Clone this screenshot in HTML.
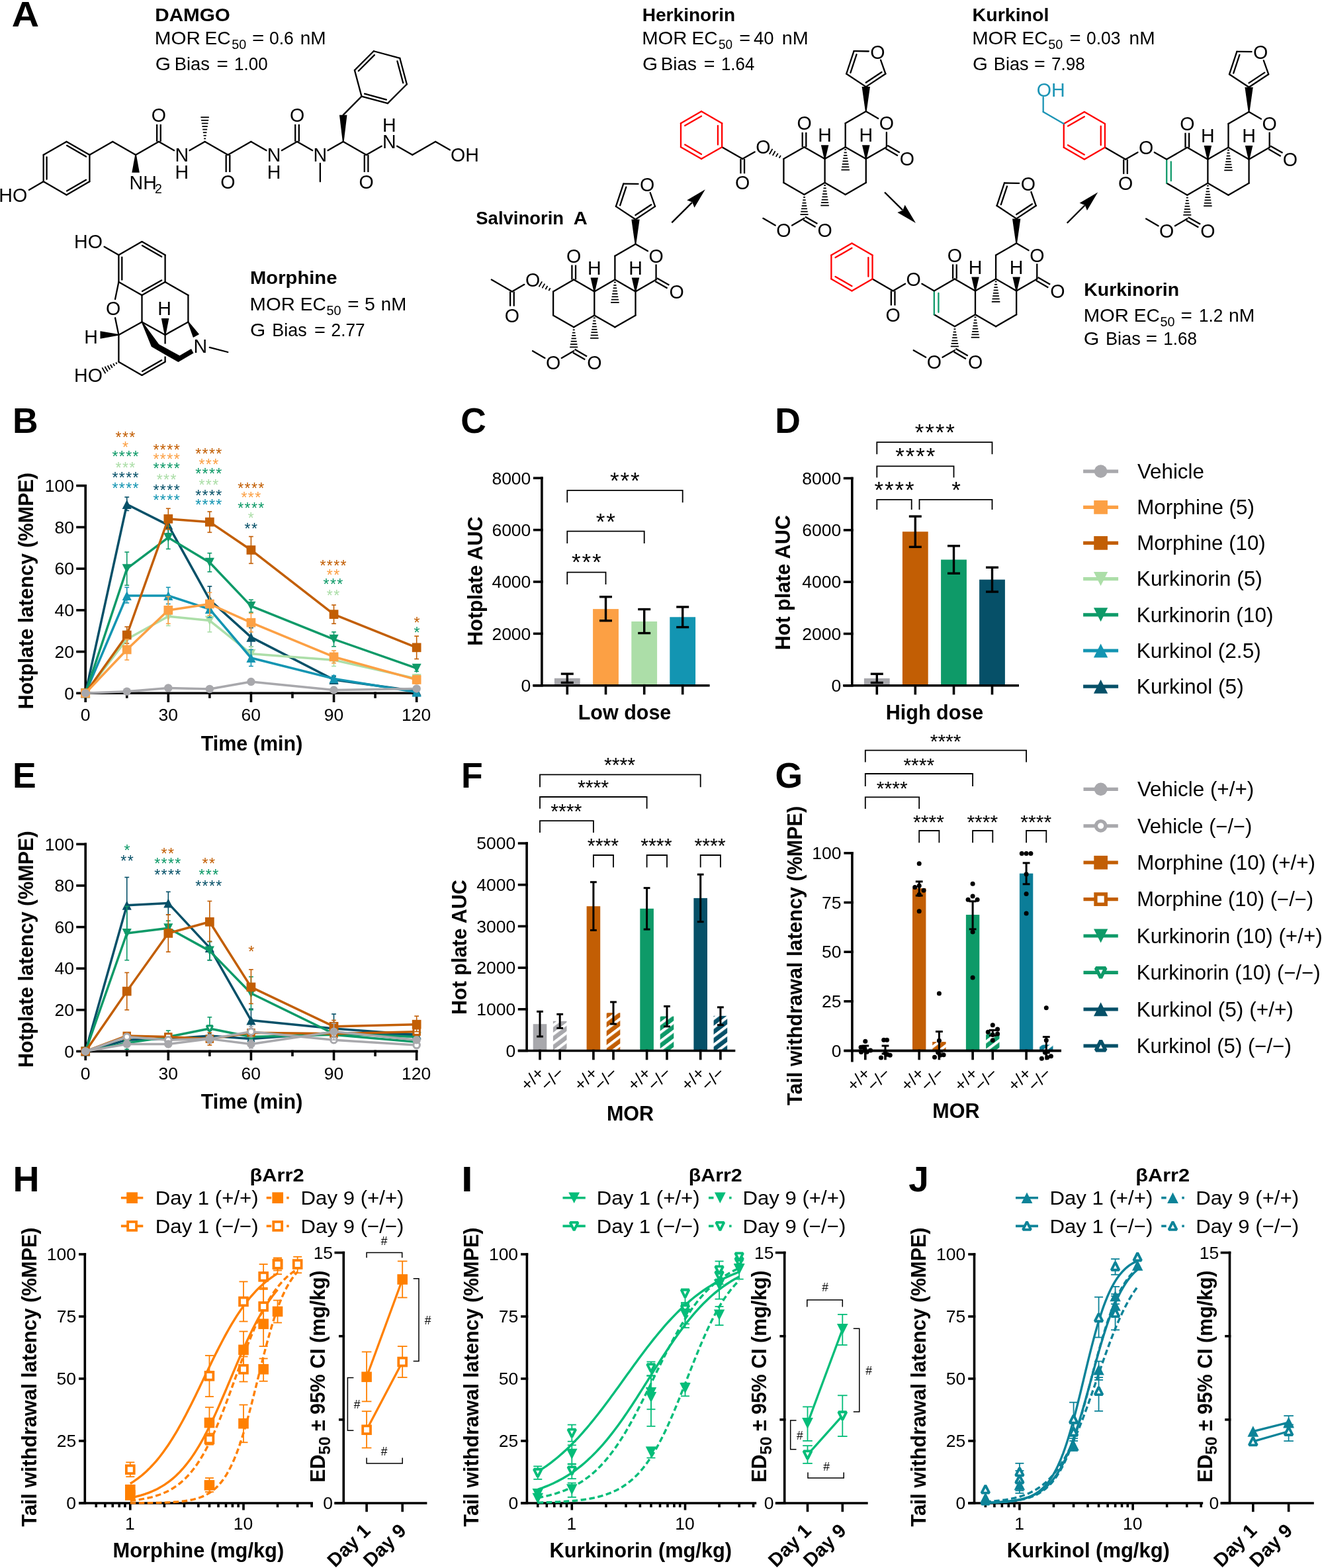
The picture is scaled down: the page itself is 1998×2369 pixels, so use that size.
<!DOCTYPE html>
<html lang="en"><head><meta charset="utf-8"><title>Figure</title>
<style>
html,body{margin:0;padding:0;background:#fff;}
svg{display:block;}
text{font-family:"Liberation Sans", Arial, sans-serif;}
</style></head><body>
<svg xmlns="http://www.w3.org/2000/svg" width="1998" height="2369" viewBox="0 0 1998 2369">
<rect x="0" y="0" width="1998" height="2369" fill="#fff"/>
<text x="17.87" y="40.40" font-size="53.5" font-weight="bold" textLength="41.34" lengthAdjust="spacingAndGlyphs">A</text>
<line x1="135.40" y1="234.02" x2="135.40" y2="274.26" stroke="#000" stroke-width="2.3" stroke-linecap="round"/>
<line x1="135.40" y1="274.26" x2="100.55" y2="294.38" stroke="#000" stroke-width="2.3" stroke-linecap="round"/>
<line x1="130.01" y1="271.72" x2="101.05" y2="288.44" stroke="#000" stroke-width="2.3" stroke-linecap="round"/>
<line x1="100.55" y1="294.38" x2="65.70" y2="274.26" stroke="#000" stroke-width="2.3" stroke-linecap="round"/>
<line x1="65.70" y1="274.26" x2="65.70" y2="234.02" stroke="#000" stroke-width="2.3" stroke-linecap="round"/>
<line x1="70.60" y1="270.86" x2="70.60" y2="237.42" stroke="#000" stroke-width="2.3" stroke-linecap="round"/>
<line x1="65.70" y1="234.02" x2="100.55" y2="213.90" stroke="#000" stroke-width="2.3" stroke-linecap="round"/>
<line x1="100.55" y1="213.90" x2="135.40" y2="234.02" stroke="#000" stroke-width="2.3" stroke-linecap="round"/>
<line x1="101.05" y1="219.84" x2="130.01" y2="236.56" stroke="#000" stroke-width="2.3" stroke-linecap="round"/>
<line x1="65.70" y1="274.26" x2="43.84" y2="286.88" stroke="#000" stroke-width="2.3" stroke-linecap="round"/>
<text x="41.15" y="304.62" font-size="28.6" text-anchor="end">HO</text>
<line x1="135.40" y1="234.02" x2="170.25" y2="213.90" stroke="#000" stroke-width="2.3" stroke-linecap="round"/>
<line x1="170.25" y1="213.90" x2="205.10" y2="234.02" stroke="#000" stroke-width="2.3" stroke-linecap="round"/>
<line x1="205.10" y1="234.02" x2="239.95" y2="213.90" stroke="#000" stroke-width="2.3" stroke-linecap="round"/>
<line x1="239.95" y1="213.90" x2="263.10" y2="227.27" stroke="#000" stroke-width="2.3" stroke-linecap="round"/>
<line x1="286.49" y1="227.27" x2="309.64" y2="213.90" stroke="#000" stroke-width="2.3" stroke-linecap="round"/>
<line x1="309.64" y1="213.90" x2="344.49" y2="234.02" stroke="#000" stroke-width="2.3" stroke-linecap="round"/>
<line x1="344.49" y1="234.02" x2="379.34" y2="213.90" stroke="#000" stroke-width="2.3" stroke-linecap="round"/>
<line x1="379.34" y1="213.90" x2="402.50" y2="227.27" stroke="#000" stroke-width="2.3" stroke-linecap="round"/>
<line x1="425.88" y1="227.27" x2="449.04" y2="213.90" stroke="#000" stroke-width="2.3" stroke-linecap="round"/>
<line x1="449.04" y1="213.90" x2="472.20" y2="227.27" stroke="#000" stroke-width="2.3" stroke-linecap="round"/>
<line x1="495.58" y1="227.27" x2="518.74" y2="213.90" stroke="#000" stroke-width="2.3" stroke-linecap="round"/>
<line x1="518.74" y1="213.90" x2="553.59" y2="234.02" stroke="#000" stroke-width="2.3" stroke-linecap="round"/>
<line x1="553.59" y1="234.02" x2="576.74" y2="220.65" stroke="#000" stroke-width="2.3" stroke-linecap="round"/>
<line x1="600.13" y1="220.65" x2="623.28" y2="234.02" stroke="#000" stroke-width="2.3" stroke-linecap="round"/>
<line x1="623.28" y1="234.02" x2="658.13" y2="213.90" stroke="#000" stroke-width="2.3" stroke-linecap="round"/>
<line x1="658.13" y1="213.90" x2="679.99" y2="226.52" stroke="#000" stroke-width="2.3" stroke-linecap="round"/>
<line x1="237.15" y1="213.90" x2="237.15" y2="187.86" stroke="#000" stroke-width="2.3" stroke-linecap="butt"/>
<line x1="242.75" y1="213.90" x2="242.75" y2="187.86" stroke="#000" stroke-width="2.3" stroke-linecap="butt"/>
<text x="239.95" y="183.90" font-size="28.6" text-anchor="middle">O</text>
<line x1="347.29" y1="234.02" x2="347.29" y2="260.06" stroke="#000" stroke-width="2.3" stroke-linecap="butt"/>
<line x1="341.69" y1="234.02" x2="341.69" y2="260.06" stroke="#000" stroke-width="2.3" stroke-linecap="butt"/>
<text x="344.49" y="284.50" font-size="28.6" text-anchor="middle">O</text>
<line x1="446.24" y1="213.90" x2="446.24" y2="187.86" stroke="#000" stroke-width="2.3" stroke-linecap="butt"/>
<line x1="451.84" y1="213.90" x2="451.84" y2="187.86" stroke="#000" stroke-width="2.3" stroke-linecap="butt"/>
<text x="449.04" y="183.90" font-size="28.6" text-anchor="middle">O</text>
<line x1="556.39" y1="234.02" x2="556.39" y2="260.06" stroke="#000" stroke-width="2.3" stroke-linecap="butt"/>
<line x1="550.79" y1="234.02" x2="550.79" y2="260.06" stroke="#000" stroke-width="2.3" stroke-linecap="butt"/>
<text x="553.59" y="284.50" font-size="28.6" text-anchor="middle">O</text>
<polygon points="204.20,234.02 199.35,260.76 210.85,260.76 206.00,234.02" fill="#000" stroke="none" stroke-width="0" stroke-linejoin="miter" stroke-linecap="butt"/>
<text x="195.50" y="286.00" font-size="28.6" text-anchor="start">NH</text>
<text x="234.10" y="291.75" font-size="19.5" text-anchor="start">2</text>
<text x="274.80" y="244.26" font-size="28.6" text-anchor="middle">N</text>
<text x="274.80" y="269.76" font-size="28.6" text-anchor="middle">H</text>
<text x="414.19" y="244.26" font-size="28.6" text-anchor="middle">N</text>
<text x="414.19" y="269.76" font-size="28.6" text-anchor="middle">H</text>
<text x="483.89" y="244.26" font-size="28.6" text-anchor="middle">N</text>
<text x="588.44" y="224.14" font-size="28.6" text-anchor="middle">N</text>
<text x="588.44" y="198.64" font-size="28.6" text-anchor="middle">H</text>
<text x="681.08" y="244.26" font-size="28.6" text-anchor="start">OH</text>
<line x1="483.89" y1="247.02" x2="483.89" y2="274.26" stroke="#000" stroke-width="2.3" stroke-linecap="round"/>
<line x1="308.22" y1="209.40" x2="311.07" y2="209.40" stroke="#000" stroke-width="1.8" stroke-linecap="butt"/>
<line x1="307.54" y1="204.80" x2="311.75" y2="204.80" stroke="#000" stroke-width="1.8" stroke-linecap="butt"/>
<line x1="306.85" y1="200.20" x2="312.44" y2="200.20" stroke="#000" stroke-width="1.8" stroke-linecap="butt"/>
<line x1="306.17" y1="195.60" x2="313.12" y2="195.60" stroke="#000" stroke-width="1.8" stroke-linecap="butt"/>
<line x1="305.48" y1="191.00" x2="313.81" y2="191.00" stroke="#000" stroke-width="1.8" stroke-linecap="butt"/>
<line x1="304.79" y1="186.40" x2="314.49" y2="186.40" stroke="#000" stroke-width="1.8" stroke-linecap="butt"/>
<line x1="304.11" y1="181.80" x2="315.18" y2="181.80" stroke="#000" stroke-width="1.8" stroke-linecap="butt"/>
<line x1="303.42" y1="177.20" x2="315.87" y2="177.20" stroke="#000" stroke-width="1.8" stroke-linecap="butt"/>
<polygon points="519.64,213.90 524.49,173.66 512.99,173.66 517.84,213.90" fill="#000" stroke="none" stroke-width="0" stroke-linejoin="miter" stroke-linecap="butt"/>
<line x1="518.74" y1="173.66" x2="546.52" y2="145.58" stroke="#000" stroke-width="2.3" stroke-linecap="round"/>
<line x1="546.52" y1="145.58" x2="585.97" y2="156.15" stroke="#000" stroke-width="2.3" stroke-linecap="round"/>
<line x1="551.07" y1="141.73" x2="583.95" y2="150.54" stroke="#000" stroke-width="2.3" stroke-linecap="round"/>
<line x1="585.97" y1="156.15" x2="614.85" y2="127.27" stroke="#000" stroke-width="2.3" stroke-linecap="round"/>
<line x1="614.85" y1="127.27" x2="604.28" y2="87.82" stroke="#000" stroke-width="2.3" stroke-linecap="round"/>
<line x1="609.24" y1="125.25" x2="600.43" y2="92.37" stroke="#000" stroke-width="2.3" stroke-linecap="round"/>
<line x1="604.28" y1="87.82" x2="564.83" y2="77.25" stroke="#000" stroke-width="2.3" stroke-linecap="round"/>
<line x1="564.83" y1="77.25" x2="535.95" y2="106.13" stroke="#000" stroke-width="2.3" stroke-linecap="round"/>
<line x1="565.89" y1="83.12" x2="541.82" y2="107.19" stroke="#000" stroke-width="2.3" stroke-linecap="round"/>
<line x1="535.95" y1="106.13" x2="546.52" y2="145.58" stroke="#000" stroke-width="2.3" stroke-linecap="round"/>
<line x1="179.40" y1="385.30" x2="214.50" y2="365.10" stroke="#000" stroke-width="2.3" stroke-linecap="round"/>
<line x1="214.50" y1="365.10" x2="249.60" y2="385.30" stroke="#000" stroke-width="2.3" stroke-linecap="round"/>
<line x1="215.00" y1="371.04" x2="244.21" y2="387.85" stroke="#000" stroke-width="2.3" stroke-linecap="round"/>
<line x1="249.60" y1="385.30" x2="249.60" y2="426.10" stroke="#000" stroke-width="2.3" stroke-linecap="round"/>
<line x1="249.60" y1="426.10" x2="214.50" y2="446.00" stroke="#000" stroke-width="2.3" stroke-linecap="round"/>
<line x1="244.23" y1="423.51" x2="215.04" y2="440.06" stroke="#000" stroke-width="2.3" stroke-linecap="round"/>
<line x1="214.50" y1="446.00" x2="179.40" y2="426.10" stroke="#000" stroke-width="2.3" stroke-linecap="round"/>
<line x1="179.40" y1="426.10" x2="179.40" y2="385.30" stroke="#000" stroke-width="2.3" stroke-linecap="round"/>
<line x1="184.30" y1="422.70" x2="184.30" y2="388.70" stroke="#000" stroke-width="2.3" stroke-linecap="round"/>
<line x1="179.40" y1="385.30" x2="157.59" y2="372.70" stroke="#000" stroke-width="2.3" stroke-linecap="round"/>
<text x="154.90" y="375.44" font-size="28.6" text-anchor="end">HO</text>
<line x1="179.40" y1="426.10" x2="174.05" y2="451.90" stroke="#000" stroke-width="2.3" stroke-linecap="round"/>
<line x1="174.06" y1="480.29" x2="179.40" y2="505.90" stroke="#000" stroke-width="2.3" stroke-linecap="round"/>
<text x="171.10" y="476.34" font-size="28.6" text-anchor="middle">O</text>
<line x1="214.50" y1="446.00" x2="214.50" y2="486.40" stroke="#000" stroke-width="2.3" stroke-linecap="round"/>
<line x1="214.50" y1="486.40" x2="179.40" y2="505.90" stroke="#000" stroke-width="2.3" stroke-linecap="round"/>
<line x1="214.50" y1="486.40" x2="249.60" y2="505.90" stroke="#000" stroke-width="2.3" stroke-linecap="round"/>
<line x1="249.60" y1="505.90" x2="284.40" y2="486.40" stroke="#000" stroke-width="2.3" stroke-linecap="round"/>
<line x1="284.40" y1="486.40" x2="284.40" y2="446.00" stroke="#000" stroke-width="2.3" stroke-linecap="round"/>
<line x1="284.40" y1="446.00" x2="249.60" y2="426.10" stroke="#000" stroke-width="2.3" stroke-linecap="round"/>
<line x1="179.40" y1="505.90" x2="179.40" y2="546.80" stroke="#000" stroke-width="2.3" stroke-linecap="round"/>
<line x1="179.40" y1="546.80" x2="214.50" y2="566.90" stroke="#000" stroke-width="2.3" stroke-linecap="round"/>
<line x1="214.50" y1="566.90" x2="249.60" y2="546.80" stroke="#000" stroke-width="2.3" stroke-linecap="round"/>
<line x1="215.02" y1="560.96" x2="244.21" y2="544.24" stroke="#000" stroke-width="2.3" stroke-linecap="round"/>
<line x1="249.60" y1="505.90" x2="249.60" y2="519.50" stroke="#000" stroke-width="2.3" stroke-linecap="butt"/>
<line x1="249.60" y1="538.50" x2="249.60" y2="546.80" stroke="#000" stroke-width="2.3" stroke-linecap="butt"/>
<polygon points="179.40,505.00 151.50,500.15 151.50,511.65 179.40,506.80" fill="#000" stroke="none" stroke-width="0" stroke-linejoin="miter" stroke-linecap="butt"/>
<text x="137.60" y="518.64" font-size="28.6" text-anchor="middle">H</text>
<polygon points="250.50,505.90 255.35,481.00 243.85,481.00 248.70,505.90" fill="#000" stroke="none" stroke-width="0" stroke-linejoin="miter" stroke-linecap="butt"/>
<text x="248.60" y="475.94" font-size="28.6" text-anchor="middle">H</text>
<polygon points="213.70,486.40 215.30,485.90 240.50,520.60 232.30,525.50 227.80,521.20" fill="#000" stroke="none" stroke-width="0" stroke-linejoin="miter" stroke-linecap="butt"/>
<polygon points="228.00,521.60 240.00,520.00 271.50,537.30 289.00,527.00 292.50,533.50 269.50,547.00 268.00,546.30 228.80,523.80" fill="#000" stroke="none" stroke-width="0" stroke-linejoin="miter" stroke-linecap="butt"/>
<polygon points="283.62,486.85 291.95,510.11 301.05,504.89 285.18,485.95" fill="#000" stroke="none" stroke-width="0" stroke-linejoin="miter" stroke-linecap="butt"/>
<text x="302.80" y="532.54" font-size="28.6" text-anchor="middle">N</text>
<line x1="316.80" y1="524.90" x2="344.30" y2="532.00" stroke="#000" stroke-width="2.3" stroke-linecap="round"/>
<line x1="176.65" y1="550.03" x2="175.22" y2="547.57" stroke="#000" stroke-width="1.8" stroke-linecap="butt"/>
<line x1="173.21" y1="552.88" x2="171.04" y2="549.13" stroke="#000" stroke-width="1.8" stroke-linecap="butt"/>
<line x1="169.77" y1="555.72" x2="166.86" y2="550.68" stroke="#000" stroke-width="1.8" stroke-linecap="butt"/>
<line x1="166.33" y1="558.56" x2="162.68" y2="552.24" stroke="#000" stroke-width="1.8" stroke-linecap="butt"/>
<line x1="162.89" y1="561.40" x2="158.50" y2="553.80" stroke="#000" stroke-width="1.8" stroke-linecap="butt"/>
<line x1="159.45" y1="564.25" x2="154.32" y2="555.36" stroke="#000" stroke-width="1.8" stroke-linecap="butt"/>
<text x="154.90" y="577.14" font-size="28.6" text-anchor="end">HO</text>
<line x1="867.21" y1="422.55" x2="836.12" y2="440.50" stroke="#000" stroke-width="2.3" stroke-linecap="round"/>
<line x1="867.21" y1="422.55" x2="898.30" y2="440.50" stroke="#000" stroke-width="2.3" stroke-linecap="round"/>
<line x1="898.30" y1="440.50" x2="898.30" y2="476.40" stroke="#000" stroke-width="2.3" stroke-linecap="round"/>
<line x1="898.30" y1="476.40" x2="867.21" y2="494.35" stroke="#000" stroke-width="2.3" stroke-linecap="round"/>
<line x1="867.21" y1="494.35" x2="836.12" y2="476.40" stroke="#000" stroke-width="2.3" stroke-linecap="round"/>
<line x1="836.12" y1="440.50" x2="836.12" y2="476.40" stroke="#000" stroke-width="2.3" stroke-linecap="round"/>
<line x1="898.30" y1="440.50" x2="929.39" y2="422.55" stroke="#000" stroke-width="2.3" stroke-linecap="round"/>
<line x1="929.39" y1="422.55" x2="960.48" y2="440.50" stroke="#000" stroke-width="2.3" stroke-linecap="round"/>
<line x1="960.48" y1="440.50" x2="960.48" y2="476.40" stroke="#000" stroke-width="2.3" stroke-linecap="round"/>
<line x1="960.48" y1="476.40" x2="929.39" y2="494.35" stroke="#000" stroke-width="2.3" stroke-linecap="round"/>
<line x1="929.39" y1="494.35" x2="898.30" y2="476.40" stroke="#000" stroke-width="2.3" stroke-linecap="round"/>
<line x1="929.39" y1="422.55" x2="929.39" y2="386.65" stroke="#000" stroke-width="2.3" stroke-linecap="round"/>
<line x1="929.39" y1="386.65" x2="960.48" y2="368.70" stroke="#000" stroke-width="2.3" stroke-linecap="round"/>
<line x1="960.48" y1="368.70" x2="978.93" y2="379.35" stroke="#000" stroke-width="2.3" stroke-linecap="round"/>
<line x1="991.57" y1="400.45" x2="991.57" y2="422.55" stroke="#000" stroke-width="2.3" stroke-linecap="round"/>
<line x1="991.57" y1="422.55" x2="960.48" y2="440.50" stroke="#000" stroke-width="2.3" stroke-linecap="round"/>
<line x1="992.97" y1="420.13" x2="1011.42" y2="430.78" stroke="#000" stroke-width="2.3" stroke-linecap="butt"/>
<line x1="990.17" y1="424.97" x2="1008.62" y2="435.62" stroke="#000" stroke-width="2.3" stroke-linecap="butt"/>
<line x1="864.41" y1="422.55" x2="864.41" y2="400.45" stroke="#000" stroke-width="2.3" stroke-linecap="butt"/>
<line x1="870.01" y1="422.55" x2="870.01" y2="400.45" stroke="#000" stroke-width="2.3" stroke-linecap="butt"/>
<text x="867.21" y="396.89" font-size="28.6" text-anchor="middle">O</text>
<text x="991.57" y="396.89" font-size="28.6" text-anchor="middle">O</text>
<text x="1022.66" y="450.74" font-size="28.6" text-anchor="middle">O</text>
<polygon points="899.20,440.50 904.05,419.60 892.55,419.60 897.40,440.50" fill="#000" stroke="none" stroke-width="0" stroke-linejoin="miter" stroke-linecap="butt"/>
<polygon points="961.38,440.50 966.23,419.60 954.73,419.60 959.58,440.50" fill="#000" stroke="none" stroke-width="0" stroke-linejoin="miter" stroke-linecap="butt"/>
<text x="898.30" y="414.84" font-size="28.6" text-anchor="middle">H</text>
<text x="960.48" y="414.84" font-size="28.6" text-anchor="middle">H</text>
<line x1="930.78" y1="426.55" x2="928.00" y2="426.55" stroke="#000" stroke-width="1.8" stroke-linecap="butt"/>
<line x1="931.48" y1="430.90" x2="927.30" y2="430.90" stroke="#000" stroke-width="1.8" stroke-linecap="butt"/>
<line x1="932.17" y1="435.25" x2="926.61" y2="435.25" stroke="#000" stroke-width="1.8" stroke-linecap="butt"/>
<line x1="932.87" y1="439.60" x2="925.91" y2="439.60" stroke="#000" stroke-width="1.8" stroke-linecap="butt"/>
<line x1="933.57" y1="443.95" x2="925.21" y2="443.95" stroke="#000" stroke-width="1.8" stroke-linecap="butt"/>
<line x1="934.26" y1="448.30" x2="924.52" y2="448.30" stroke="#000" stroke-width="1.8" stroke-linecap="butt"/>
<line x1="934.96" y1="452.65" x2="923.82" y2="452.65" stroke="#000" stroke-width="1.8" stroke-linecap="butt"/>
<line x1="935.66" y1="457.00" x2="923.12" y2="457.00" stroke="#000" stroke-width="1.8" stroke-linecap="butt"/>
<line x1="899.69" y1="480.40" x2="896.91" y2="480.40" stroke="#000" stroke-width="1.8" stroke-linecap="butt"/>
<line x1="900.39" y1="484.75" x2="896.21" y2="484.75" stroke="#000" stroke-width="1.8" stroke-linecap="butt"/>
<line x1="901.08" y1="489.10" x2="895.52" y2="489.10" stroke="#000" stroke-width="1.8" stroke-linecap="butt"/>
<line x1="901.78" y1="493.45" x2="894.82" y2="493.45" stroke="#000" stroke-width="1.8" stroke-linecap="butt"/>
<line x1="902.48" y1="497.80" x2="894.12" y2="497.80" stroke="#000" stroke-width="1.8" stroke-linecap="butt"/>
<line x1="903.17" y1="502.15" x2="893.43" y2="502.15" stroke="#000" stroke-width="1.8" stroke-linecap="butt"/>
<line x1="903.87" y1="506.50" x2="892.73" y2="506.50" stroke="#000" stroke-width="1.8" stroke-linecap="butt"/>
<line x1="904.57" y1="510.85" x2="892.03" y2="510.85" stroke="#000" stroke-width="1.8" stroke-linecap="butt"/>
<line x1="868.66" y1="498.35" x2="865.76" y2="498.35" stroke="#000" stroke-width="1.8" stroke-linecap="butt"/>
<line x1="869.42" y1="502.70" x2="865.00" y2="502.70" stroke="#000" stroke-width="1.8" stroke-linecap="butt"/>
<line x1="870.18" y1="507.05" x2="864.24" y2="507.05" stroke="#000" stroke-width="1.8" stroke-linecap="butt"/>
<line x1="870.94" y1="511.40" x2="863.48" y2="511.40" stroke="#000" stroke-width="1.8" stroke-linecap="butt"/>
<line x1="871.70" y1="515.75" x2="862.72" y2="515.75" stroke="#000" stroke-width="1.8" stroke-linecap="butt"/>
<line x1="872.46" y1="520.10" x2="861.96" y2="520.10" stroke="#000" stroke-width="1.8" stroke-linecap="butt"/>
<line x1="873.22" y1="524.45" x2="861.20" y2="524.45" stroke="#000" stroke-width="1.8" stroke-linecap="butt"/>
<line x1="868.61" y1="527.83" x2="887.06" y2="538.48" stroke="#000" stroke-width="2.3" stroke-linecap="butt"/>
<line x1="865.81" y1="532.67" x2="884.26" y2="543.32" stroke="#000" stroke-width="2.3" stroke-linecap="butt"/>
<line x1="867.21" y1="530.25" x2="848.76" y2="540.90" stroke="#000" stroke-width="2.3" stroke-linecap="round"/>
<line x1="823.48" y1="540.90" x2="805.03" y2="530.25" stroke="#000" stroke-width="2.3" stroke-linecap="round"/>
<text x="898.30" y="558.44" font-size="28.6" text-anchor="middle">O</text>
<text x="836.12" y="558.44" font-size="28.6" text-anchor="middle">O</text>
<polygon points="961.38,368.70 966.63,331.50 954.33,331.50 959.58,368.70" fill="#000" stroke="none" stroke-width="0" stroke-linejoin="miter" stroke-linecap="butt"/>
<line x1="960.48" y1="331.50" x2="990.08" y2="311.90" stroke="#000" stroke-width="2.3" stroke-linecap="round"/>
<line x1="960.42" y1="325.07" x2="984.18" y2="309.33" stroke="#000" stroke-width="2.3" stroke-linecap="round"/>
<line x1="990.08" y1="311.90" x2="982.70" y2="291.10" stroke="#000" stroke-width="2.3" stroke-linecap="round"/>
<line x1="964.48" y1="277.91" x2="942.28" y2="277.60" stroke="#000" stroke-width="2.3" stroke-linecap="round"/>
<line x1="942.28" y1="277.60" x2="930.88" y2="311.90" stroke="#000" stroke-width="2.3" stroke-linecap="round"/>
<line x1="946.30" y1="282.62" x2="937.11" y2="310.28" stroke="#000" stroke-width="2.3" stroke-linecap="round"/>
<line x1="930.88" y1="311.90" x2="960.48" y2="331.50" stroke="#000" stroke-width="2.3" stroke-linecap="round"/>
<text x="978.08" y="288.94" font-size="28.6" text-anchor="middle">O</text>
<line x1="829.37" y1="439.19" x2="831.61" y2="435.31" stroke="#000" stroke-width="1.8" stroke-linecap="butt"/>
<line x1="824.42" y1="437.26" x2="827.47" y2="431.99" stroke="#000" stroke-width="1.8" stroke-linecap="butt"/>
<line x1="819.47" y1="435.33" x2="823.32" y2="428.67" stroke="#000" stroke-width="1.8" stroke-linecap="butt"/>
<line x1="814.52" y1="433.40" x2="819.18" y2="425.35" stroke="#000" stroke-width="1.8" stroke-linecap="butt"/>
<text x="805.03" y="432.79" font-size="28.6" text-anchor="middle">O</text>
<line x1="792.39" y1="429.85" x2="773.94" y2="440.50" stroke="#000" stroke-width="2.3" stroke-linecap="round"/>
<line x1="773.94" y1="440.50" x2="742.85" y2="422.55" stroke="#000" stroke-width="2.3" stroke-linecap="round"/>
<line x1="776.74" y1="440.50" x2="776.74" y2="462.60" stroke="#000" stroke-width="2.3" stroke-linecap="butt"/>
<line x1="771.14" y1="440.50" x2="771.14" y2="462.60" stroke="#000" stroke-width="2.3" stroke-linecap="butt"/>
<text x="773.94" y="486.64" font-size="28.6" text-anchor="middle">O</text>
<line x1="1215.51" y1="222.15" x2="1184.42" y2="240.10" stroke="#000" stroke-width="2.3" stroke-linecap="round"/>
<line x1="1215.51" y1="222.15" x2="1246.60" y2="240.10" stroke="#000" stroke-width="2.3" stroke-linecap="round"/>
<line x1="1246.60" y1="240.10" x2="1246.60" y2="276.00" stroke="#000" stroke-width="2.3" stroke-linecap="round"/>
<line x1="1246.60" y1="276.00" x2="1215.51" y2="293.95" stroke="#000" stroke-width="2.3" stroke-linecap="round"/>
<line x1="1215.51" y1="293.95" x2="1184.42" y2="276.00" stroke="#000" stroke-width="2.3" stroke-linecap="round"/>
<line x1="1184.42" y1="240.10" x2="1184.42" y2="276.00" stroke="#000" stroke-width="2.3" stroke-linecap="round"/>
<line x1="1246.60" y1="240.10" x2="1277.69" y2="222.15" stroke="#000" stroke-width="2.3" stroke-linecap="round"/>
<line x1="1277.69" y1="222.15" x2="1308.78" y2="240.10" stroke="#000" stroke-width="2.3" stroke-linecap="round"/>
<line x1="1308.78" y1="240.10" x2="1308.78" y2="276.00" stroke="#000" stroke-width="2.3" stroke-linecap="round"/>
<line x1="1308.78" y1="276.00" x2="1277.69" y2="293.95" stroke="#000" stroke-width="2.3" stroke-linecap="round"/>
<line x1="1277.69" y1="293.95" x2="1246.60" y2="276.00" stroke="#000" stroke-width="2.3" stroke-linecap="round"/>
<line x1="1277.69" y1="222.15" x2="1277.69" y2="186.25" stroke="#000" stroke-width="2.3" stroke-linecap="round"/>
<line x1="1277.69" y1="186.25" x2="1308.78" y2="168.30" stroke="#000" stroke-width="2.3" stroke-linecap="round"/>
<line x1="1308.78" y1="168.30" x2="1327.23" y2="178.95" stroke="#000" stroke-width="2.3" stroke-linecap="round"/>
<line x1="1339.87" y1="200.05" x2="1339.87" y2="222.15" stroke="#000" stroke-width="2.3" stroke-linecap="round"/>
<line x1="1339.87" y1="222.15" x2="1308.78" y2="240.10" stroke="#000" stroke-width="2.3" stroke-linecap="round"/>
<line x1="1341.27" y1="219.73" x2="1359.72" y2="230.38" stroke="#000" stroke-width="2.3" stroke-linecap="butt"/>
<line x1="1338.47" y1="224.57" x2="1356.92" y2="235.22" stroke="#000" stroke-width="2.3" stroke-linecap="butt"/>
<line x1="1212.71" y1="222.15" x2="1212.71" y2="200.05" stroke="#000" stroke-width="2.3" stroke-linecap="butt"/>
<line x1="1218.31" y1="222.15" x2="1218.31" y2="200.05" stroke="#000" stroke-width="2.3" stroke-linecap="butt"/>
<text x="1215.51" y="196.49" font-size="28.6" text-anchor="middle">O</text>
<text x="1339.87" y="196.49" font-size="28.6" text-anchor="middle">O</text>
<text x="1370.96" y="250.34" font-size="28.6" text-anchor="middle">O</text>
<polygon points="1247.50,240.10 1252.35,219.20 1240.85,219.20 1245.70,240.10" fill="#000" stroke="none" stroke-width="0" stroke-linejoin="miter" stroke-linecap="butt"/>
<polygon points="1309.68,240.10 1314.53,219.20 1303.03,219.20 1307.88,240.10" fill="#000" stroke="none" stroke-width="0" stroke-linejoin="miter" stroke-linecap="butt"/>
<text x="1246.60" y="214.44" font-size="28.6" text-anchor="middle">H</text>
<text x="1308.78" y="214.44" font-size="28.6" text-anchor="middle">H</text>
<line x1="1279.08" y1="226.15" x2="1276.30" y2="226.15" stroke="#000" stroke-width="1.8" stroke-linecap="butt"/>
<line x1="1279.78" y1="230.50" x2="1275.60" y2="230.50" stroke="#000" stroke-width="1.8" stroke-linecap="butt"/>
<line x1="1280.47" y1="234.85" x2="1274.91" y2="234.85" stroke="#000" stroke-width="1.8" stroke-linecap="butt"/>
<line x1="1281.17" y1="239.20" x2="1274.21" y2="239.20" stroke="#000" stroke-width="1.8" stroke-linecap="butt"/>
<line x1="1281.87" y1="243.55" x2="1273.51" y2="243.55" stroke="#000" stroke-width="1.8" stroke-linecap="butt"/>
<line x1="1282.56" y1="247.90" x2="1272.82" y2="247.90" stroke="#000" stroke-width="1.8" stroke-linecap="butt"/>
<line x1="1283.26" y1="252.25" x2="1272.12" y2="252.25" stroke="#000" stroke-width="1.8" stroke-linecap="butt"/>
<line x1="1283.96" y1="256.60" x2="1271.42" y2="256.60" stroke="#000" stroke-width="1.8" stroke-linecap="butt"/>
<line x1="1247.99" y1="280.00" x2="1245.21" y2="280.00" stroke="#000" stroke-width="1.8" stroke-linecap="butt"/>
<line x1="1248.69" y1="284.35" x2="1244.51" y2="284.35" stroke="#000" stroke-width="1.8" stroke-linecap="butt"/>
<line x1="1249.38" y1="288.70" x2="1243.82" y2="288.70" stroke="#000" stroke-width="1.8" stroke-linecap="butt"/>
<line x1="1250.08" y1="293.05" x2="1243.12" y2="293.05" stroke="#000" stroke-width="1.8" stroke-linecap="butt"/>
<line x1="1250.78" y1="297.40" x2="1242.42" y2="297.40" stroke="#000" stroke-width="1.8" stroke-linecap="butt"/>
<line x1="1251.47" y1="301.75" x2="1241.73" y2="301.75" stroke="#000" stroke-width="1.8" stroke-linecap="butt"/>
<line x1="1252.17" y1="306.10" x2="1241.03" y2="306.10" stroke="#000" stroke-width="1.8" stroke-linecap="butt"/>
<line x1="1252.87" y1="310.45" x2="1240.33" y2="310.45" stroke="#000" stroke-width="1.8" stroke-linecap="butt"/>
<line x1="1216.96" y1="297.95" x2="1214.06" y2="297.95" stroke="#000" stroke-width="1.8" stroke-linecap="butt"/>
<line x1="1217.72" y1="302.30" x2="1213.30" y2="302.30" stroke="#000" stroke-width="1.8" stroke-linecap="butt"/>
<line x1="1218.48" y1="306.65" x2="1212.54" y2="306.65" stroke="#000" stroke-width="1.8" stroke-linecap="butt"/>
<line x1="1219.24" y1="311.00" x2="1211.78" y2="311.00" stroke="#000" stroke-width="1.8" stroke-linecap="butt"/>
<line x1="1220.00" y1="315.35" x2="1211.02" y2="315.35" stroke="#000" stroke-width="1.8" stroke-linecap="butt"/>
<line x1="1220.76" y1="319.70" x2="1210.26" y2="319.70" stroke="#000" stroke-width="1.8" stroke-linecap="butt"/>
<line x1="1221.52" y1="324.05" x2="1209.50" y2="324.05" stroke="#000" stroke-width="1.8" stroke-linecap="butt"/>
<line x1="1216.91" y1="327.43" x2="1235.36" y2="338.08" stroke="#000" stroke-width="2.3" stroke-linecap="butt"/>
<line x1="1214.11" y1="332.27" x2="1232.56" y2="342.92" stroke="#000" stroke-width="2.3" stroke-linecap="butt"/>
<line x1="1215.51" y1="329.85" x2="1197.06" y2="340.50" stroke="#000" stroke-width="2.3" stroke-linecap="round"/>
<line x1="1171.78" y1="340.50" x2="1153.33" y2="329.85" stroke="#000" stroke-width="2.3" stroke-linecap="round"/>
<text x="1246.60" y="358.04" font-size="28.6" text-anchor="middle">O</text>
<text x="1184.42" y="358.04" font-size="28.6" text-anchor="middle">O</text>
<polygon points="1309.68,168.30 1314.93,131.10 1302.63,131.10 1307.88,168.30" fill="#000" stroke="none" stroke-width="0" stroke-linejoin="miter" stroke-linecap="butt"/>
<line x1="1308.78" y1="131.10" x2="1338.38" y2="111.50" stroke="#000" stroke-width="2.3" stroke-linecap="round"/>
<line x1="1308.72" y1="124.67" x2="1332.48" y2="108.93" stroke="#000" stroke-width="2.3" stroke-linecap="round"/>
<line x1="1338.38" y1="111.50" x2="1331.00" y2="90.70" stroke="#000" stroke-width="2.3" stroke-linecap="round"/>
<line x1="1312.78" y1="77.51" x2="1290.58" y2="77.20" stroke="#000" stroke-width="2.3" stroke-linecap="round"/>
<line x1="1290.58" y1="77.20" x2="1279.18" y2="111.50" stroke="#000" stroke-width="2.3" stroke-linecap="round"/>
<line x1="1294.60" y1="82.22" x2="1285.41" y2="109.88" stroke="#000" stroke-width="2.3" stroke-linecap="round"/>
<line x1="1279.18" y1="111.50" x2="1308.78" y2="131.10" stroke="#000" stroke-width="2.3" stroke-linecap="round"/>
<text x="1326.38" y="88.54" font-size="28.6" text-anchor="middle">O</text>
<line x1="1177.67" y1="238.79" x2="1179.91" y2="234.91" stroke="#000" stroke-width="1.8" stroke-linecap="butt"/>
<line x1="1172.72" y1="236.86" x2="1175.77" y2="231.59" stroke="#000" stroke-width="1.8" stroke-linecap="butt"/>
<line x1="1167.77" y1="234.93" x2="1171.62" y2="228.27" stroke="#000" stroke-width="1.8" stroke-linecap="butt"/>
<line x1="1162.82" y1="233.00" x2="1167.48" y2="224.95" stroke="#000" stroke-width="1.8" stroke-linecap="butt"/>
<text x="1153.33" y="232.39" font-size="28.6" text-anchor="middle">O</text>
<line x1="1140.69" y1="229.45" x2="1122.24" y2="240.10" stroke="#000" stroke-width="2.3" stroke-linecap="round"/>
<line x1="1125.04" y1="240.10" x2="1125.04" y2="262.20" stroke="#000" stroke-width="2.3" stroke-linecap="butt"/>
<line x1="1119.44" y1="240.10" x2="1119.44" y2="262.20" stroke="#000" stroke-width="2.3" stroke-linecap="butt"/>
<text x="1122.24" y="286.24" font-size="28.6" text-anchor="middle">O</text>
<line x1="1122.24" y1="240.10" x2="1091.15" y2="222.15" stroke="#000" stroke-width="2.3" stroke-linecap="round"/>
<line x1="1091.15" y1="186.25" x2="1091.15" y2="222.15" stroke="#FF0000" stroke-width="2.3" stroke-linecap="round"/>
<line x1="1084.95" y1="189.85" x2="1084.95" y2="218.55" stroke="#FF0000" stroke-width="2.3" stroke-linecap="round"/>
<line x1="1091.15" y1="222.15" x2="1060.06" y2="240.10" stroke="#FF0000" stroke-width="2.3" stroke-linecap="round"/>
<line x1="1060.06" y1="240.10" x2="1028.97" y2="222.15" stroke="#FF0000" stroke-width="2.3" stroke-linecap="round"/>
<line x1="1060.04" y1="232.93" x2="1035.19" y2="218.58" stroke="#FF0000" stroke-width="2.3" stroke-linecap="round"/>
<line x1="1028.97" y1="222.15" x2="1028.97" y2="186.25" stroke="#FF0000" stroke-width="2.3" stroke-linecap="round"/>
<line x1="1028.97" y1="186.25" x2="1060.06" y2="168.30" stroke="#FF0000" stroke-width="2.3" stroke-linecap="round"/>
<line x1="1035.19" y1="189.82" x2="1060.04" y2="175.47" stroke="#FF0000" stroke-width="2.3" stroke-linecap="round"/>
<line x1="1060.06" y1="168.30" x2="1091.15" y2="186.25" stroke="#FF0000" stroke-width="2.3" stroke-linecap="round"/>
<line x1="1442.91" y1="421.45" x2="1411.82" y2="439.40" stroke="#000" stroke-width="2.3" stroke-linecap="round"/>
<line x1="1442.91" y1="421.45" x2="1474.00" y2="439.40" stroke="#000" stroke-width="2.3" stroke-linecap="round"/>
<line x1="1474.00" y1="439.40" x2="1474.00" y2="475.30" stroke="#000" stroke-width="2.3" stroke-linecap="round"/>
<line x1="1474.00" y1="475.30" x2="1442.91" y2="493.25" stroke="#000" stroke-width="2.3" stroke-linecap="round"/>
<line x1="1442.91" y1="493.25" x2="1411.82" y2="475.30" stroke="#000" stroke-width="2.3" stroke-linecap="round"/>
<line x1="1411.82" y1="439.40" x2="1411.82" y2="475.30" stroke="#119A6B" stroke-width="2.3" stroke-linecap="round"/>
<line x1="1418.42" y1="442.90" x2="1418.42" y2="471.80" stroke="#119A6B" stroke-width="2.3" stroke-linecap="round"/>
<line x1="1474.00" y1="439.40" x2="1505.09" y2="421.45" stroke="#000" stroke-width="2.3" stroke-linecap="round"/>
<line x1="1505.09" y1="421.45" x2="1536.18" y2="439.40" stroke="#000" stroke-width="2.3" stroke-linecap="round"/>
<line x1="1536.18" y1="439.40" x2="1536.18" y2="475.30" stroke="#000" stroke-width="2.3" stroke-linecap="round"/>
<line x1="1536.18" y1="475.30" x2="1505.09" y2="493.25" stroke="#000" stroke-width="2.3" stroke-linecap="round"/>
<line x1="1505.09" y1="493.25" x2="1474.00" y2="475.30" stroke="#000" stroke-width="2.3" stroke-linecap="round"/>
<line x1="1505.09" y1="421.45" x2="1505.09" y2="385.55" stroke="#000" stroke-width="2.3" stroke-linecap="round"/>
<line x1="1505.09" y1="385.55" x2="1536.18" y2="367.60" stroke="#000" stroke-width="2.3" stroke-linecap="round"/>
<line x1="1536.18" y1="367.60" x2="1554.63" y2="378.25" stroke="#000" stroke-width="2.3" stroke-linecap="round"/>
<line x1="1567.27" y1="399.35" x2="1567.27" y2="421.45" stroke="#000" stroke-width="2.3" stroke-linecap="round"/>
<line x1="1567.27" y1="421.45" x2="1536.18" y2="439.40" stroke="#000" stroke-width="2.3" stroke-linecap="round"/>
<line x1="1568.67" y1="419.03" x2="1587.12" y2="429.68" stroke="#000" stroke-width="2.3" stroke-linecap="butt"/>
<line x1="1565.87" y1="423.87" x2="1584.32" y2="434.52" stroke="#000" stroke-width="2.3" stroke-linecap="butt"/>
<line x1="1440.11" y1="421.45" x2="1440.11" y2="399.35" stroke="#000" stroke-width="2.3" stroke-linecap="butt"/>
<line x1="1445.71" y1="421.45" x2="1445.71" y2="399.35" stroke="#000" stroke-width="2.3" stroke-linecap="butt"/>
<text x="1442.91" y="395.79" font-size="28.6" text-anchor="middle">O</text>
<text x="1567.27" y="395.79" font-size="28.6" text-anchor="middle">O</text>
<text x="1598.36" y="449.64" font-size="28.6" text-anchor="middle">O</text>
<polygon points="1474.90,439.40 1479.75,418.50 1468.25,418.50 1473.10,439.40" fill="#000" stroke="none" stroke-width="0" stroke-linejoin="miter" stroke-linecap="butt"/>
<polygon points="1537.08,439.40 1541.93,418.50 1530.43,418.50 1535.28,439.40" fill="#000" stroke="none" stroke-width="0" stroke-linejoin="miter" stroke-linecap="butt"/>
<text x="1474.00" y="413.74" font-size="28.6" text-anchor="middle">H</text>
<text x="1536.18" y="413.74" font-size="28.6" text-anchor="middle">H</text>
<line x1="1506.48" y1="425.45" x2="1503.70" y2="425.45" stroke="#000" stroke-width="1.8" stroke-linecap="butt"/>
<line x1="1507.18" y1="429.80" x2="1503.00" y2="429.80" stroke="#000" stroke-width="1.8" stroke-linecap="butt"/>
<line x1="1507.87" y1="434.15" x2="1502.31" y2="434.15" stroke="#000" stroke-width="1.8" stroke-linecap="butt"/>
<line x1="1508.57" y1="438.50" x2="1501.61" y2="438.50" stroke="#000" stroke-width="1.8" stroke-linecap="butt"/>
<line x1="1509.27" y1="442.85" x2="1500.91" y2="442.85" stroke="#000" stroke-width="1.8" stroke-linecap="butt"/>
<line x1="1509.96" y1="447.20" x2="1500.22" y2="447.20" stroke="#000" stroke-width="1.8" stroke-linecap="butt"/>
<line x1="1510.66" y1="451.55" x2="1499.52" y2="451.55" stroke="#000" stroke-width="1.8" stroke-linecap="butt"/>
<line x1="1511.36" y1="455.90" x2="1498.82" y2="455.90" stroke="#000" stroke-width="1.8" stroke-linecap="butt"/>
<line x1="1475.39" y1="479.30" x2="1472.61" y2="479.30" stroke="#000" stroke-width="1.8" stroke-linecap="butt"/>
<line x1="1476.09" y1="483.65" x2="1471.91" y2="483.65" stroke="#000" stroke-width="1.8" stroke-linecap="butt"/>
<line x1="1476.78" y1="488.00" x2="1471.22" y2="488.00" stroke="#000" stroke-width="1.8" stroke-linecap="butt"/>
<line x1="1477.48" y1="492.35" x2="1470.52" y2="492.35" stroke="#000" stroke-width="1.8" stroke-linecap="butt"/>
<line x1="1478.18" y1="496.70" x2="1469.82" y2="496.70" stroke="#000" stroke-width="1.8" stroke-linecap="butt"/>
<line x1="1478.87" y1="501.05" x2="1469.13" y2="501.05" stroke="#000" stroke-width="1.8" stroke-linecap="butt"/>
<line x1="1479.57" y1="505.40" x2="1468.43" y2="505.40" stroke="#000" stroke-width="1.8" stroke-linecap="butt"/>
<line x1="1480.27" y1="509.75" x2="1467.73" y2="509.75" stroke="#000" stroke-width="1.8" stroke-linecap="butt"/>
<line x1="1444.36" y1="497.25" x2="1441.46" y2="497.25" stroke="#000" stroke-width="1.8" stroke-linecap="butt"/>
<line x1="1445.12" y1="501.60" x2="1440.70" y2="501.60" stroke="#000" stroke-width="1.8" stroke-linecap="butt"/>
<line x1="1445.88" y1="505.95" x2="1439.94" y2="505.95" stroke="#000" stroke-width="1.8" stroke-linecap="butt"/>
<line x1="1446.64" y1="510.30" x2="1439.18" y2="510.30" stroke="#000" stroke-width="1.8" stroke-linecap="butt"/>
<line x1="1447.40" y1="514.65" x2="1438.42" y2="514.65" stroke="#000" stroke-width="1.8" stroke-linecap="butt"/>
<line x1="1448.16" y1="519.00" x2="1437.66" y2="519.00" stroke="#000" stroke-width="1.8" stroke-linecap="butt"/>
<line x1="1448.92" y1="523.35" x2="1436.90" y2="523.35" stroke="#000" stroke-width="1.8" stroke-linecap="butt"/>
<line x1="1444.31" y1="526.73" x2="1462.76" y2="537.38" stroke="#000" stroke-width="2.3" stroke-linecap="butt"/>
<line x1="1441.51" y1="531.57" x2="1459.96" y2="542.22" stroke="#000" stroke-width="2.3" stroke-linecap="butt"/>
<line x1="1442.91" y1="529.15" x2="1424.46" y2="539.80" stroke="#000" stroke-width="2.3" stroke-linecap="round"/>
<line x1="1399.18" y1="539.80" x2="1380.73" y2="529.15" stroke="#000" stroke-width="2.3" stroke-linecap="round"/>
<text x="1474.00" y="557.34" font-size="28.6" text-anchor="middle">O</text>
<text x="1411.82" y="557.34" font-size="28.6" text-anchor="middle">O</text>
<polygon points="1537.08,367.60 1542.33,330.40 1530.03,330.40 1535.28,367.60" fill="#000" stroke="none" stroke-width="0" stroke-linejoin="miter" stroke-linecap="butt"/>
<line x1="1536.18" y1="330.40" x2="1565.78" y2="310.80" stroke="#000" stroke-width="2.3" stroke-linecap="round"/>
<line x1="1536.12" y1="323.97" x2="1559.88" y2="308.23" stroke="#000" stroke-width="2.3" stroke-linecap="round"/>
<line x1="1565.78" y1="310.80" x2="1558.40" y2="290.00" stroke="#000" stroke-width="2.3" stroke-linecap="round"/>
<line x1="1540.18" y1="276.81" x2="1517.98" y2="276.50" stroke="#000" stroke-width="2.3" stroke-linecap="round"/>
<line x1="1517.98" y1="276.50" x2="1506.58" y2="310.80" stroke="#000" stroke-width="2.3" stroke-linecap="round"/>
<line x1="1522.00" y1="281.52" x2="1512.81" y2="309.18" stroke="#000" stroke-width="2.3" stroke-linecap="round"/>
<line x1="1506.58" y1="310.80" x2="1536.18" y2="330.40" stroke="#000" stroke-width="2.3" stroke-linecap="round"/>
<text x="1553.78" y="287.84" font-size="28.6" text-anchor="middle">O</text>
<line x1="1411.82" y1="439.40" x2="1393.37" y2="428.75" stroke="#000" stroke-width="2.3" stroke-linecap="round"/>
<text x="1380.73" y="431.69" font-size="28.6" text-anchor="middle">O</text>
<line x1="1368.09" y1="428.75" x2="1349.64" y2="439.40" stroke="#000" stroke-width="2.3" stroke-linecap="round"/>
<line x1="1352.44" y1="439.40" x2="1352.44" y2="461.50" stroke="#000" stroke-width="2.3" stroke-linecap="butt"/>
<line x1="1346.84" y1="439.40" x2="1346.84" y2="461.50" stroke="#000" stroke-width="2.3" stroke-linecap="butt"/>
<text x="1349.64" y="485.54" font-size="28.6" text-anchor="middle">O</text>
<line x1="1349.64" y1="439.40" x2="1318.55" y2="421.45" stroke="#000" stroke-width="2.3" stroke-linecap="round"/>
<line x1="1318.55" y1="385.55" x2="1318.55" y2="421.45" stroke="#FF0000" stroke-width="2.3" stroke-linecap="round"/>
<line x1="1312.35" y1="389.15" x2="1312.35" y2="417.85" stroke="#FF0000" stroke-width="2.3" stroke-linecap="round"/>
<line x1="1318.55" y1="421.45" x2="1287.46" y2="439.40" stroke="#FF0000" stroke-width="2.3" stroke-linecap="round"/>
<line x1="1287.46" y1="439.40" x2="1256.37" y2="421.45" stroke="#FF0000" stroke-width="2.3" stroke-linecap="round"/>
<line x1="1287.44" y1="432.23" x2="1262.59" y2="417.88" stroke="#FF0000" stroke-width="2.3" stroke-linecap="round"/>
<line x1="1256.37" y1="421.45" x2="1256.37" y2="385.55" stroke="#FF0000" stroke-width="2.3" stroke-linecap="round"/>
<line x1="1256.37" y1="385.55" x2="1287.46" y2="367.60" stroke="#FF0000" stroke-width="2.3" stroke-linecap="round"/>
<line x1="1262.59" y1="389.12" x2="1287.44" y2="374.77" stroke="#FF0000" stroke-width="2.3" stroke-linecap="round"/>
<line x1="1287.46" y1="367.60" x2="1318.55" y2="385.55" stroke="#FF0000" stroke-width="2.3" stroke-linecap="round"/>
<line x1="1794.31" y1="222.85" x2="1763.22" y2="240.80" stroke="#000" stroke-width="2.3" stroke-linecap="round"/>
<line x1="1794.31" y1="222.85" x2="1825.40" y2="240.80" stroke="#000" stroke-width="2.3" stroke-linecap="round"/>
<line x1="1825.40" y1="240.80" x2="1825.40" y2="276.70" stroke="#000" stroke-width="2.3" stroke-linecap="round"/>
<line x1="1825.40" y1="276.70" x2="1794.31" y2="294.65" stroke="#000" stroke-width="2.3" stroke-linecap="round"/>
<line x1="1794.31" y1="294.65" x2="1763.22" y2="276.70" stroke="#000" stroke-width="2.3" stroke-linecap="round"/>
<line x1="1763.22" y1="240.80" x2="1763.22" y2="276.70" stroke="#119A6B" stroke-width="2.3" stroke-linecap="round"/>
<line x1="1769.82" y1="244.30" x2="1769.82" y2="273.20" stroke="#119A6B" stroke-width="2.3" stroke-linecap="round"/>
<line x1="1825.40" y1="240.80" x2="1856.49" y2="222.85" stroke="#000" stroke-width="2.3" stroke-linecap="round"/>
<line x1="1856.49" y1="222.85" x2="1887.58" y2="240.80" stroke="#000" stroke-width="2.3" stroke-linecap="round"/>
<line x1="1887.58" y1="240.80" x2="1887.58" y2="276.70" stroke="#000" stroke-width="2.3" stroke-linecap="round"/>
<line x1="1887.58" y1="276.70" x2="1856.49" y2="294.65" stroke="#000" stroke-width="2.3" stroke-linecap="round"/>
<line x1="1856.49" y1="294.65" x2="1825.40" y2="276.70" stroke="#000" stroke-width="2.3" stroke-linecap="round"/>
<line x1="1856.49" y1="222.85" x2="1856.49" y2="186.95" stroke="#000" stroke-width="2.3" stroke-linecap="round"/>
<line x1="1856.49" y1="186.95" x2="1887.58" y2="169.00" stroke="#000" stroke-width="2.3" stroke-linecap="round"/>
<line x1="1887.58" y1="169.00" x2="1906.03" y2="179.65" stroke="#000" stroke-width="2.3" stroke-linecap="round"/>
<line x1="1918.67" y1="200.75" x2="1918.67" y2="222.85" stroke="#000" stroke-width="2.3" stroke-linecap="round"/>
<line x1="1918.67" y1="222.85" x2="1887.58" y2="240.80" stroke="#000" stroke-width="2.3" stroke-linecap="round"/>
<line x1="1920.07" y1="220.43" x2="1938.52" y2="231.08" stroke="#000" stroke-width="2.3" stroke-linecap="butt"/>
<line x1="1917.27" y1="225.27" x2="1935.72" y2="235.92" stroke="#000" stroke-width="2.3" stroke-linecap="butt"/>
<line x1="1791.51" y1="222.85" x2="1791.51" y2="200.75" stroke="#000" stroke-width="2.3" stroke-linecap="butt"/>
<line x1="1797.11" y1="222.85" x2="1797.11" y2="200.75" stroke="#000" stroke-width="2.3" stroke-linecap="butt"/>
<text x="1794.31" y="197.19" font-size="28.6" text-anchor="middle">O</text>
<text x="1918.67" y="197.19" font-size="28.6" text-anchor="middle">O</text>
<text x="1949.76" y="251.04" font-size="28.6" text-anchor="middle">O</text>
<polygon points="1826.30,240.80 1831.15,219.90 1819.65,219.90 1824.50,240.80" fill="#000" stroke="none" stroke-width="0" stroke-linejoin="miter" stroke-linecap="butt"/>
<polygon points="1888.48,240.80 1893.33,219.90 1881.83,219.90 1886.68,240.80" fill="#000" stroke="none" stroke-width="0" stroke-linejoin="miter" stroke-linecap="butt"/>
<text x="1825.40" y="215.14" font-size="28.6" text-anchor="middle">H</text>
<text x="1887.58" y="215.14" font-size="28.6" text-anchor="middle">H</text>
<line x1="1857.88" y1="226.85" x2="1855.10" y2="226.85" stroke="#000" stroke-width="1.8" stroke-linecap="butt"/>
<line x1="1858.58" y1="231.20" x2="1854.40" y2="231.20" stroke="#000" stroke-width="1.8" stroke-linecap="butt"/>
<line x1="1859.27" y1="235.55" x2="1853.71" y2="235.55" stroke="#000" stroke-width="1.8" stroke-linecap="butt"/>
<line x1="1859.97" y1="239.90" x2="1853.01" y2="239.90" stroke="#000" stroke-width="1.8" stroke-linecap="butt"/>
<line x1="1860.67" y1="244.25" x2="1852.31" y2="244.25" stroke="#000" stroke-width="1.8" stroke-linecap="butt"/>
<line x1="1861.36" y1="248.60" x2="1851.62" y2="248.60" stroke="#000" stroke-width="1.8" stroke-linecap="butt"/>
<line x1="1862.06" y1="252.95" x2="1850.92" y2="252.95" stroke="#000" stroke-width="1.8" stroke-linecap="butt"/>
<line x1="1862.76" y1="257.30" x2="1850.22" y2="257.30" stroke="#000" stroke-width="1.8" stroke-linecap="butt"/>
<line x1="1826.79" y1="280.70" x2="1824.01" y2="280.70" stroke="#000" stroke-width="1.8" stroke-linecap="butt"/>
<line x1="1827.49" y1="285.05" x2="1823.31" y2="285.05" stroke="#000" stroke-width="1.8" stroke-linecap="butt"/>
<line x1="1828.18" y1="289.40" x2="1822.62" y2="289.40" stroke="#000" stroke-width="1.8" stroke-linecap="butt"/>
<line x1="1828.88" y1="293.75" x2="1821.92" y2="293.75" stroke="#000" stroke-width="1.8" stroke-linecap="butt"/>
<line x1="1829.58" y1="298.10" x2="1821.22" y2="298.10" stroke="#000" stroke-width="1.8" stroke-linecap="butt"/>
<line x1="1830.27" y1="302.45" x2="1820.53" y2="302.45" stroke="#000" stroke-width="1.8" stroke-linecap="butt"/>
<line x1="1830.97" y1="306.80" x2="1819.83" y2="306.80" stroke="#000" stroke-width="1.8" stroke-linecap="butt"/>
<line x1="1831.67" y1="311.15" x2="1819.13" y2="311.15" stroke="#000" stroke-width="1.8" stroke-linecap="butt"/>
<line x1="1795.76" y1="298.65" x2="1792.86" y2="298.65" stroke="#000" stroke-width="1.8" stroke-linecap="butt"/>
<line x1="1796.52" y1="303.00" x2="1792.10" y2="303.00" stroke="#000" stroke-width="1.8" stroke-linecap="butt"/>
<line x1="1797.28" y1="307.35" x2="1791.34" y2="307.35" stroke="#000" stroke-width="1.8" stroke-linecap="butt"/>
<line x1="1798.04" y1="311.70" x2="1790.58" y2="311.70" stroke="#000" stroke-width="1.8" stroke-linecap="butt"/>
<line x1="1798.80" y1="316.05" x2="1789.82" y2="316.05" stroke="#000" stroke-width="1.8" stroke-linecap="butt"/>
<line x1="1799.56" y1="320.40" x2="1789.06" y2="320.40" stroke="#000" stroke-width="1.8" stroke-linecap="butt"/>
<line x1="1800.32" y1="324.75" x2="1788.30" y2="324.75" stroke="#000" stroke-width="1.8" stroke-linecap="butt"/>
<line x1="1795.71" y1="328.13" x2="1814.16" y2="338.78" stroke="#000" stroke-width="2.3" stroke-linecap="butt"/>
<line x1="1792.91" y1="332.97" x2="1811.36" y2="343.62" stroke="#000" stroke-width="2.3" stroke-linecap="butt"/>
<line x1="1794.31" y1="330.55" x2="1775.86" y2="341.20" stroke="#000" stroke-width="2.3" stroke-linecap="round"/>
<line x1="1750.58" y1="341.20" x2="1732.13" y2="330.55" stroke="#000" stroke-width="2.3" stroke-linecap="round"/>
<text x="1825.40" y="358.74" font-size="28.6" text-anchor="middle">O</text>
<text x="1763.22" y="358.74" font-size="28.6" text-anchor="middle">O</text>
<polygon points="1888.48,169.00 1893.73,131.80 1881.43,131.80 1886.68,169.00" fill="#000" stroke="none" stroke-width="0" stroke-linejoin="miter" stroke-linecap="butt"/>
<line x1="1887.58" y1="131.80" x2="1917.18" y2="112.20" stroke="#000" stroke-width="2.3" stroke-linecap="round"/>
<line x1="1887.52" y1="125.37" x2="1911.28" y2="109.63" stroke="#000" stroke-width="2.3" stroke-linecap="round"/>
<line x1="1917.18" y1="112.20" x2="1909.80" y2="91.40" stroke="#000" stroke-width="2.3" stroke-linecap="round"/>
<line x1="1891.58" y1="78.21" x2="1869.38" y2="77.90" stroke="#000" stroke-width="2.3" stroke-linecap="round"/>
<line x1="1869.38" y1="77.90" x2="1857.98" y2="112.20" stroke="#000" stroke-width="2.3" stroke-linecap="round"/>
<line x1="1873.40" y1="82.92" x2="1864.21" y2="110.58" stroke="#000" stroke-width="2.3" stroke-linecap="round"/>
<line x1="1857.98" y1="112.20" x2="1887.58" y2="131.80" stroke="#000" stroke-width="2.3" stroke-linecap="round"/>
<text x="1905.18" y="89.24" font-size="28.6" text-anchor="middle">O</text>
<line x1="1763.22" y1="240.80" x2="1744.77" y2="230.15" stroke="#000" stroke-width="2.3" stroke-linecap="round"/>
<text x="1732.13" y="233.09" font-size="28.6" text-anchor="middle">O</text>
<line x1="1719.49" y1="230.15" x2="1701.04" y2="240.80" stroke="#000" stroke-width="2.3" stroke-linecap="round"/>
<line x1="1703.84" y1="240.80" x2="1703.84" y2="262.90" stroke="#000" stroke-width="2.3" stroke-linecap="butt"/>
<line x1="1698.24" y1="240.80" x2="1698.24" y2="262.90" stroke="#000" stroke-width="2.3" stroke-linecap="butt"/>
<text x="1701.04" y="286.94" font-size="28.6" text-anchor="middle">O</text>
<line x1="1701.04" y1="240.80" x2="1669.95" y2="222.85" stroke="#000" stroke-width="2.3" stroke-linecap="round"/>
<line x1="1669.95" y1="186.95" x2="1669.95" y2="222.85" stroke="#FF0000" stroke-width="2.3" stroke-linecap="round"/>
<line x1="1663.75" y1="190.55" x2="1663.75" y2="219.25" stroke="#FF0000" stroke-width="2.3" stroke-linecap="round"/>
<line x1="1669.95" y1="222.85" x2="1638.86" y2="240.80" stroke="#FF0000" stroke-width="2.3" stroke-linecap="round"/>
<line x1="1638.86" y1="240.80" x2="1607.77" y2="222.85" stroke="#FF0000" stroke-width="2.3" stroke-linecap="round"/>
<line x1="1638.84" y1="233.63" x2="1613.99" y2="219.28" stroke="#FF0000" stroke-width="2.3" stroke-linecap="round"/>
<line x1="1607.77" y1="222.85" x2="1607.77" y2="186.95" stroke="#FF0000" stroke-width="2.3" stroke-linecap="round"/>
<line x1="1607.77" y1="186.95" x2="1638.86" y2="169.00" stroke="#FF0000" stroke-width="2.3" stroke-linecap="round"/>
<line x1="1613.99" y1="190.52" x2="1638.84" y2="176.17" stroke="#FF0000" stroke-width="2.3" stroke-linecap="round"/>
<line x1="1638.86" y1="169.00" x2="1669.95" y2="186.95" stroke="#FF0000" stroke-width="2.3" stroke-linecap="round"/>
<line x1="1607.77" y1="186.95" x2="1576.68" y2="169.00" stroke="#1B94B5" stroke-width="2.3" stroke-linecap="round"/>
<line x1="1576.68" y1="169.00" x2="1576.68" y2="146.90" stroke="#1B94B5" stroke-width="2.3" stroke-linecap="round"/>
<text x="1566.68" y="145.64" font-size="28.6" text-anchor="start" fill="#1B94B5">OH</text>
<line x1="1015.30" y1="336.40" x2="1046.01" y2="305.87" stroke="#000" stroke-width="2.4" stroke-linecap="butt"/>
<polygon points="1065.80,286.20 1049.45,313.73 1046.34,305.54 1038.17,302.38" fill="#000" stroke="none" stroke-width="0" stroke-linejoin="miter" stroke-linecap="butt"/>
<line x1="1337.00" y1="290.50" x2="1364.17" y2="317.38" stroke="#000" stroke-width="2.4" stroke-linecap="butt"/>
<polygon points="1384.00,337.00 1356.34,320.88 1364.50,317.70 1367.59,309.51" fill="#000" stroke="none" stroke-width="0" stroke-linejoin="miter" stroke-linecap="butt"/>
<line x1="1612.70" y1="337.00" x2="1639.47" y2="310.23" stroke="#000" stroke-width="2.4" stroke-linecap="butt"/>
<polygon points="1659.20,290.50 1642.94,318.08 1639.80,309.90 1631.62,306.76" fill="#000" stroke="none" stroke-width="0" stroke-linejoin="miter" stroke-linecap="butt"/>
<text x="234.23" y="31.80" font-size="27.8" font-weight="bold" textLength="113.68" lengthAdjust="spacingAndGlyphs">DAMGO</text>
<text x="233.78" y="66.67" font-size="27.8" textLength="69.20" lengthAdjust="spacingAndGlyphs">MOR</text>
<text x="309.59" y="66.67" font-size="27.8" textLength="38.99" lengthAdjust="spacingAndGlyphs">EC</text>
<text x="350.16" y="73.98" font-size="19.5" textLength="21.99" lengthAdjust="spacingAndGlyphs">50</text>
<text x="380.92" y="66.67" font-size="27.8" textLength="18.34" lengthAdjust="spacingAndGlyphs">=</text>
<text x="406.93" y="66.67" font-size="27.8" textLength="37.00" lengthAdjust="spacingAndGlyphs">0.6</text>
<text x="453.72" y="66.67" font-size="27.8" textLength="38.98" lengthAdjust="spacingAndGlyphs">nM</text>
<text x="234.66" y="106.29" font-size="27.8" textLength="23.23" lengthAdjust="spacingAndGlyphs">G</text>
<text x="263.73" y="106.29" font-size="27.8" textLength="53.33" lengthAdjust="spacingAndGlyphs">Bias</text>
<text x="327.44" y="106.29" font-size="27.8" textLength="17.32" lengthAdjust="spacingAndGlyphs">=</text>
<text x="354.11" y="106.29" font-size="27.8" textLength="50.58" lengthAdjust="spacingAndGlyphs">1.00</text>
<text x="970.69" y="31.80" font-size="27.8" font-weight="bold" textLength="140.45" lengthAdjust="spacingAndGlyphs">Herkinorin</text>
<text x="970.17" y="66.67" font-size="27.8" textLength="68.30" lengthAdjust="spacingAndGlyphs">MOR</text>
<text x="1045.44" y="66.67" font-size="27.8" textLength="38.99" lengthAdjust="spacingAndGlyphs">EC</text>
<text x="1086.05" y="73.98" font-size="19.5" textLength="21.07" lengthAdjust="spacingAndGlyphs">50</text>
<text x="1117.23" y="66.67" font-size="27.8" textLength="16.91" lengthAdjust="spacingAndGlyphs">=</text>
<text x="1138.90" y="66.67" font-size="27.8" textLength="30.63" lengthAdjust="spacingAndGlyphs">40</text>
<text x="1181.87" y="66.67" font-size="27.8" textLength="39.93" lengthAdjust="spacingAndGlyphs">nM</text>
<text x="971.04" y="106.29" font-size="27.8" textLength="23.02" lengthAdjust="spacingAndGlyphs">G</text>
<text x="998.69" y="106.29" font-size="27.8" textLength="54.24" lengthAdjust="spacingAndGlyphs">Bias</text>
<text x="1063.85" y="106.29" font-size="27.8" textLength="16.71" lengthAdjust="spacingAndGlyphs">=</text>
<text x="1089.97" y="106.29" font-size="27.8" textLength="50.30" lengthAdjust="spacingAndGlyphs">1.64</text>
<text x="1469.64" y="31.80" font-size="27.8" font-weight="bold" textLength="115.78" lengthAdjust="spacingAndGlyphs">Kurkinol</text>
<text x="1469.15" y="66.67" font-size="27.8" textLength="68.30" lengthAdjust="spacingAndGlyphs">MOR</text>
<text x="1544.59" y="66.67" font-size="27.8" textLength="38.99" lengthAdjust="spacingAndGlyphs">EC</text>
<text x="1584.31" y="73.98" font-size="19.5" textLength="21.99" lengthAdjust="spacingAndGlyphs">50</text>
<text x="1616.53" y="66.67" font-size="27.8" textLength="17.11" lengthAdjust="spacingAndGlyphs">=</text>
<text x="1641.93" y="66.67" font-size="27.8" textLength="51.47" lengthAdjust="spacingAndGlyphs">0.03</text>
<text x="1706.58" y="66.67" font-size="27.8" textLength="38.98" lengthAdjust="spacingAndGlyphs">nM</text>
<text x="1470.03" y="106.29" font-size="27.8" textLength="22.82" lengthAdjust="spacingAndGlyphs">G</text>
<text x="1501.81" y="106.29" font-size="27.8" textLength="52.79" lengthAdjust="spacingAndGlyphs">Bias</text>
<text x="1562.99" y="106.29" font-size="27.8" textLength="16.71" lengthAdjust="spacingAndGlyphs">=</text>
<text x="1588.90" y="106.29" font-size="27.8" textLength="50.86" lengthAdjust="spacingAndGlyphs">7.98</text>
<text x="378.07" y="429.01" font-size="27.8" font-weight="bold" textLength="131.31" lengthAdjust="spacingAndGlyphs">Morphine</text>
<text x="377.62" y="468.98" font-size="27.8" textLength="68.30" lengthAdjust="spacingAndGlyphs">MOR</text>
<text x="453.74" y="468.98" font-size="27.8" textLength="38.99" lengthAdjust="spacingAndGlyphs">EC</text>
<text x="493.46" y="475.78" font-size="19.5" textLength="21.99" lengthAdjust="spacingAndGlyphs">50</text>
<text x="525.16" y="468.98" font-size="27.8" textLength="17.32" lengthAdjust="spacingAndGlyphs">=</text>
<text x="550.93" y="468.98" font-size="27.8" textLength="15.93" lengthAdjust="spacingAndGlyphs">5</text>
<text x="575.79" y="468.98" font-size="27.8" textLength="38.41" lengthAdjust="spacingAndGlyphs">nM</text>
<text x="377.96" y="507.59" font-size="27.8" textLength="23.23" lengthAdjust="spacingAndGlyphs">G</text>
<text x="411.31" y="507.59" font-size="27.8" textLength="52.43" lengthAdjust="spacingAndGlyphs">Bias</text>
<text x="475.02" y="507.59" font-size="27.8" textLength="16.91" lengthAdjust="spacingAndGlyphs">=</text>
<text x="500.59" y="507.59" font-size="27.8" textLength="51.06" lengthAdjust="spacingAndGlyphs">2.77</text>
<text x="1638.22" y="446.86" font-size="27.8" font-weight="bold" textLength="143.89" lengthAdjust="spacingAndGlyphs">Kurkinorin</text>
<text x="1637.73" y="486.49" font-size="27.8" textLength="68.30" lengthAdjust="spacingAndGlyphs">MOR</text>
<text x="1713.84" y="486.49" font-size="27.8" textLength="38.99" lengthAdjust="spacingAndGlyphs">EC</text>
<text x="1753.56" y="493.29" font-size="19.5" textLength="21.99" lengthAdjust="spacingAndGlyphs">50</text>
<text x="1784.41" y="486.49" font-size="27.8" textLength="17.32" lengthAdjust="spacingAndGlyphs">=</text>
<text x="1811.92" y="486.49" font-size="27.8" textLength="36.37" lengthAdjust="spacingAndGlyphs">1.2</text>
<text x="1857.10" y="486.49" font-size="27.8" textLength="39.36" lengthAdjust="spacingAndGlyphs">nM</text>
<text x="1637.70" y="520.84" font-size="27.8" textLength="23.63" lengthAdjust="spacingAndGlyphs">G</text>
<text x="1670.88" y="520.84" font-size="27.8" textLength="52.97" lengthAdjust="spacingAndGlyphs">Bias</text>
<text x="1731.69" y="520.84" font-size="27.8" textLength="17.32" lengthAdjust="spacingAndGlyphs">=</text>
<text x="1758.35" y="520.84" font-size="27.8" textLength="50.65" lengthAdjust="spacingAndGlyphs">1.68</text>
<text x="719.31" y="339.46" font-size="27.8" font-weight="bold" textLength="132.84" lengthAdjust="spacingAndGlyphs">Salvinorin</text>
<text x="866.79" y="339.46" font-size="27.8" font-weight="bold" textLength="21.00" lengthAdjust="spacingAndGlyphs">A</text>
<text x="19.02" y="653.50" font-size="53.5" font-weight="bold">B</text>
<line x1="129.20" y1="1047.30" x2="129.20" y2="732.00" stroke="#000" stroke-width="3.6" stroke-linecap="butt"/>
<line x1="115.20" y1="1047.30" x2="131.00" y2="1047.30" stroke="#000" stroke-width="3.6" stroke-linecap="butt"/>
<text x="97.29" y="1056.55" font-size="26.5">0</text>
<line x1="115.20" y1="984.60" x2="131.00" y2="984.60" stroke="#000" stroke-width="3.6" stroke-linecap="butt"/>
<text x="82.58" y="993.85" font-size="26.5">20</text>
<line x1="115.20" y1="921.90" x2="131.00" y2="921.90" stroke="#000" stroke-width="3.6" stroke-linecap="butt"/>
<text x="82.58" y="931.15" font-size="26.5">40</text>
<line x1="115.20" y1="859.20" x2="131.00" y2="859.20" stroke="#000" stroke-width="3.6" stroke-linecap="butt"/>
<text x="82.58" y="868.45" font-size="26.5">60</text>
<line x1="115.20" y1="796.50" x2="131.00" y2="796.50" stroke="#000" stroke-width="3.6" stroke-linecap="butt"/>
<text x="82.58" y="805.75" font-size="26.5">80</text>
<line x1="115.20" y1="733.80" x2="131.00" y2="733.80" stroke="#000" stroke-width="3.6" stroke-linecap="butt"/>
<text x="67.80" y="743.05" font-size="26.5">100</text>
<line x1="127.40" y1="1047.30" x2="631.46" y2="1047.30" stroke="#000" stroke-width="3.6" stroke-linecap="butt"/>
<line x1="129.20" y1="1045.50" x2="129.20" y2="1061.00" stroke="#000" stroke-width="3.6" stroke-linecap="butt"/>
<text x="121.85" y="1089.47" font-size="26.5">0</text>
<line x1="254.31" y1="1045.50" x2="254.31" y2="1061.00" stroke="#000" stroke-width="3.6" stroke-linecap="butt"/>
<text x="239.61" y="1089.47" font-size="26.5">30</text>
<line x1="379.43" y1="1045.50" x2="379.43" y2="1061.00" stroke="#000" stroke-width="3.6" stroke-linecap="butt"/>
<text x="364.56" y="1089.47" font-size="26.5">60</text>
<line x1="504.54" y1="1045.50" x2="504.54" y2="1061.00" stroke="#000" stroke-width="3.6" stroke-linecap="butt"/>
<text x="489.74" y="1089.47" font-size="26.5">90</text>
<line x1="629.66" y1="1045.50" x2="629.66" y2="1061.00" stroke="#000" stroke-width="3.6" stroke-linecap="butt"/>
<text x="607.07" y="1089.47" font-size="26.5">120</text>
<line x1="191.76" y1="1045.50" x2="191.76" y2="1054.80" stroke="#000" stroke-width="3.6" stroke-linecap="butt"/>
<line x1="316.87" y1="1045.50" x2="316.87" y2="1054.80" stroke="#000" stroke-width="3.6" stroke-linecap="butt"/>
<line x1="441.99" y1="1045.50" x2="441.99" y2="1054.80" stroke="#000" stroke-width="3.6" stroke-linecap="butt"/>
<line x1="567.10" y1="1045.50" x2="567.10" y2="1054.80" stroke="#000" stroke-width="3.6" stroke-linecap="butt"/>
<line x1="191.76" y1="771.42" x2="191.76" y2="751.04" stroke="#065068" stroke-width="1.6" stroke-linecap="butt"/>
<line x1="188.36" y1="771.42" x2="195.16" y2="771.42" stroke="#065068" stroke-width="1.6" stroke-linecap="butt"/>
<line x1="188.36" y1="751.04" x2="195.16" y2="751.04" stroke="#065068" stroke-width="1.6" stroke-linecap="butt"/>
<line x1="254.31" y1="805.90" x2="254.31" y2="779.26" stroke="#065068" stroke-width="1.6" stroke-linecap="butt"/>
<line x1="250.91" y1="805.90" x2="257.71" y2="805.90" stroke="#065068" stroke-width="1.6" stroke-linecap="butt"/>
<line x1="250.91" y1="779.26" x2="257.71" y2="779.26" stroke="#065068" stroke-width="1.6" stroke-linecap="butt"/>
<line x1="316.87" y1="925.03" x2="316.87" y2="885.85" stroke="#065068" stroke-width="1.6" stroke-linecap="butt"/>
<line x1="313.47" y1="925.03" x2="320.27" y2="925.03" stroke="#065068" stroke-width="1.6" stroke-linecap="butt"/>
<line x1="313.47" y1="885.85" x2="320.27" y2="885.85" stroke="#065068" stroke-width="1.6" stroke-linecap="butt"/>
<line x1="379.43" y1="976.76" x2="379.43" y2="948.55" stroke="#065068" stroke-width="1.6" stroke-linecap="butt"/>
<line x1="376.03" y1="976.76" x2="382.83" y2="976.76" stroke="#065068" stroke-width="1.6" stroke-linecap="butt"/>
<line x1="376.03" y1="948.55" x2="382.83" y2="948.55" stroke="#065068" stroke-width="1.6" stroke-linecap="butt"/>
<line x1="504.54" y1="1031.62" x2="504.54" y2="1022.22" stroke="#065068" stroke-width="1.6" stroke-linecap="butt"/>
<line x1="501.14" y1="1031.62" x2="507.94" y2="1031.62" stroke="#065068" stroke-width="1.6" stroke-linecap="butt"/>
<line x1="501.14" y1="1022.22" x2="507.94" y2="1022.22" stroke="#065068" stroke-width="1.6" stroke-linecap="butt"/>
<line x1="629.66" y1="1047.30" x2="629.66" y2="1041.03" stroke="#065068" stroke-width="1.6" stroke-linecap="butt"/>
<line x1="626.26" y1="1047.30" x2="633.06" y2="1047.30" stroke="#065068" stroke-width="1.6" stroke-linecap="butt"/>
<line x1="626.26" y1="1041.03" x2="633.06" y2="1041.03" stroke="#065068" stroke-width="1.6" stroke-linecap="butt"/>
<polyline points="129.20,1047.30 191.76,762.01 254.31,793.37 316.87,906.22 379.43,962.65 504.54,1026.92 629.66,1044.16" fill="none" stroke="#065068" stroke-width="3.5" stroke-linejoin="round" stroke-linecap="butt"/>
<polygon points="122.14,1054.29 136.26,1054.29 129.20,1040.31" fill="#065068" stroke="none" stroke-width="0" stroke-linejoin="miter" stroke-linecap="butt"/>
<polygon points="184.70,769.00 198.81,769.00 191.76,755.03" fill="#065068" stroke="none" stroke-width="0" stroke-linejoin="miter" stroke-linecap="butt"/>
<polygon points="247.26,800.35 261.37,800.35 254.31,786.38" fill="#065068" stroke="none" stroke-width="0" stroke-linejoin="miter" stroke-linecap="butt"/>
<polygon points="309.82,913.21 323.93,913.21 316.87,899.24" fill="#065068" stroke="none" stroke-width="0" stroke-linejoin="miter" stroke-linecap="butt"/>
<polygon points="372.37,969.64 386.49,969.64 379.43,955.67" fill="#065068" stroke="none" stroke-width="0" stroke-linejoin="miter" stroke-linecap="butt"/>
<polygon points="497.49,1033.91 511.60,1033.91 504.54,1019.94" fill="#065068" stroke="none" stroke-width="0" stroke-linejoin="miter" stroke-linecap="butt"/>
<polygon points="622.60,1051.15 636.72,1051.15 629.66,1037.18" fill="#065068" stroke="none" stroke-width="0" stroke-linejoin="miter" stroke-linecap="butt"/>
<line x1="191.76" y1="978.33" x2="191.76" y2="953.25" stroke="#ACDEA8" stroke-width="1.6" stroke-linecap="butt"/>
<line x1="188.36" y1="978.33" x2="195.16" y2="978.33" stroke="#ACDEA8" stroke-width="1.6" stroke-linecap="butt"/>
<line x1="188.36" y1="953.25" x2="195.16" y2="953.25" stroke="#ACDEA8" stroke-width="1.6" stroke-linecap="butt"/>
<line x1="254.31" y1="945.41" x2="254.31" y2="917.20" stroke="#ACDEA8" stroke-width="1.6" stroke-linecap="butt"/>
<line x1="250.91" y1="945.41" x2="257.71" y2="945.41" stroke="#ACDEA8" stroke-width="1.6" stroke-linecap="butt"/>
<line x1="250.91" y1="917.20" x2="257.71" y2="917.20" stroke="#ACDEA8" stroke-width="1.6" stroke-linecap="butt"/>
<line x1="316.87" y1="954.82" x2="316.87" y2="920.33" stroke="#ACDEA8" stroke-width="1.6" stroke-linecap="butt"/>
<line x1="313.47" y1="954.82" x2="320.27" y2="954.82" stroke="#ACDEA8" stroke-width="1.6" stroke-linecap="butt"/>
<line x1="313.47" y1="920.33" x2="320.27" y2="920.33" stroke="#ACDEA8" stroke-width="1.6" stroke-linecap="butt"/>
<line x1="379.43" y1="998.71" x2="379.43" y2="976.76" stroke="#ACDEA8" stroke-width="1.6" stroke-linecap="butt"/>
<line x1="376.03" y1="998.71" x2="382.83" y2="998.71" stroke="#ACDEA8" stroke-width="1.6" stroke-linecap="butt"/>
<line x1="376.03" y1="976.76" x2="382.83" y2="976.76" stroke="#ACDEA8" stroke-width="1.6" stroke-linecap="butt"/>
<line x1="504.54" y1="1006.54" x2="504.54" y2="987.73" stroke="#ACDEA8" stroke-width="1.6" stroke-linecap="butt"/>
<line x1="501.14" y1="1006.54" x2="507.94" y2="1006.54" stroke="#ACDEA8" stroke-width="1.6" stroke-linecap="butt"/>
<line x1="501.14" y1="987.73" x2="507.94" y2="987.73" stroke="#ACDEA8" stroke-width="1.6" stroke-linecap="butt"/>
<line x1="629.66" y1="1031.62" x2="629.66" y2="1019.08" stroke="#ACDEA8" stroke-width="1.6" stroke-linecap="butt"/>
<line x1="626.26" y1="1031.62" x2="633.06" y2="1031.62" stroke="#ACDEA8" stroke-width="1.6" stroke-linecap="butt"/>
<line x1="626.26" y1="1019.08" x2="633.06" y2="1019.08" stroke="#ACDEA8" stroke-width="1.6" stroke-linecap="butt"/>
<polyline points="129.20,1047.30 191.76,965.79 254.31,931.30 316.87,937.57 379.43,987.73 504.54,997.14 629.66,1025.36" fill="none" stroke="#ACDEA8" stroke-width="3.5" stroke-linejoin="round" stroke-linecap="butt"/>
<polygon points="122.14,1040.31 136.26,1040.31 129.20,1054.29" fill="#ACDEA8" stroke="none" stroke-width="0" stroke-linejoin="miter" stroke-linecap="butt"/>
<polygon points="184.70,958.80 198.81,958.80 191.76,972.78" fill="#ACDEA8" stroke="none" stroke-width="0" stroke-linejoin="miter" stroke-linecap="butt"/>
<polygon points="247.26,924.32 261.37,924.32 254.31,938.29" fill="#ACDEA8" stroke="none" stroke-width="0" stroke-linejoin="miter" stroke-linecap="butt"/>
<polygon points="309.82,930.59 323.93,930.59 316.87,944.56" fill="#ACDEA8" stroke="none" stroke-width="0" stroke-linejoin="miter" stroke-linecap="butt"/>
<polygon points="372.37,980.75 386.49,980.75 379.43,994.72" fill="#ACDEA8" stroke="none" stroke-width="0" stroke-linejoin="miter" stroke-linecap="butt"/>
<polygon points="497.49,990.15 511.60,990.15 504.54,1004.13" fill="#ACDEA8" stroke="none" stroke-width="0" stroke-linejoin="miter" stroke-linecap="butt"/>
<polygon points="622.60,1018.37 636.72,1018.37 629.66,1032.34" fill="#ACDEA8" stroke="none" stroke-width="0" stroke-linejoin="miter" stroke-linecap="butt"/>
<line x1="191.76" y1="910.93" x2="191.76" y2="887.41" stroke="#1395B2" stroke-width="1.6" stroke-linecap="butt"/>
<line x1="188.36" y1="910.93" x2="195.16" y2="910.93" stroke="#1395B2" stroke-width="1.6" stroke-linecap="butt"/>
<line x1="188.36" y1="887.41" x2="195.16" y2="887.41" stroke="#1395B2" stroke-width="1.6" stroke-linecap="butt"/>
<line x1="254.31" y1="912.49" x2="254.31" y2="887.41" stroke="#1395B2" stroke-width="1.6" stroke-linecap="butt"/>
<line x1="250.91" y1="912.49" x2="257.71" y2="912.49" stroke="#1395B2" stroke-width="1.6" stroke-linecap="butt"/>
<line x1="250.91" y1="887.41" x2="257.71" y2="887.41" stroke="#1395B2" stroke-width="1.6" stroke-linecap="butt"/>
<line x1="316.87" y1="932.87" x2="316.87" y2="907.79" stroke="#1395B2" stroke-width="1.6" stroke-linecap="butt"/>
<line x1="313.47" y1="932.87" x2="320.27" y2="932.87" stroke="#1395B2" stroke-width="1.6" stroke-linecap="butt"/>
<line x1="313.47" y1="907.79" x2="320.27" y2="907.79" stroke="#1395B2" stroke-width="1.6" stroke-linecap="butt"/>
<line x1="379.43" y1="1006.54" x2="379.43" y2="981.46" stroke="#1395B2" stroke-width="1.6" stroke-linecap="butt"/>
<line x1="376.03" y1="1006.54" x2="382.83" y2="1006.54" stroke="#1395B2" stroke-width="1.6" stroke-linecap="butt"/>
<line x1="376.03" y1="981.46" x2="382.83" y2="981.46" stroke="#1395B2" stroke-width="1.6" stroke-linecap="butt"/>
<line x1="504.54" y1="1030.06" x2="504.54" y2="1020.65" stroke="#1395B2" stroke-width="1.6" stroke-linecap="butt"/>
<line x1="501.14" y1="1030.06" x2="507.94" y2="1030.06" stroke="#1395B2" stroke-width="1.6" stroke-linecap="butt"/>
<line x1="501.14" y1="1020.65" x2="507.94" y2="1020.65" stroke="#1395B2" stroke-width="1.6" stroke-linecap="butt"/>
<line x1="629.66" y1="1048.87" x2="629.66" y2="1042.60" stroke="#1395B2" stroke-width="1.6" stroke-linecap="butt"/>
<line x1="626.26" y1="1048.87" x2="633.06" y2="1048.87" stroke="#1395B2" stroke-width="1.6" stroke-linecap="butt"/>
<line x1="626.26" y1="1042.60" x2="633.06" y2="1042.60" stroke="#1395B2" stroke-width="1.6" stroke-linecap="butt"/>
<polyline points="129.20,1047.30 191.76,899.95 254.31,899.95 316.87,920.33 379.43,994.00 504.54,1025.36 629.66,1045.73" fill="none" stroke="#1395B2" stroke-width="3.5" stroke-linejoin="round" stroke-linecap="butt"/>
<polygon points="122.14,1054.29 136.26,1054.29 129.20,1040.31" fill="#1395B2" stroke="none" stroke-width="0" stroke-linejoin="miter" stroke-linecap="butt"/>
<polygon points="184.70,906.94 198.81,906.94 191.76,892.97" fill="#1395B2" stroke="none" stroke-width="0" stroke-linejoin="miter" stroke-linecap="butt"/>
<polygon points="247.26,906.94 261.37,906.94 254.31,892.97" fill="#1395B2" stroke="none" stroke-width="0" stroke-linejoin="miter" stroke-linecap="butt"/>
<polygon points="309.82,927.32 323.93,927.32 316.87,913.35" fill="#1395B2" stroke="none" stroke-width="0" stroke-linejoin="miter" stroke-linecap="butt"/>
<polygon points="372.37,1000.99 386.49,1000.99 379.43,987.02" fill="#1395B2" stroke="none" stroke-width="0" stroke-linejoin="miter" stroke-linecap="butt"/>
<polygon points="497.49,1032.34 511.60,1032.34 504.54,1018.37" fill="#1395B2" stroke="none" stroke-width="0" stroke-linejoin="miter" stroke-linecap="butt"/>
<polygon points="622.60,1052.72 636.72,1052.72 629.66,1038.75" fill="#1395B2" stroke="none" stroke-width="0" stroke-linejoin="miter" stroke-linecap="butt"/>
<line x1="191.76" y1="884.28" x2="191.76" y2="834.12" stroke="#0E9A68" stroke-width="1.6" stroke-linecap="butt"/>
<line x1="188.36" y1="884.28" x2="195.16" y2="884.28" stroke="#0E9A68" stroke-width="1.6" stroke-linecap="butt"/>
<line x1="188.36" y1="834.12" x2="195.16" y2="834.12" stroke="#0E9A68" stroke-width="1.6" stroke-linecap="butt"/>
<line x1="254.31" y1="829.42" x2="254.31" y2="794.93" stroke="#0E9A68" stroke-width="1.6" stroke-linecap="butt"/>
<line x1="250.91" y1="829.42" x2="257.71" y2="829.42" stroke="#0E9A68" stroke-width="1.6" stroke-linecap="butt"/>
<line x1="250.91" y1="794.93" x2="257.71" y2="794.93" stroke="#0E9A68" stroke-width="1.6" stroke-linecap="butt"/>
<line x1="316.87" y1="863.90" x2="316.87" y2="835.69" stroke="#0E9A68" stroke-width="1.6" stroke-linecap="butt"/>
<line x1="313.47" y1="863.90" x2="320.27" y2="863.90" stroke="#0E9A68" stroke-width="1.6" stroke-linecap="butt"/>
<line x1="313.47" y1="835.69" x2="320.27" y2="835.69" stroke="#0E9A68" stroke-width="1.6" stroke-linecap="butt"/>
<line x1="379.43" y1="925.03" x2="379.43" y2="906.22" stroke="#0E9A68" stroke-width="1.6" stroke-linecap="butt"/>
<line x1="376.03" y1="925.03" x2="382.83" y2="925.03" stroke="#0E9A68" stroke-width="1.6" stroke-linecap="butt"/>
<line x1="376.03" y1="906.22" x2="382.83" y2="906.22" stroke="#0E9A68" stroke-width="1.6" stroke-linecap="butt"/>
<line x1="504.54" y1="976.76" x2="504.54" y2="954.82" stroke="#0E9A68" stroke-width="1.6" stroke-linecap="butt"/>
<line x1="501.14" y1="976.76" x2="507.94" y2="976.76" stroke="#0E9A68" stroke-width="1.6" stroke-linecap="butt"/>
<line x1="501.14" y1="954.82" x2="507.94" y2="954.82" stroke="#0E9A68" stroke-width="1.6" stroke-linecap="butt"/>
<line x1="629.66" y1="1014.38" x2="629.66" y2="1004.98" stroke="#0E9A68" stroke-width="1.6" stroke-linecap="butt"/>
<line x1="626.26" y1="1014.38" x2="633.06" y2="1014.38" stroke="#0E9A68" stroke-width="1.6" stroke-linecap="butt"/>
<line x1="626.26" y1="1004.98" x2="633.06" y2="1004.98" stroke="#0E9A68" stroke-width="1.6" stroke-linecap="butt"/>
<polyline points="129.20,1047.30 191.76,859.20 254.31,812.17 316.87,849.79 379.43,915.63 504.54,965.79 629.66,1009.68" fill="none" stroke="#0E9A68" stroke-width="3.5" stroke-linejoin="round" stroke-linecap="butt"/>
<polygon points="122.14,1040.31 136.26,1040.31 129.20,1054.29" fill="#0E9A68" stroke="none" stroke-width="0" stroke-linejoin="miter" stroke-linecap="butt"/>
<polygon points="184.70,852.21 198.81,852.21 191.76,866.19" fill="#0E9A68" stroke="none" stroke-width="0" stroke-linejoin="miter" stroke-linecap="butt"/>
<polygon points="247.26,805.19 261.37,805.19 254.31,819.16" fill="#0E9A68" stroke="none" stroke-width="0" stroke-linejoin="miter" stroke-linecap="butt"/>
<polygon points="309.82,842.81 323.93,842.81 316.87,856.78" fill="#0E9A68" stroke="none" stroke-width="0" stroke-linejoin="miter" stroke-linecap="butt"/>
<polygon points="372.37,908.64 386.49,908.64 379.43,922.62" fill="#0E9A68" stroke="none" stroke-width="0" stroke-linejoin="miter" stroke-linecap="butt"/>
<polygon points="497.49,958.80 511.60,958.80 504.54,972.78" fill="#0E9A68" stroke="none" stroke-width="0" stroke-linejoin="miter" stroke-linecap="butt"/>
<polygon points="622.60,1002.69 636.72,1002.69 629.66,1016.67" fill="#0E9A68" stroke="none" stroke-width="0" stroke-linejoin="miter" stroke-linecap="butt"/>
<line x1="191.76" y1="972.06" x2="191.76" y2="946.98" stroke="#C25E04" stroke-width="1.6" stroke-linecap="butt"/>
<line x1="188.36" y1="972.06" x2="195.16" y2="972.06" stroke="#C25E04" stroke-width="1.6" stroke-linecap="butt"/>
<line x1="188.36" y1="946.98" x2="195.16" y2="946.98" stroke="#C25E04" stroke-width="1.6" stroke-linecap="butt"/>
<line x1="254.31" y1="799.63" x2="254.31" y2="768.28" stroke="#C25E04" stroke-width="1.6" stroke-linecap="butt"/>
<line x1="250.91" y1="799.63" x2="257.71" y2="799.63" stroke="#C25E04" stroke-width="1.6" stroke-linecap="butt"/>
<line x1="250.91" y1="768.28" x2="257.71" y2="768.28" stroke="#C25E04" stroke-width="1.6" stroke-linecap="butt"/>
<line x1="316.87" y1="804.34" x2="316.87" y2="772.99" stroke="#C25E04" stroke-width="1.6" stroke-linecap="butt"/>
<line x1="313.47" y1="804.34" x2="320.27" y2="804.34" stroke="#C25E04" stroke-width="1.6" stroke-linecap="butt"/>
<line x1="313.47" y1="772.99" x2="320.27" y2="772.99" stroke="#C25E04" stroke-width="1.6" stroke-linecap="butt"/>
<line x1="379.43" y1="851.36" x2="379.43" y2="810.61" stroke="#C25E04" stroke-width="1.6" stroke-linecap="butt"/>
<line x1="376.03" y1="851.36" x2="382.83" y2="851.36" stroke="#C25E04" stroke-width="1.6" stroke-linecap="butt"/>
<line x1="376.03" y1="810.61" x2="382.83" y2="810.61" stroke="#C25E04" stroke-width="1.6" stroke-linecap="butt"/>
<line x1="504.54" y1="942.28" x2="504.54" y2="914.06" stroke="#C25E04" stroke-width="1.6" stroke-linecap="butt"/>
<line x1="501.14" y1="942.28" x2="507.94" y2="942.28" stroke="#C25E04" stroke-width="1.6" stroke-linecap="butt"/>
<line x1="501.14" y1="914.06" x2="507.94" y2="914.06" stroke="#C25E04" stroke-width="1.6" stroke-linecap="butt"/>
<line x1="629.66" y1="995.57" x2="629.66" y2="961.09" stroke="#C25E04" stroke-width="1.6" stroke-linecap="butt"/>
<line x1="626.26" y1="995.57" x2="633.06" y2="995.57" stroke="#C25E04" stroke-width="1.6" stroke-linecap="butt"/>
<line x1="626.26" y1="961.09" x2="633.06" y2="961.09" stroke="#C25E04" stroke-width="1.6" stroke-linecap="butt"/>
<polyline points="129.20,1047.30 191.76,959.52 254.31,783.96 316.87,788.66 379.43,830.98 504.54,928.17 629.66,978.33" fill="none" stroke="#C25E04" stroke-width="3.5" stroke-linejoin="round" stroke-linecap="butt"/>
<rect x="122.35" y="1040.45" width="13.70" height="13.70" fill="#C25E04" stroke="none" stroke-width="0"/>
<rect x="184.91" y="952.67" width="13.70" height="13.70" fill="#C25E04" stroke="none" stroke-width="0"/>
<rect x="247.47" y="777.11" width="13.70" height="13.70" fill="#C25E04" stroke="none" stroke-width="0"/>
<rect x="310.02" y="781.81" width="13.70" height="13.70" fill="#C25E04" stroke="none" stroke-width="0"/>
<rect x="372.58" y="824.13" width="13.70" height="13.70" fill="#C25E04" stroke="none" stroke-width="0"/>
<rect x="497.69" y="921.32" width="13.70" height="13.70" fill="#C25E04" stroke="none" stroke-width="0"/>
<rect x="622.81" y="971.48" width="13.70" height="13.70" fill="#C25E04" stroke="none" stroke-width="0"/>
<line x1="191.76" y1="997.14" x2="191.76" y2="965.79" stroke="#FCA044" stroke-width="1.6" stroke-linecap="butt"/>
<line x1="188.36" y1="997.14" x2="195.16" y2="997.14" stroke="#FCA044" stroke-width="1.6" stroke-linecap="butt"/>
<line x1="188.36" y1="965.79" x2="195.16" y2="965.79" stroke="#FCA044" stroke-width="1.6" stroke-linecap="butt"/>
<line x1="254.31" y1="942.28" x2="254.31" y2="901.52" stroke="#FCA044" stroke-width="1.6" stroke-linecap="butt"/>
<line x1="250.91" y1="942.28" x2="257.71" y2="942.28" stroke="#FCA044" stroke-width="1.6" stroke-linecap="butt"/>
<line x1="250.91" y1="901.52" x2="257.71" y2="901.52" stroke="#FCA044" stroke-width="1.6" stroke-linecap="butt"/>
<line x1="316.87" y1="929.74" x2="316.87" y2="895.25" stroke="#FCA044" stroke-width="1.6" stroke-linecap="butt"/>
<line x1="313.47" y1="929.74" x2="320.27" y2="929.74" stroke="#FCA044" stroke-width="1.6" stroke-linecap="butt"/>
<line x1="313.47" y1="895.25" x2="320.27" y2="895.25" stroke="#FCA044" stroke-width="1.6" stroke-linecap="butt"/>
<line x1="379.43" y1="954.82" x2="379.43" y2="926.60" stroke="#FCA044" stroke-width="1.6" stroke-linecap="butt"/>
<line x1="376.03" y1="954.82" x2="382.83" y2="954.82" stroke="#FCA044" stroke-width="1.6" stroke-linecap="butt"/>
<line x1="376.03" y1="926.60" x2="382.83" y2="926.60" stroke="#FCA044" stroke-width="1.6" stroke-linecap="butt"/>
<line x1="504.54" y1="1001.84" x2="504.54" y2="983.03" stroke="#FCA044" stroke-width="1.6" stroke-linecap="butt"/>
<line x1="501.14" y1="1001.84" x2="507.94" y2="1001.84" stroke="#FCA044" stroke-width="1.6" stroke-linecap="butt"/>
<line x1="501.14" y1="983.03" x2="507.94" y2="983.03" stroke="#FCA044" stroke-width="1.6" stroke-linecap="butt"/>
<line x1="629.66" y1="1033.19" x2="629.66" y2="1020.65" stroke="#FCA044" stroke-width="1.6" stroke-linecap="butt"/>
<line x1="626.26" y1="1033.19" x2="633.06" y2="1033.19" stroke="#FCA044" stroke-width="1.6" stroke-linecap="butt"/>
<line x1="626.26" y1="1020.65" x2="633.06" y2="1020.65" stroke="#FCA044" stroke-width="1.6" stroke-linecap="butt"/>
<polyline points="129.20,1047.30 191.76,981.46 254.31,921.90 316.87,912.49 379.43,940.71 504.54,992.44 629.66,1026.92" fill="none" stroke="#FCA044" stroke-width="3.5" stroke-linejoin="round" stroke-linecap="butt"/>
<rect x="122.35" y="1040.45" width="13.70" height="13.70" fill="#FCA044" stroke="none" stroke-width="0"/>
<rect x="184.91" y="974.61" width="13.70" height="13.70" fill="#FCA044" stroke="none" stroke-width="0"/>
<rect x="247.47" y="915.05" width="13.70" height="13.70" fill="#FCA044" stroke="none" stroke-width="0"/>
<rect x="310.02" y="905.64" width="13.70" height="13.70" fill="#FCA044" stroke="none" stroke-width="0"/>
<rect x="372.58" y="933.86" width="13.70" height="13.70" fill="#FCA044" stroke="none" stroke-width="0"/>
<rect x="497.69" y="985.59" width="13.70" height="13.70" fill="#FCA044" stroke="none" stroke-width="0"/>
<rect x="622.81" y="1020.07" width="13.70" height="13.70" fill="#FCA044" stroke="none" stroke-width="0"/>
<polyline points="129.20,1047.30 191.76,1044.79 254.31,1039.46 316.87,1041.03 379.43,1030.06 504.54,1042.60 629.66,1040.40" fill="none" stroke="#A8A8AC" stroke-width="3.5" stroke-linejoin="round" stroke-linecap="butt"/>
<circle cx="129.20" cy="1047.30" r="6.25" fill="#A8A8AC" stroke="none" stroke-width="0"/>
<circle cx="191.76" cy="1044.79" r="6.25" fill="#A8A8AC" stroke="none" stroke-width="0"/>
<circle cx="254.31" cy="1039.46" r="6.25" fill="#A8A8AC" stroke="none" stroke-width="0"/>
<circle cx="316.87" cy="1041.03" r="6.25" fill="#A8A8AC" stroke="none" stroke-width="0"/>
<circle cx="379.43" cy="1030.06" r="6.25" fill="#A8A8AC" stroke="none" stroke-width="0"/>
<circle cx="504.54" cy="1042.60" r="6.25" fill="#A8A8AC" stroke="none" stroke-width="0"/>
<circle cx="629.66" cy="1040.40" r="6.25" fill="#A8A8AC" stroke="none" stroke-width="0"/>
<text transform="translate(49.50 892.55) rotate(-90)" x="-179.07" y="0" font-size="30.5" font-weight="bold">Hotplate latency (%MPE)</text>
<text x="303.68" y="1133.60" font-size="30.5" font-weight="bold">Time (min)</text>
<text x="174.58" y="668.59" font-size="23.2" letter-spacing="1.37" fill="#C25E04">***</text>
<text x="184.98" y="683.99" font-size="23.2" fill="#FCA044">*</text>
<text x="169.38" y="697.89" font-size="23.2" letter-spacing="1.37" fill="#0E9A68">****</text>
<text x="174.58" y="714.59" font-size="23.2" letter-spacing="1.37" fill="#ACDEA8">***</text>
<text x="169.38" y="730.49" font-size="23.2" letter-spacing="1.37" fill="#065068">****</text>
<text x="169.38" y="745.59" font-size="23.2" letter-spacing="1.37" fill="#1395B2">****</text>
<text x="231.48" y="687.59" font-size="23.2" letter-spacing="1.37" fill="#C25E04">****</text>
<text x="231.48" y="701.89" font-size="23.2" letter-spacing="1.37" fill="#FCA044">****</text>
<text x="231.48" y="715.79" font-size="23.2" letter-spacing="1.37" fill="#0E9A68">****</text>
<text x="236.68" y="732.89" font-size="23.2" letter-spacing="1.37" fill="#ACDEA8">***</text>
<text x="231.48" y="749.09" font-size="23.2" letter-spacing="1.37" fill="#065068">****</text>
<text x="231.48" y="763.79" font-size="23.2" letter-spacing="1.37" fill="#1395B2">****</text>
<text x="295.18" y="694.39" font-size="23.2" letter-spacing="1.37" fill="#C25E04">****</text>
<text x="300.38" y="710.19" font-size="23.2" letter-spacing="1.37" fill="#FCA044">***</text>
<text x="295.18" y="724.39" font-size="23.2" letter-spacing="1.37" fill="#0E9A68">****</text>
<text x="300.38" y="740.99" font-size="23.2" letter-spacing="1.37" fill="#ACDEA8">***</text>
<text x="295.18" y="757.19" font-size="23.2" letter-spacing="1.37" fill="#065068">****</text>
<text x="295.18" y="771.49" font-size="23.2" letter-spacing="1.37" fill="#1395B2">****</text>
<text x="359.18" y="746.39" font-size="23.2" letter-spacing="1.37" fill="#C25E04">****</text>
<text x="364.38" y="760.29" font-size="23.2" letter-spacing="1.37" fill="#FCA044">***</text>
<text x="359.18" y="775.69" font-size="23.2" letter-spacing="1.37" fill="#0E9A68">****</text>
<text x="374.78" y="790.69" font-size="23.2" fill="#ACDEA8">*</text>
<text x="369.58" y="807.29" font-size="23.2" letter-spacing="1.37" fill="#065068">**</text>
<text x="483.38" y="863.19" font-size="23.2" letter-spacing="1.37" fill="#C25E04">****</text>
<text x="493.78" y="877.09" font-size="23.2" letter-spacing="1.37" fill="#FCA044">**</text>
<text x="488.58" y="891.29" font-size="23.2" letter-spacing="1.37" fill="#0E9A68">***</text>
<text x="493.78" y="907.89" font-size="23.2" letter-spacing="1.37" fill="#ACDEA8">**</text>
<text x="625.38" y="949.19" font-size="23.2" fill="#C25E04">*</text>
<text x="625.38" y="964.19" font-size="23.2" fill="#0E9A68">*</text>
<text x="696.36" y="653.50" font-size="53.5" font-weight="bold">C</text>
<rect x="837.90" y="1024.73" width="38.80" height="10.97" fill="#A8A8AC" stroke="none" stroke-width="0"/>
<rect x="896.10" y="920.13" width="38.80" height="115.57" fill="#FCA044" stroke="none" stroke-width="0"/>
<rect x="954.30" y="938.94" width="38.80" height="96.76" fill="#ACDEA8" stroke="none" stroke-width="0"/>
<rect x="1012.30" y="932.28" width="38.80" height="103.42" fill="#1395B2" stroke="none" stroke-width="0"/>
<line x1="857.30" y1="1031.39" x2="857.30" y2="1018.07" stroke="#000" stroke-width="3.4" stroke-linecap="butt"/>
<line x1="847.80" y1="1031.39" x2="866.80" y2="1031.39" stroke="#000" stroke-width="3.4" stroke-linecap="butt"/>
<line x1="847.80" y1="1018.07" x2="866.80" y2="1018.07" stroke="#000" stroke-width="3.4" stroke-linecap="butt"/>
<line x1="915.50" y1="937.76" x2="915.50" y2="901.72" stroke="#000" stroke-width="3.4" stroke-linecap="butt"/>
<line x1="906.00" y1="937.76" x2="925.00" y2="937.76" stroke="#000" stroke-width="3.4" stroke-linecap="butt"/>
<line x1="906.00" y1="901.72" x2="925.00" y2="901.72" stroke="#000" stroke-width="3.4" stroke-linecap="butt"/>
<line x1="973.70" y1="956.57" x2="973.70" y2="920.53" stroke="#000" stroke-width="3.4" stroke-linecap="butt"/>
<line x1="964.20" y1="956.57" x2="983.20" y2="956.57" stroke="#000" stroke-width="3.4" stroke-linecap="butt"/>
<line x1="964.20" y1="920.53" x2="983.20" y2="920.53" stroke="#000" stroke-width="3.4" stroke-linecap="butt"/>
<line x1="1031.70" y1="947.56" x2="1031.70" y2="917.00" stroke="#000" stroke-width="3.4" stroke-linecap="butt"/>
<line x1="1022.20" y1="947.56" x2="1041.20" y2="947.56" stroke="#000" stroke-width="3.4" stroke-linecap="butt"/>
<line x1="1022.20" y1="917.00" x2="1041.20" y2="917.00" stroke="#000" stroke-width="3.4" stroke-linecap="butt"/>
<line x1="818.90" y1="1035.70" x2="818.90" y2="720.50" stroke="#000" stroke-width="3.6" stroke-linecap="butt"/>
<line x1="805.90" y1="1035.70" x2="820.70" y2="1035.70" stroke="#000" stroke-width="3.6" stroke-linecap="butt"/>
<text x="787.59" y="1044.95" font-size="26.5">0</text>
<line x1="805.90" y1="957.35" x2="820.70" y2="957.35" stroke="#000" stroke-width="3.6" stroke-linecap="butt"/>
<text x="743.40" y="966.60" font-size="26.5">2000</text>
<line x1="805.90" y1="879.00" x2="820.70" y2="879.00" stroke="#000" stroke-width="3.6" stroke-linecap="butt"/>
<text x="743.40" y="888.25" font-size="26.5">4000</text>
<line x1="805.90" y1="800.65" x2="820.70" y2="800.65" stroke="#000" stroke-width="3.6" stroke-linecap="butt"/>
<text x="743.40" y="809.90" font-size="26.5">6000</text>
<line x1="805.90" y1="722.30" x2="820.70" y2="722.30" stroke="#000" stroke-width="3.6" stroke-linecap="butt"/>
<text x="743.40" y="731.55" font-size="26.5">8000</text>
<line x1="805.20" y1="1035.70" x2="1072.60" y2="1035.70" stroke="#000" stroke-width="3.6" stroke-linecap="butt"/>
<line x1="857.30" y1="1033.90" x2="857.30" y2="1049.40" stroke="#000" stroke-width="3.6" stroke-linecap="butt"/>
<line x1="915.50" y1="1033.90" x2="915.50" y2="1049.40" stroke="#000" stroke-width="3.6" stroke-linecap="butt"/>
<line x1="973.70" y1="1033.90" x2="973.70" y2="1049.40" stroke="#000" stroke-width="3.6" stroke-linecap="butt"/>
<line x1="1031.70" y1="1033.90" x2="1031.70" y2="1049.40" stroke="#000" stroke-width="3.6" stroke-linecap="butt"/>
<text transform="translate(728.60 877.50) rotate(-90)" x="-98.29" y="0" font-size="30.5" font-weight="bold">Hotplate AUC</text>
<text x="873.70" y="1087.30" font-size="30.5" font-weight="bold">Low dose</text>
<polyline points="857.30,883.00 857.30,864.60 915.50,864.60 915.50,883.00" fill="none" stroke="#000" stroke-width="1.8" stroke-linejoin="miter" stroke-linecap="butt"/>
<text x="863.98" y="861.14" font-size="35.0" letter-spacing="1.88">***</text>
<polyline points="857.30,821.10 857.30,802.70 973.70,802.70 973.70,821.10" fill="none" stroke="#000" stroke-width="1.8" stroke-linejoin="miter" stroke-linecap="butt"/>
<text x="900.73" y="799.74" font-size="35.0" letter-spacing="1.88">**</text>
<polyline points="857.30,759.30 857.30,740.90 1031.70,740.90 1031.70,759.30" fill="none" stroke="#000" stroke-width="1.8" stroke-linejoin="miter" stroke-linecap="butt"/>
<text x="921.98" y="738.04" font-size="35.0" letter-spacing="1.88">***</text>
<text x="1171.22" y="653.50" font-size="53.5" font-weight="bold">D</text>
<rect x="1305.90" y="1024.84" width="38.80" height="10.96" fill="#A8A8AC" stroke="none" stroke-width="0"/>
<rect x="1363.90" y="803.25" width="38.80" height="232.55" fill="#C25E04" stroke="none" stroke-width="0"/>
<rect x="1422.10" y="845.53" width="38.80" height="190.27" fill="#0E9A68" stroke="none" stroke-width="0"/>
<rect x="1480.10" y="875.68" width="38.80" height="160.12" fill="#065068" stroke="none" stroke-width="0"/>
<line x1="1325.30" y1="1031.49" x2="1325.30" y2="1018.18" stroke="#000" stroke-width="3.4" stroke-linecap="butt"/>
<line x1="1315.80" y1="1031.49" x2="1334.80" y2="1031.49" stroke="#000" stroke-width="3.4" stroke-linecap="butt"/>
<line x1="1315.80" y1="1018.18" x2="1334.80" y2="1018.18" stroke="#000" stroke-width="3.4" stroke-linecap="butt"/>
<line x1="1383.30" y1="826.35" x2="1383.30" y2="780.15" stroke="#000" stroke-width="3.4" stroke-linecap="butt"/>
<line x1="1373.80" y1="826.35" x2="1392.80" y2="826.35" stroke="#000" stroke-width="3.4" stroke-linecap="butt"/>
<line x1="1373.80" y1="780.15" x2="1392.80" y2="780.15" stroke="#000" stroke-width="3.4" stroke-linecap="butt"/>
<line x1="1441.50" y1="866.28" x2="1441.50" y2="824.78" stroke="#000" stroke-width="3.4" stroke-linecap="butt"/>
<line x1="1432.00" y1="866.28" x2="1451.00" y2="866.28" stroke="#000" stroke-width="3.4" stroke-linecap="butt"/>
<line x1="1432.00" y1="824.78" x2="1451.00" y2="824.78" stroke="#000" stroke-width="3.4" stroke-linecap="butt"/>
<line x1="1499.50" y1="894.08" x2="1499.50" y2="857.28" stroke="#000" stroke-width="3.4" stroke-linecap="butt"/>
<line x1="1490.00" y1="894.08" x2="1509.00" y2="894.08" stroke="#000" stroke-width="3.4" stroke-linecap="butt"/>
<line x1="1490.00" y1="857.28" x2="1509.00" y2="857.28" stroke="#000" stroke-width="3.4" stroke-linecap="butt"/>
<line x1="1287.80" y1="1035.80" x2="1287.80" y2="720.80" stroke="#000" stroke-width="3.6" stroke-linecap="butt"/>
<line x1="1274.80" y1="1035.80" x2="1289.60" y2="1035.80" stroke="#000" stroke-width="3.6" stroke-linecap="butt"/>
<text x="1256.49" y="1045.05" font-size="26.5">0</text>
<line x1="1274.80" y1="957.50" x2="1289.60" y2="957.50" stroke="#000" stroke-width="3.6" stroke-linecap="butt"/>
<text x="1212.30" y="966.75" font-size="26.5">2000</text>
<line x1="1274.80" y1="879.20" x2="1289.60" y2="879.20" stroke="#000" stroke-width="3.6" stroke-linecap="butt"/>
<text x="1212.30" y="888.45" font-size="26.5">4000</text>
<line x1="1274.80" y1="800.90" x2="1289.60" y2="800.90" stroke="#000" stroke-width="3.6" stroke-linecap="butt"/>
<text x="1212.30" y="810.15" font-size="26.5">6000</text>
<line x1="1274.80" y1="722.60" x2="1289.60" y2="722.60" stroke="#000" stroke-width="3.6" stroke-linecap="butt"/>
<text x="1212.30" y="731.85" font-size="26.5">8000</text>
<line x1="1274.10" y1="1035.80" x2="1540.00" y2="1035.80" stroke="#000" stroke-width="3.6" stroke-linecap="butt"/>
<line x1="1325.30" y1="1034.00" x2="1325.30" y2="1049.50" stroke="#000" stroke-width="3.6" stroke-linecap="butt"/>
<line x1="1383.30" y1="1034.00" x2="1383.30" y2="1049.50" stroke="#000" stroke-width="3.6" stroke-linecap="butt"/>
<line x1="1441.50" y1="1034.00" x2="1441.50" y2="1049.50" stroke="#000" stroke-width="3.6" stroke-linecap="butt"/>
<line x1="1499.50" y1="1034.00" x2="1499.50" y2="1049.50" stroke="#000" stroke-width="3.6" stroke-linecap="butt"/>
<text transform="translate(1194.00 879.70) rotate(-90)" x="-102.52" y="0" font-size="30.5" font-weight="bold">Hot plate AUC</text>
<text x="1338.81" y="1087.30" font-size="30.5" font-weight="bold">High dose</text>
<polyline points="1325.30,770.10 1325.30,754.90 1377.70,754.90 1377.70,770.10" fill="none" stroke="#000" stroke-width="1.8" stroke-linejoin="miter" stroke-linecap="butt"/>
<text x="1321.52" y="751.74" font-size="35.0" letter-spacing="1.88">****</text>
<polyline points="1389.50,770.10 1389.50,754.90 1499.50,754.90 1499.50,770.10" fill="none" stroke="#000" stroke-width="1.8" stroke-linejoin="miter" stroke-linecap="butt"/>
<text x="1438.17" y="751.74" font-size="35.0">*</text>
<polyline points="1325.30,721.60 1325.30,704.40 1441.50,704.40 1441.50,721.60" fill="none" stroke="#000" stroke-width="1.8" stroke-linejoin="miter" stroke-linecap="butt"/>
<text x="1353.33" y="700.74" font-size="35.0" letter-spacing="1.88">****</text>
<polyline points="1325.30,686.20 1325.30,668.10 1499.50,668.10 1499.50,686.20" fill="none" stroke="#000" stroke-width="1.8" stroke-linejoin="miter" stroke-linecap="butt"/>
<text x="1382.72" y="664.94" font-size="35.0" letter-spacing="1.88">****</text>
<line x1="1637.10" y1="712.10" x2="1690.10" y2="712.10" stroke="#A8A8AC" stroke-width="5.2" stroke-linecap="butt"/>
<circle cx="1663.60" cy="712.10" r="9.83" fill="#A8A8AC" stroke="none" stroke-width="0"/>
<text x="1718.92" y="722.90" font-size="30.5" textLength="100.98" lengthAdjust="spacingAndGlyphs">Vehicle</text>
<line x1="1637.10" y1="766.40" x2="1690.10" y2="766.40" stroke="#FCA044" stroke-width="5.2" stroke-linecap="butt"/>
<rect x="1653.25" y="756.05" width="20.70" height="20.70" fill="#FCA044" stroke="none" stroke-width="0"/>
<text x="1718.19" y="777.20" font-size="30.5" textLength="177.64" lengthAdjust="spacingAndGlyphs">Morphine (5)</text>
<line x1="1637.10" y1="820.40" x2="1690.10" y2="820.40" stroke="#C25E04" stroke-width="5.2" stroke-linecap="butt"/>
<rect x="1653.25" y="810.05" width="20.70" height="20.70" fill="#C25E04" stroke="none" stroke-width="0"/>
<text x="1718.20" y="831.20" font-size="30.5" textLength="194.58" lengthAdjust="spacingAndGlyphs">Morphine (10)</text>
<line x1="1637.10" y1="874.60" x2="1690.10" y2="874.60" stroke="#ACDEA8" stroke-width="5.2" stroke-linecap="butt"/>
<polygon points="1652.94,864.04 1674.26,864.04 1663.60,885.16" fill="#ACDEA8" stroke="none" stroke-width="0" stroke-linejoin="miter" stroke-linecap="butt"/>
<text x="1717.77" y="885.40" font-size="30.5" textLength="190.12" lengthAdjust="spacingAndGlyphs">Kurkinorin (5)</text>
<line x1="1637.10" y1="928.80" x2="1690.10" y2="928.80" stroke="#0E9A68" stroke-width="5.2" stroke-linecap="butt"/>
<polygon points="1652.94,918.24 1674.26,918.24 1663.60,939.36" fill="#0E9A68" stroke="none" stroke-width="0" stroke-linejoin="miter" stroke-linecap="butt"/>
<text x="1717.78" y="939.60" font-size="30.5" textLength="206.64" lengthAdjust="spacingAndGlyphs">Kurkinorin (10)</text>
<line x1="1637.10" y1="983.00" x2="1690.10" y2="983.00" stroke="#1395B2" stroke-width="5.2" stroke-linecap="butt"/>
<polygon points="1652.94,993.56 1674.26,993.56 1663.60,972.44" fill="#1395B2" stroke="none" stroke-width="0" stroke-linejoin="miter" stroke-linecap="butt"/>
<text x="1717.77" y="993.80" font-size="30.5" textLength="188.01" lengthAdjust="spacingAndGlyphs">Kurkinol (2.5)</text>
<line x1="1637.10" y1="1037.20" x2="1690.10" y2="1037.20" stroke="#065068" stroke-width="5.2" stroke-linecap="butt"/>
<polygon points="1652.94,1047.76 1674.26,1047.76 1663.60,1026.64" fill="#065068" stroke="none" stroke-width="0" stroke-linejoin="miter" stroke-linecap="butt"/>
<text x="1717.77" y="1048.00" font-size="30.5" textLength="161.95" lengthAdjust="spacingAndGlyphs">Kurkinol (5)</text>
<defs><pattern id="hG" patternUnits="userSpaceOnUse" width="10.6" height="10.6" patternTransform="rotate(-37)"><rect x="0" y="0" width="10.6" height="10.6" fill="#A8A8AC"/><rect x="0" y="0" width="10.6" height="4.1" fill="#fff"/></pattern><pattern id="hO" patternUnits="userSpaceOnUse" width="10.6" height="10.6" patternTransform="rotate(-37)"><rect x="0" y="0" width="10.6" height="10.6" fill="#C25E04"/><rect x="0" y="0" width="10.6" height="4.1" fill="#fff"/></pattern><pattern id="hGr" patternUnits="userSpaceOnUse" width="10.6" height="10.6" patternTransform="rotate(-37)"><rect x="0" y="0" width="10.6" height="10.6" fill="#0E9A68"/><rect x="0" y="0" width="10.6" height="4.1" fill="#fff"/></pattern><pattern id="hT" patternUnits="userSpaceOnUse" width="10.6" height="10.6" patternTransform="rotate(-37)"><rect x="0" y="0" width="10.6" height="10.6" fill="#065068"/><rect x="0" y="0" width="10.6" height="4.1" fill="#fff"/></pattern><pattern id="hT2" patternUnits="userSpaceOnUse" width="10.6" height="10.6" patternTransform="rotate(-37)"><rect x="0" y="0" width="10.6" height="10.6" fill="#0B7D98"/><rect x="0" y="0" width="10.6" height="4.1" fill="#fff"/></pattern></defs>
<text x="19.02" y="1189.50" font-size="53.5" font-weight="bold">E</text>
<line x1="129.20" y1="1588.40" x2="129.20" y2="1273.60" stroke="#000" stroke-width="3.6" stroke-linecap="butt"/>
<line x1="115.20" y1="1588.40" x2="131.00" y2="1588.40" stroke="#000" stroke-width="3.6" stroke-linecap="butt"/>
<text x="97.29" y="1597.65" font-size="26.5">0</text>
<line x1="115.20" y1="1525.80" x2="131.00" y2="1525.80" stroke="#000" stroke-width="3.6" stroke-linecap="butt"/>
<text x="82.58" y="1535.05" font-size="26.5">20</text>
<line x1="115.20" y1="1463.20" x2="131.00" y2="1463.20" stroke="#000" stroke-width="3.6" stroke-linecap="butt"/>
<text x="82.58" y="1472.45" font-size="26.5">40</text>
<line x1="115.20" y1="1400.60" x2="131.00" y2="1400.60" stroke="#000" stroke-width="3.6" stroke-linecap="butt"/>
<text x="82.58" y="1409.85" font-size="26.5">60</text>
<line x1="115.20" y1="1338.00" x2="131.00" y2="1338.00" stroke="#000" stroke-width="3.6" stroke-linecap="butt"/>
<text x="82.58" y="1347.25" font-size="26.5">80</text>
<line x1="115.20" y1="1275.40" x2="131.00" y2="1275.40" stroke="#000" stroke-width="3.6" stroke-linecap="butt"/>
<text x="67.80" y="1284.65" font-size="26.5">100</text>
<line x1="127.40" y1="1588.40" x2="631.46" y2="1588.40" stroke="#000" stroke-width="3.6" stroke-linecap="butt"/>
<line x1="129.20" y1="1586.60" x2="129.20" y2="1602.10" stroke="#000" stroke-width="3.6" stroke-linecap="butt"/>
<text x="121.85" y="1630.57" font-size="26.5">0</text>
<line x1="254.31" y1="1586.60" x2="254.31" y2="1602.10" stroke="#000" stroke-width="3.6" stroke-linecap="butt"/>
<text x="239.61" y="1630.57" font-size="26.5">30</text>
<line x1="379.43" y1="1586.60" x2="379.43" y2="1602.10" stroke="#000" stroke-width="3.6" stroke-linecap="butt"/>
<text x="364.56" y="1630.57" font-size="26.5">60</text>
<line x1="504.54" y1="1586.60" x2="504.54" y2="1602.10" stroke="#000" stroke-width="3.6" stroke-linecap="butt"/>
<text x="489.74" y="1630.57" font-size="26.5">90</text>
<line x1="629.66" y1="1586.60" x2="629.66" y2="1602.10" stroke="#000" stroke-width="3.6" stroke-linecap="butt"/>
<text x="607.07" y="1630.57" font-size="26.5">120</text>
<line x1="191.76" y1="1586.60" x2="191.76" y2="1595.90" stroke="#000" stroke-width="3.6" stroke-linecap="butt"/>
<line x1="316.87" y1="1586.60" x2="316.87" y2="1595.90" stroke="#000" stroke-width="3.6" stroke-linecap="butt"/>
<line x1="441.99" y1="1586.60" x2="441.99" y2="1595.90" stroke="#000" stroke-width="3.6" stroke-linecap="butt"/>
<line x1="567.10" y1="1586.60" x2="567.10" y2="1595.90" stroke="#000" stroke-width="3.6" stroke-linecap="butt"/>
<line x1="191.76" y1="1577.45" x2="191.76" y2="1564.93" stroke="#065068" stroke-width="1.6" stroke-linecap="butt"/>
<line x1="188.36" y1="1577.45" x2="195.16" y2="1577.45" stroke="#065068" stroke-width="1.6" stroke-linecap="butt"/>
<line x1="188.36" y1="1564.93" x2="195.16" y2="1564.93" stroke="#065068" stroke-width="1.6" stroke-linecap="butt"/>
<line x1="254.31" y1="1575.88" x2="254.31" y2="1563.36" stroke="#065068" stroke-width="1.6" stroke-linecap="butt"/>
<line x1="250.91" y1="1575.88" x2="257.71" y2="1575.88" stroke="#065068" stroke-width="1.6" stroke-linecap="butt"/>
<line x1="250.91" y1="1563.36" x2="257.71" y2="1563.36" stroke="#065068" stroke-width="1.6" stroke-linecap="butt"/>
<line x1="316.87" y1="1572.75" x2="316.87" y2="1557.10" stroke="#065068" stroke-width="1.6" stroke-linecap="butt"/>
<line x1="313.47" y1="1572.75" x2="320.27" y2="1572.75" stroke="#065068" stroke-width="1.6" stroke-linecap="butt"/>
<line x1="313.47" y1="1557.10" x2="320.27" y2="1557.10" stroke="#065068" stroke-width="1.6" stroke-linecap="butt"/>
<line x1="379.43" y1="1575.88" x2="379.43" y2="1563.36" stroke="#065068" stroke-width="1.6" stroke-linecap="butt"/>
<line x1="376.03" y1="1575.88" x2="382.83" y2="1575.88" stroke="#065068" stroke-width="1.6" stroke-linecap="butt"/>
<line x1="376.03" y1="1563.36" x2="382.83" y2="1563.36" stroke="#065068" stroke-width="1.6" stroke-linecap="butt"/>
<line x1="504.54" y1="1569.62" x2="504.54" y2="1550.84" stroke="#065068" stroke-width="1.6" stroke-linecap="butt"/>
<line x1="501.14" y1="1569.62" x2="507.94" y2="1569.62" stroke="#065068" stroke-width="1.6" stroke-linecap="butt"/>
<line x1="501.14" y1="1550.84" x2="507.94" y2="1550.84" stroke="#065068" stroke-width="1.6" stroke-linecap="butt"/>
<line x1="629.66" y1="1571.19" x2="629.66" y2="1558.67" stroke="#065068" stroke-width="1.6" stroke-linecap="butt"/>
<line x1="626.26" y1="1571.19" x2="633.06" y2="1571.19" stroke="#065068" stroke-width="1.6" stroke-linecap="butt"/>
<line x1="626.26" y1="1558.67" x2="633.06" y2="1558.67" stroke="#065068" stroke-width="1.6" stroke-linecap="butt"/>
<polyline points="129.20,1588.40 191.76,1571.19 254.31,1569.62 316.87,1564.93 379.43,1569.62 504.54,1560.23 629.66,1564.93" fill="none" stroke="#065068" stroke-width="3.5" stroke-linejoin="round" stroke-linecap="butt"/>
<polygon points="124.61,1592.61 133.79,1592.61 129.20,1583.49" fill="#fff" stroke="#065068" stroke-width="3.0" stroke-linejoin="bevel" stroke-linecap="butt"/>
<polygon points="187.16,1575.40 196.35,1575.40 191.76,1566.28" fill="#fff" stroke="#065068" stroke-width="3.0" stroke-linejoin="bevel" stroke-linecap="butt"/>
<polygon points="249.72,1573.83 258.91,1573.83 254.31,1564.71" fill="#fff" stroke="#065068" stroke-width="3.0" stroke-linejoin="bevel" stroke-linecap="butt"/>
<polygon points="312.28,1569.14 321.46,1569.14 316.87,1560.02" fill="#fff" stroke="#065068" stroke-width="3.0" stroke-linejoin="bevel" stroke-linecap="butt"/>
<polygon points="374.84,1573.83 384.02,1573.83 379.43,1564.71" fill="#fff" stroke="#065068" stroke-width="3.0" stroke-linejoin="bevel" stroke-linecap="butt"/>
<polygon points="499.95,1564.44 509.14,1564.44 504.54,1555.32" fill="#fff" stroke="#065068" stroke-width="3.0" stroke-linejoin="bevel" stroke-linecap="butt"/>
<polygon points="625.07,1569.14 634.25,1569.14 629.66,1560.02" fill="#fff" stroke="#065068" stroke-width="3.0" stroke-linejoin="bevel" stroke-linecap="butt"/>
<line x1="191.76" y1="1585.27" x2="191.76" y2="1566.49" stroke="#0E9A68" stroke-width="1.6" stroke-linecap="butt"/>
<line x1="188.36" y1="1585.27" x2="195.16" y2="1585.27" stroke="#0E9A68" stroke-width="1.6" stroke-linecap="butt"/>
<line x1="188.36" y1="1566.49" x2="195.16" y2="1566.49" stroke="#0E9A68" stroke-width="1.6" stroke-linecap="butt"/>
<line x1="254.31" y1="1575.88" x2="254.31" y2="1557.10" stroke="#0E9A68" stroke-width="1.6" stroke-linecap="butt"/>
<line x1="250.91" y1="1575.88" x2="257.71" y2="1575.88" stroke="#0E9A68" stroke-width="1.6" stroke-linecap="butt"/>
<line x1="250.91" y1="1557.10" x2="257.71" y2="1557.10" stroke="#0E9A68" stroke-width="1.6" stroke-linecap="butt"/>
<line x1="316.87" y1="1571.19" x2="316.87" y2="1536.76" stroke="#0E9A68" stroke-width="1.6" stroke-linecap="butt"/>
<line x1="313.47" y1="1571.19" x2="320.27" y2="1571.19" stroke="#0E9A68" stroke-width="1.6" stroke-linecap="butt"/>
<line x1="313.47" y1="1536.76" x2="320.27" y2="1536.76" stroke="#0E9A68" stroke-width="1.6" stroke-linecap="butt"/>
<line x1="379.43" y1="1575.88" x2="379.43" y2="1557.10" stroke="#0E9A68" stroke-width="1.6" stroke-linecap="butt"/>
<line x1="376.03" y1="1575.88" x2="382.83" y2="1575.88" stroke="#0E9A68" stroke-width="1.6" stroke-linecap="butt"/>
<line x1="376.03" y1="1557.10" x2="382.83" y2="1557.10" stroke="#0E9A68" stroke-width="1.6" stroke-linecap="butt"/>
<line x1="504.54" y1="1572.75" x2="504.54" y2="1553.97" stroke="#0E9A68" stroke-width="1.6" stroke-linecap="butt"/>
<line x1="501.14" y1="1572.75" x2="507.94" y2="1572.75" stroke="#0E9A68" stroke-width="1.6" stroke-linecap="butt"/>
<line x1="501.14" y1="1553.97" x2="507.94" y2="1553.97" stroke="#0E9A68" stroke-width="1.6" stroke-linecap="butt"/>
<line x1="629.66" y1="1580.58" x2="629.66" y2="1568.06" stroke="#0E9A68" stroke-width="1.6" stroke-linecap="butt"/>
<line x1="626.26" y1="1580.58" x2="633.06" y2="1580.58" stroke="#0E9A68" stroke-width="1.6" stroke-linecap="butt"/>
<line x1="626.26" y1="1568.06" x2="633.06" y2="1568.06" stroke="#0E9A68" stroke-width="1.6" stroke-linecap="butt"/>
<polyline points="129.20,1588.40 191.76,1575.88 254.31,1566.49 316.87,1553.97 379.43,1566.49 504.54,1563.36 629.66,1574.32" fill="none" stroke="#0E9A68" stroke-width="3.5" stroke-linejoin="round" stroke-linecap="butt"/>
<polygon points="124.61,1584.19 133.79,1584.19 129.20,1593.31" fill="#fff" stroke="#0E9A68" stroke-width="3.0" stroke-linejoin="bevel" stroke-linecap="butt"/>
<polygon points="187.16,1571.67 196.35,1571.67 191.76,1580.79" fill="#fff" stroke="#0E9A68" stroke-width="3.0" stroke-linejoin="bevel" stroke-linecap="butt"/>
<polygon points="249.72,1562.28 258.91,1562.28 254.31,1571.40" fill="#fff" stroke="#0E9A68" stroke-width="3.0" stroke-linejoin="bevel" stroke-linecap="butt"/>
<polygon points="312.28,1549.76 321.46,1549.76 316.87,1558.88" fill="#fff" stroke="#0E9A68" stroke-width="3.0" stroke-linejoin="bevel" stroke-linecap="butt"/>
<polygon points="374.84,1562.28 384.02,1562.28 379.43,1571.40" fill="#fff" stroke="#0E9A68" stroke-width="3.0" stroke-linejoin="bevel" stroke-linecap="butt"/>
<polygon points="499.95,1559.15 509.14,1559.15 504.54,1568.27" fill="#fff" stroke="#0E9A68" stroke-width="3.0" stroke-linejoin="bevel" stroke-linecap="butt"/>
<polygon points="625.07,1570.11 634.25,1570.11 629.66,1579.23" fill="#fff" stroke="#0E9A68" stroke-width="3.0" stroke-linejoin="bevel" stroke-linecap="butt"/>
<line x1="191.76" y1="1409.99" x2="191.76" y2="1325.48" stroke="#065068" stroke-width="1.6" stroke-linecap="butt"/>
<line x1="188.36" y1="1409.99" x2="195.16" y2="1409.99" stroke="#065068" stroke-width="1.6" stroke-linecap="butt"/>
<line x1="188.36" y1="1325.48" x2="195.16" y2="1325.48" stroke="#065068" stroke-width="1.6" stroke-linecap="butt"/>
<line x1="254.31" y1="1381.82" x2="254.31" y2="1347.39" stroke="#065068" stroke-width="1.6" stroke-linecap="butt"/>
<line x1="250.91" y1="1381.82" x2="257.71" y2="1381.82" stroke="#065068" stroke-width="1.6" stroke-linecap="butt"/>
<line x1="250.91" y1="1347.39" x2="257.71" y2="1347.39" stroke="#065068" stroke-width="1.6" stroke-linecap="butt"/>
<line x1="316.87" y1="1450.68" x2="316.87" y2="1422.51" stroke="#065068" stroke-width="1.6" stroke-linecap="butt"/>
<line x1="313.47" y1="1450.68" x2="320.27" y2="1450.68" stroke="#065068" stroke-width="1.6" stroke-linecap="butt"/>
<line x1="313.47" y1="1422.51" x2="320.27" y2="1422.51" stroke="#065068" stroke-width="1.6" stroke-linecap="butt"/>
<line x1="379.43" y1="1557.10" x2="379.43" y2="1524.24" stroke="#065068" stroke-width="1.6" stroke-linecap="butt"/>
<line x1="376.03" y1="1557.10" x2="382.83" y2="1557.10" stroke="#065068" stroke-width="1.6" stroke-linecap="butt"/>
<line x1="376.03" y1="1524.24" x2="382.83" y2="1524.24" stroke="#065068" stroke-width="1.6" stroke-linecap="butt"/>
<line x1="504.54" y1="1566.49" x2="504.54" y2="1532.06" stroke="#065068" stroke-width="1.6" stroke-linecap="butt"/>
<line x1="501.14" y1="1566.49" x2="507.94" y2="1566.49" stroke="#065068" stroke-width="1.6" stroke-linecap="butt"/>
<line x1="501.14" y1="1532.06" x2="507.94" y2="1532.06" stroke="#065068" stroke-width="1.6" stroke-linecap="butt"/>
<line x1="629.66" y1="1569.62" x2="629.66" y2="1557.10" stroke="#065068" stroke-width="1.6" stroke-linecap="butt"/>
<line x1="626.26" y1="1569.62" x2="633.06" y2="1569.62" stroke="#065068" stroke-width="1.6" stroke-linecap="butt"/>
<line x1="626.26" y1="1557.10" x2="633.06" y2="1557.10" stroke="#065068" stroke-width="1.6" stroke-linecap="butt"/>
<polyline points="129.20,1588.40 191.76,1367.74 254.31,1364.61 316.87,1431.90 379.43,1541.45 504.54,1553.97 629.66,1563.36" fill="none" stroke="#065068" stroke-width="3.5" stroke-linejoin="round" stroke-linecap="butt"/>
<polygon points="122.14,1595.39 136.26,1595.39 129.20,1581.41" fill="#065068" stroke="none" stroke-width="0" stroke-linejoin="miter" stroke-linecap="butt"/>
<polygon points="184.70,1374.72 198.81,1374.72 191.76,1360.75" fill="#065068" stroke="none" stroke-width="0" stroke-linejoin="miter" stroke-linecap="butt"/>
<polygon points="247.26,1371.59 261.37,1371.59 254.31,1357.62" fill="#065068" stroke="none" stroke-width="0" stroke-linejoin="miter" stroke-linecap="butt"/>
<polygon points="309.82,1438.89 323.93,1438.89 316.87,1424.91" fill="#065068" stroke="none" stroke-width="0" stroke-linejoin="miter" stroke-linecap="butt"/>
<polygon points="372.37,1548.44 386.49,1548.44 379.43,1534.46" fill="#065068" stroke="none" stroke-width="0" stroke-linejoin="miter" stroke-linecap="butt"/>
<polygon points="497.49,1560.96 511.60,1560.96 504.54,1546.98" fill="#065068" stroke="none" stroke-width="0" stroke-linejoin="miter" stroke-linecap="butt"/>
<polygon points="622.60,1570.35 636.72,1570.35 629.66,1556.37" fill="#065068" stroke="none" stroke-width="0" stroke-linejoin="miter" stroke-linecap="butt"/>
<line x1="191.76" y1="1450.68" x2="191.76" y2="1369.30" stroke="#0E9A68" stroke-width="1.6" stroke-linecap="butt"/>
<line x1="188.36" y1="1450.68" x2="195.16" y2="1450.68" stroke="#0E9A68" stroke-width="1.6" stroke-linecap="butt"/>
<line x1="188.36" y1="1369.30" x2="195.16" y2="1369.30" stroke="#0E9A68" stroke-width="1.6" stroke-linecap="butt"/>
<line x1="254.31" y1="1413.12" x2="254.31" y2="1391.21" stroke="#0E9A68" stroke-width="1.6" stroke-linecap="butt"/>
<line x1="250.91" y1="1413.12" x2="257.71" y2="1413.12" stroke="#0E9A68" stroke-width="1.6" stroke-linecap="butt"/>
<line x1="250.91" y1="1391.21" x2="257.71" y2="1391.21" stroke="#0E9A68" stroke-width="1.6" stroke-linecap="butt"/>
<line x1="316.87" y1="1450.68" x2="316.87" y2="1422.51" stroke="#0E9A68" stroke-width="1.6" stroke-linecap="butt"/>
<line x1="313.47" y1="1450.68" x2="320.27" y2="1450.68" stroke="#0E9A68" stroke-width="1.6" stroke-linecap="butt"/>
<line x1="313.47" y1="1422.51" x2="320.27" y2="1422.51" stroke="#0E9A68" stroke-width="1.6" stroke-linecap="butt"/>
<line x1="379.43" y1="1525.80" x2="379.43" y2="1475.72" stroke="#0E9A68" stroke-width="1.6" stroke-linecap="butt"/>
<line x1="376.03" y1="1525.80" x2="382.83" y2="1525.80" stroke="#0E9A68" stroke-width="1.6" stroke-linecap="butt"/>
<line x1="376.03" y1="1475.72" x2="382.83" y2="1475.72" stroke="#0E9A68" stroke-width="1.6" stroke-linecap="butt"/>
<line x1="504.54" y1="1571.19" x2="504.54" y2="1552.41" stroke="#0E9A68" stroke-width="1.6" stroke-linecap="butt"/>
<line x1="501.14" y1="1571.19" x2="507.94" y2="1571.19" stroke="#0E9A68" stroke-width="1.6" stroke-linecap="butt"/>
<line x1="501.14" y1="1552.41" x2="507.94" y2="1552.41" stroke="#0E9A68" stroke-width="1.6" stroke-linecap="butt"/>
<line x1="629.66" y1="1572.75" x2="629.66" y2="1560.23" stroke="#0E9A68" stroke-width="1.6" stroke-linecap="butt"/>
<line x1="626.26" y1="1572.75" x2="633.06" y2="1572.75" stroke="#0E9A68" stroke-width="1.6" stroke-linecap="butt"/>
<line x1="626.26" y1="1560.23" x2="633.06" y2="1560.23" stroke="#0E9A68" stroke-width="1.6" stroke-linecap="butt"/>
<polyline points="129.20,1588.40 191.76,1409.99 254.31,1402.16 316.87,1436.60 379.43,1500.76 504.54,1561.80 629.66,1566.49" fill="none" stroke="#0E9A68" stroke-width="3.5" stroke-linejoin="round" stroke-linecap="butt"/>
<polygon points="122.14,1581.41 136.26,1581.41 129.20,1595.39" fill="#0E9A68" stroke="none" stroke-width="0" stroke-linejoin="miter" stroke-linecap="butt"/>
<polygon points="184.70,1403.00 198.81,1403.00 191.76,1416.98" fill="#0E9A68" stroke="none" stroke-width="0" stroke-linejoin="miter" stroke-linecap="butt"/>
<polygon points="247.26,1395.18 261.37,1395.18 254.31,1409.15" fill="#0E9A68" stroke="none" stroke-width="0" stroke-linejoin="miter" stroke-linecap="butt"/>
<polygon points="309.82,1429.61 323.93,1429.61 316.87,1443.58" fill="#0E9A68" stroke="none" stroke-width="0" stroke-linejoin="miter" stroke-linecap="butt"/>
<polygon points="372.37,1493.77 386.49,1493.77 379.43,1507.75" fill="#0E9A68" stroke="none" stroke-width="0" stroke-linejoin="miter" stroke-linecap="butt"/>
<polygon points="497.49,1554.81 511.60,1554.81 504.54,1568.78" fill="#0E9A68" stroke="none" stroke-width="0" stroke-linejoin="miter" stroke-linecap="butt"/>
<polygon points="622.60,1559.50 636.72,1559.50 629.66,1573.48" fill="#0E9A68" stroke="none" stroke-width="0" stroke-linejoin="miter" stroke-linecap="butt"/>
<line x1="191.76" y1="1569.62" x2="191.76" y2="1560.23" stroke="#C25E04" stroke-width="1.6" stroke-linecap="butt"/>
<line x1="188.36" y1="1569.62" x2="195.16" y2="1569.62" stroke="#C25E04" stroke-width="1.6" stroke-linecap="butt"/>
<line x1="188.36" y1="1560.23" x2="195.16" y2="1560.23" stroke="#C25E04" stroke-width="1.6" stroke-linecap="butt"/>
<line x1="254.31" y1="1571.19" x2="254.31" y2="1561.80" stroke="#C25E04" stroke-width="1.6" stroke-linecap="butt"/>
<line x1="250.91" y1="1571.19" x2="257.71" y2="1571.19" stroke="#C25E04" stroke-width="1.6" stroke-linecap="butt"/>
<line x1="250.91" y1="1561.80" x2="257.71" y2="1561.80" stroke="#C25E04" stroke-width="1.6" stroke-linecap="butt"/>
<line x1="316.87" y1="1579.01" x2="316.87" y2="1560.23" stroke="#C25E04" stroke-width="1.6" stroke-linecap="butt"/>
<line x1="313.47" y1="1579.01" x2="320.27" y2="1579.01" stroke="#C25E04" stroke-width="1.6" stroke-linecap="butt"/>
<line x1="313.47" y1="1560.23" x2="320.27" y2="1560.23" stroke="#C25E04" stroke-width="1.6" stroke-linecap="butt"/>
<line x1="379.43" y1="1566.49" x2="379.43" y2="1553.97" stroke="#C25E04" stroke-width="1.6" stroke-linecap="butt"/>
<line x1="376.03" y1="1566.49" x2="382.83" y2="1566.49" stroke="#C25E04" stroke-width="1.6" stroke-linecap="butt"/>
<line x1="376.03" y1="1553.97" x2="382.83" y2="1553.97" stroke="#C25E04" stroke-width="1.6" stroke-linecap="butt"/>
<line x1="504.54" y1="1568.06" x2="504.54" y2="1555.54" stroke="#C25E04" stroke-width="1.6" stroke-linecap="butt"/>
<line x1="501.14" y1="1568.06" x2="507.94" y2="1568.06" stroke="#C25E04" stroke-width="1.6" stroke-linecap="butt"/>
<line x1="501.14" y1="1555.54" x2="507.94" y2="1555.54" stroke="#C25E04" stroke-width="1.6" stroke-linecap="butt"/>
<line x1="629.66" y1="1564.93" x2="629.66" y2="1552.41" stroke="#C25E04" stroke-width="1.6" stroke-linecap="butt"/>
<line x1="626.26" y1="1564.93" x2="633.06" y2="1564.93" stroke="#C25E04" stroke-width="1.6" stroke-linecap="butt"/>
<line x1="626.26" y1="1552.41" x2="633.06" y2="1552.41" stroke="#C25E04" stroke-width="1.6" stroke-linecap="butt"/>
<polyline points="129.20,1588.40 191.76,1564.93 254.31,1566.49 316.87,1569.62 379.43,1560.23 504.54,1561.80 629.66,1558.67" fill="none" stroke="#C25E04" stroke-width="3.5" stroke-linejoin="round" stroke-linecap="butt"/>
<rect x="124.45" y="1583.65" width="9.50" height="9.50" fill="#fff" stroke="#C25E04" stroke-width="3.0"/>
<rect x="187.01" y="1560.18" width="9.50" height="9.50" fill="#fff" stroke="#C25E04" stroke-width="3.0"/>
<rect x="249.56" y="1561.74" width="9.50" height="9.50" fill="#fff" stroke="#C25E04" stroke-width="3.0"/>
<rect x="312.12" y="1564.87" width="9.50" height="9.50" fill="#fff" stroke="#C25E04" stroke-width="3.0"/>
<rect x="374.68" y="1555.48" width="9.50" height="9.50" fill="#fff" stroke="#C25E04" stroke-width="3.0"/>
<rect x="499.79" y="1557.05" width="9.50" height="9.50" fill="#fff" stroke="#C25E04" stroke-width="3.0"/>
<rect x="624.91" y="1553.92" width="9.50" height="9.50" fill="#fff" stroke="#C25E04" stroke-width="3.0"/>
<line x1="191.76" y1="1525.80" x2="191.76" y2="1469.46" stroke="#C25E04" stroke-width="1.6" stroke-linecap="butt"/>
<line x1="188.36" y1="1525.80" x2="195.16" y2="1525.80" stroke="#C25E04" stroke-width="1.6" stroke-linecap="butt"/>
<line x1="188.36" y1="1469.46" x2="195.16" y2="1469.46" stroke="#C25E04" stroke-width="1.6" stroke-linecap="butt"/>
<line x1="254.31" y1="1438.16" x2="254.31" y2="1381.82" stroke="#C25E04" stroke-width="1.6" stroke-linecap="butt"/>
<line x1="250.91" y1="1438.16" x2="257.71" y2="1438.16" stroke="#C25E04" stroke-width="1.6" stroke-linecap="butt"/>
<line x1="250.91" y1="1381.82" x2="257.71" y2="1381.82" stroke="#C25E04" stroke-width="1.6" stroke-linecap="butt"/>
<line x1="316.87" y1="1422.51" x2="316.87" y2="1361.48" stroke="#C25E04" stroke-width="1.6" stroke-linecap="butt"/>
<line x1="313.47" y1="1422.51" x2="320.27" y2="1422.51" stroke="#C25E04" stroke-width="1.6" stroke-linecap="butt"/>
<line x1="313.47" y1="1361.48" x2="320.27" y2="1361.48" stroke="#C25E04" stroke-width="1.6" stroke-linecap="butt"/>
<line x1="379.43" y1="1516.41" x2="379.43" y2="1464.77" stroke="#C25E04" stroke-width="1.6" stroke-linecap="butt"/>
<line x1="376.03" y1="1516.41" x2="382.83" y2="1516.41" stroke="#C25E04" stroke-width="1.6" stroke-linecap="butt"/>
<line x1="376.03" y1="1464.77" x2="382.83" y2="1464.77" stroke="#C25E04" stroke-width="1.6" stroke-linecap="butt"/>
<line x1="504.54" y1="1560.23" x2="504.54" y2="1541.45" stroke="#C25E04" stroke-width="1.6" stroke-linecap="butt"/>
<line x1="501.14" y1="1560.23" x2="507.94" y2="1560.23" stroke="#C25E04" stroke-width="1.6" stroke-linecap="butt"/>
<line x1="501.14" y1="1541.45" x2="507.94" y2="1541.45" stroke="#C25E04" stroke-width="1.6" stroke-linecap="butt"/>
<line x1="629.66" y1="1558.67" x2="629.66" y2="1535.19" stroke="#C25E04" stroke-width="1.6" stroke-linecap="butt"/>
<line x1="626.26" y1="1558.67" x2="633.06" y2="1558.67" stroke="#C25E04" stroke-width="1.6" stroke-linecap="butt"/>
<line x1="626.26" y1="1535.19" x2="633.06" y2="1535.19" stroke="#C25E04" stroke-width="1.6" stroke-linecap="butt"/>
<polyline points="129.20,1588.40 191.76,1497.63 254.31,1409.99 316.87,1392.78 379.43,1491.37 504.54,1550.84 629.66,1547.71" fill="none" stroke="#C25E04" stroke-width="3.5" stroke-linejoin="round" stroke-linecap="butt"/>
<rect x="122.35" y="1581.55" width="13.70" height="13.70" fill="#C25E04" stroke="none" stroke-width="0"/>
<rect x="184.91" y="1490.78" width="13.70" height="13.70" fill="#C25E04" stroke="none" stroke-width="0"/>
<rect x="247.47" y="1403.14" width="13.70" height="13.70" fill="#C25E04" stroke="none" stroke-width="0"/>
<rect x="310.02" y="1385.93" width="13.70" height="13.70" fill="#C25E04" stroke="none" stroke-width="0"/>
<rect x="372.58" y="1484.52" width="13.70" height="13.70" fill="#C25E04" stroke="none" stroke-width="0"/>
<rect x="497.69" y="1543.99" width="13.70" height="13.70" fill="#C25E04" stroke="none" stroke-width="0"/>
<rect x="622.81" y="1540.86" width="13.70" height="13.70" fill="#C25E04" stroke="none" stroke-width="0"/>
<line x1="191.76" y1="1571.19" x2="191.76" y2="1561.80" stroke="#A8A8AC" stroke-width="1.6" stroke-linecap="butt"/>
<line x1="188.36" y1="1571.19" x2="195.16" y2="1571.19" stroke="#A8A8AC" stroke-width="1.6" stroke-linecap="butt"/>
<line x1="188.36" y1="1561.80" x2="195.16" y2="1561.80" stroke="#A8A8AC" stroke-width="1.6" stroke-linecap="butt"/>
<line x1="254.31" y1="1575.88" x2="254.31" y2="1566.49" stroke="#A8A8AC" stroke-width="1.6" stroke-linecap="butt"/>
<line x1="250.91" y1="1575.88" x2="257.71" y2="1575.88" stroke="#A8A8AC" stroke-width="1.6" stroke-linecap="butt"/>
<line x1="250.91" y1="1566.49" x2="257.71" y2="1566.49" stroke="#A8A8AC" stroke-width="1.6" stroke-linecap="butt"/>
<line x1="316.87" y1="1575.88" x2="316.87" y2="1563.36" stroke="#A8A8AC" stroke-width="1.6" stroke-linecap="butt"/>
<line x1="313.47" y1="1575.88" x2="320.27" y2="1575.88" stroke="#A8A8AC" stroke-width="1.6" stroke-linecap="butt"/>
<line x1="313.47" y1="1563.36" x2="320.27" y2="1563.36" stroke="#A8A8AC" stroke-width="1.6" stroke-linecap="butt"/>
<line x1="379.43" y1="1566.49" x2="379.43" y2="1550.84" stroke="#A8A8AC" stroke-width="1.6" stroke-linecap="butt"/>
<line x1="376.03" y1="1566.49" x2="382.83" y2="1566.49" stroke="#A8A8AC" stroke-width="1.6" stroke-linecap="butt"/>
<line x1="376.03" y1="1550.84" x2="382.83" y2="1550.84" stroke="#A8A8AC" stroke-width="1.6" stroke-linecap="butt"/>
<line x1="504.54" y1="1575.88" x2="504.54" y2="1566.49" stroke="#A8A8AC" stroke-width="1.6" stroke-linecap="butt"/>
<line x1="501.14" y1="1575.88" x2="507.94" y2="1575.88" stroke="#A8A8AC" stroke-width="1.6" stroke-linecap="butt"/>
<line x1="501.14" y1="1566.49" x2="507.94" y2="1566.49" stroke="#A8A8AC" stroke-width="1.6" stroke-linecap="butt"/>
<line x1="629.66" y1="1583.71" x2="629.66" y2="1574.32" stroke="#A8A8AC" stroke-width="1.6" stroke-linecap="butt"/>
<line x1="626.26" y1="1583.71" x2="633.06" y2="1583.71" stroke="#A8A8AC" stroke-width="1.6" stroke-linecap="butt"/>
<line x1="626.26" y1="1574.32" x2="633.06" y2="1574.32" stroke="#A8A8AC" stroke-width="1.6" stroke-linecap="butt"/>
<polyline points="129.20,1588.40 191.76,1566.49 254.31,1571.19 316.87,1569.62 379.43,1558.67 504.54,1571.19 629.66,1579.01" fill="none" stroke="#A8A8AC" stroke-width="3.5" stroke-linejoin="round" stroke-linecap="butt"/>
<circle cx="129.20" cy="1588.40" r="4.75" fill="#fff" stroke="#A8A8AC" stroke-width="3.0"/>
<circle cx="191.76" cy="1566.49" r="4.75" fill="#fff" stroke="#A8A8AC" stroke-width="3.0"/>
<circle cx="254.31" cy="1571.19" r="4.75" fill="#fff" stroke="#A8A8AC" stroke-width="3.0"/>
<circle cx="316.87" cy="1569.62" r="4.75" fill="#fff" stroke="#A8A8AC" stroke-width="3.0"/>
<circle cx="379.43" cy="1558.67" r="4.75" fill="#fff" stroke="#A8A8AC" stroke-width="3.0"/>
<circle cx="504.54" cy="1571.19" r="4.75" fill="#fff" stroke="#A8A8AC" stroke-width="3.0"/>
<circle cx="629.66" cy="1579.01" r="4.75" fill="#fff" stroke="#A8A8AC" stroke-width="3.0"/>
<line x1="191.76" y1="1582.14" x2="191.76" y2="1572.75" stroke="#A8A8AC" stroke-width="1.6" stroke-linecap="butt"/>
<line x1="188.36" y1="1582.14" x2="195.16" y2="1582.14" stroke="#A8A8AC" stroke-width="1.6" stroke-linecap="butt"/>
<line x1="188.36" y1="1572.75" x2="195.16" y2="1572.75" stroke="#A8A8AC" stroke-width="1.6" stroke-linecap="butt"/>
<line x1="254.31" y1="1582.14" x2="254.31" y2="1572.75" stroke="#A8A8AC" stroke-width="1.6" stroke-linecap="butt"/>
<line x1="250.91" y1="1582.14" x2="257.71" y2="1582.14" stroke="#A8A8AC" stroke-width="1.6" stroke-linecap="butt"/>
<line x1="250.91" y1="1572.75" x2="257.71" y2="1572.75" stroke="#A8A8AC" stroke-width="1.6" stroke-linecap="butt"/>
<line x1="316.87" y1="1575.88" x2="316.87" y2="1563.36" stroke="#A8A8AC" stroke-width="1.6" stroke-linecap="butt"/>
<line x1="313.47" y1="1575.88" x2="320.27" y2="1575.88" stroke="#A8A8AC" stroke-width="1.6" stroke-linecap="butt"/>
<line x1="313.47" y1="1563.36" x2="320.27" y2="1563.36" stroke="#A8A8AC" stroke-width="1.6" stroke-linecap="butt"/>
<line x1="379.43" y1="1583.71" x2="379.43" y2="1571.19" stroke="#A8A8AC" stroke-width="1.6" stroke-linecap="butt"/>
<line x1="376.03" y1="1583.71" x2="382.83" y2="1583.71" stroke="#A8A8AC" stroke-width="1.6" stroke-linecap="butt"/>
<line x1="376.03" y1="1571.19" x2="382.83" y2="1571.19" stroke="#A8A8AC" stroke-width="1.6" stroke-linecap="butt"/>
<line x1="504.54" y1="1571.19" x2="504.54" y2="1546.14" stroke="#A8A8AC" stroke-width="1.6" stroke-linecap="butt"/>
<line x1="501.14" y1="1571.19" x2="507.94" y2="1571.19" stroke="#A8A8AC" stroke-width="1.6" stroke-linecap="butt"/>
<line x1="501.14" y1="1546.14" x2="507.94" y2="1546.14" stroke="#A8A8AC" stroke-width="1.6" stroke-linecap="butt"/>
<line x1="629.66" y1="1575.88" x2="629.66" y2="1566.49" stroke="#A8A8AC" stroke-width="1.6" stroke-linecap="butt"/>
<line x1="626.26" y1="1575.88" x2="633.06" y2="1575.88" stroke="#A8A8AC" stroke-width="1.6" stroke-linecap="butt"/>
<line x1="626.26" y1="1566.49" x2="633.06" y2="1566.49" stroke="#A8A8AC" stroke-width="1.6" stroke-linecap="butt"/>
<polyline points="129.20,1588.40 191.76,1577.45 254.31,1577.45 316.87,1569.62 379.43,1577.45 504.54,1558.67 629.66,1571.19" fill="none" stroke="#A8A8AC" stroke-width="3.5" stroke-linejoin="round" stroke-linecap="butt"/>
<circle cx="129.20" cy="1588.40" r="6.25" fill="#A8A8AC" stroke="none" stroke-width="0"/>
<circle cx="191.76" cy="1577.45" r="6.25" fill="#A8A8AC" stroke="none" stroke-width="0"/>
<circle cx="254.31" cy="1577.45" r="6.25" fill="#A8A8AC" stroke="none" stroke-width="0"/>
<circle cx="316.87" cy="1569.62" r="6.25" fill="#A8A8AC" stroke="none" stroke-width="0"/>
<circle cx="379.43" cy="1577.45" r="6.25" fill="#A8A8AC" stroke="none" stroke-width="0"/>
<circle cx="504.54" cy="1558.67" r="6.25" fill="#A8A8AC" stroke="none" stroke-width="0"/>
<circle cx="629.66" cy="1571.19" r="6.25" fill="#A8A8AC" stroke="none" stroke-width="0"/>
<text transform="translate(49.50 1433.90) rotate(-90)" x="-179.07" y="0" font-size="30.5" font-weight="bold">Hotplate latency (%MPE)</text>
<text x="303.68" y="1674.90" font-size="30.5" font-weight="bold">Time (min)</text>
<text x="187.48" y="1292.99" font-size="23.2" fill="#0E9A68">*</text>
<text x="182.28" y="1309.19" font-size="23.2" letter-spacing="1.37" fill="#065068">**</text>
<text x="243.58" y="1297.59" font-size="23.2" letter-spacing="1.37" fill="#C25E04">**</text>
<text x="233.18" y="1313.39" font-size="23.2" letter-spacing="1.37" fill="#0E9A68">****</text>
<text x="233.18" y="1330.39" font-size="23.2" letter-spacing="1.37" fill="#065068">****</text>
<text x="305.58" y="1313.39" font-size="23.2" letter-spacing="1.37" fill="#C25E04">**</text>
<text x="300.38" y="1329.59" font-size="23.2" letter-spacing="1.37" fill="#0E9A68">***</text>
<text x="295.18" y="1346.89" font-size="23.2" letter-spacing="1.37" fill="#065068">****</text>
<text x="375.18" y="1446.39" font-size="23.2" fill="#C25E04">*</text>
<text x="696.92" y="1190.00" font-size="53.5" font-weight="bold">F</text>
<rect x="805.70" y="1547.20" width="20.60" height="40.30" fill="#A8A8AC" stroke="none" stroke-width="0"/>
<rect x="835.90" y="1542.81" width="20.60" height="44.69" fill="url(#hG)" stroke="none" stroke-width="0"/>
<rect x="886.60" y="1369.19" width="20.60" height="218.31" fill="#C25E04" stroke="none" stroke-width="0"/>
<rect x="916.70" y="1530.21" width="20.60" height="57.29" fill="url(#hO)" stroke="none" stroke-width="0"/>
<rect x="967.30" y="1372.76" width="20.60" height="214.74" fill="#0E9A68" stroke="none" stroke-width="0"/>
<rect x="997.70" y="1535.48" width="20.60" height="52.02" fill="url(#hGr)" stroke="none" stroke-width="0"/>
<rect x="1048.40" y="1356.90" width="20.60" height="230.60" fill="#065068" stroke="none" stroke-width="0"/>
<rect x="1078.60" y="1534.85" width="20.60" height="52.65" fill="url(#hT)" stroke="none" stroke-width="0"/>
<line x1="816.00" y1="1566.00" x2="816.00" y2="1528.27" stroke="#000" stroke-width="3.0" stroke-linecap="butt"/>
<line x1="811.10" y1="1566.00" x2="820.90" y2="1566.00" stroke="#000" stroke-width="3.0" stroke-linecap="butt"/>
<line x1="811.10" y1="1528.27" x2="820.90" y2="1528.27" stroke="#000" stroke-width="3.0" stroke-linecap="butt"/>
<line x1="846.20" y1="1553.34" x2="846.20" y2="1532.34" stroke="#000" stroke-width="3.0" stroke-linecap="butt"/>
<line x1="841.30" y1="1553.34" x2="851.10" y2="1553.34" stroke="#000" stroke-width="3.0" stroke-linecap="butt"/>
<line x1="841.30" y1="1532.34" x2="851.10" y2="1532.34" stroke="#000" stroke-width="3.0" stroke-linecap="butt"/>
<line x1="896.90" y1="1405.41" x2="896.90" y2="1332.71" stroke="#000" stroke-width="3.0" stroke-linecap="butt"/>
<line x1="892.00" y1="1405.41" x2="901.80" y2="1405.41" stroke="#000" stroke-width="3.0" stroke-linecap="butt"/>
<line x1="892.00" y1="1332.71" x2="901.80" y2="1332.71" stroke="#000" stroke-width="3.0" stroke-linecap="butt"/>
<line x1="927.00" y1="1547.07" x2="927.00" y2="1513.91" stroke="#000" stroke-width="3.0" stroke-linecap="butt"/>
<line x1="922.10" y1="1547.07" x2="931.90" y2="1547.07" stroke="#000" stroke-width="3.0" stroke-linecap="butt"/>
<line x1="922.10" y1="1513.91" x2="931.90" y2="1513.91" stroke="#000" stroke-width="3.0" stroke-linecap="butt"/>
<line x1="977.60" y1="1404.10" x2="977.60" y2="1341.61" stroke="#000" stroke-width="3.0" stroke-linecap="butt"/>
<line x1="972.70" y1="1404.10" x2="982.50" y2="1404.10" stroke="#000" stroke-width="3.0" stroke-linecap="butt"/>
<line x1="972.70" y1="1341.61" x2="982.50" y2="1341.61" stroke="#000" stroke-width="3.0" stroke-linecap="butt"/>
<line x1="1008.00" y1="1550.83" x2="1008.00" y2="1520.37" stroke="#000" stroke-width="3.0" stroke-linecap="butt"/>
<line x1="1003.10" y1="1550.83" x2="1012.90" y2="1550.83" stroke="#000" stroke-width="3.0" stroke-linecap="butt"/>
<line x1="1003.10" y1="1520.37" x2="1012.90" y2="1520.37" stroke="#000" stroke-width="3.0" stroke-linecap="butt"/>
<line x1="1058.70" y1="1392.69" x2="1058.70" y2="1321.17" stroke="#000" stroke-width="3.0" stroke-linecap="butt"/>
<line x1="1053.80" y1="1392.69" x2="1063.60" y2="1392.69" stroke="#000" stroke-width="3.0" stroke-linecap="butt"/>
<line x1="1053.80" y1="1321.17" x2="1063.60" y2="1321.17" stroke="#000" stroke-width="3.0" stroke-linecap="butt"/>
<line x1="1088.90" y1="1548.64" x2="1088.90" y2="1521.81" stroke="#000" stroke-width="3.0" stroke-linecap="butt"/>
<line x1="1084.00" y1="1548.64" x2="1093.80" y2="1548.64" stroke="#000" stroke-width="3.0" stroke-linecap="butt"/>
<line x1="1084.00" y1="1521.81" x2="1093.80" y2="1521.81" stroke="#000" stroke-width="3.0" stroke-linecap="butt"/>
<line x1="796.10" y1="1587.50" x2="796.10" y2="1272.30" stroke="#000" stroke-width="3.6" stroke-linecap="butt"/>
<line x1="782.80" y1="1587.50" x2="797.90" y2="1587.50" stroke="#000" stroke-width="3.6" stroke-linecap="butt"/>
<text x="764.49" y="1596.75" font-size="26.5">0</text>
<line x1="782.80" y1="1524.82" x2="797.90" y2="1524.82" stroke="#000" stroke-width="3.6" stroke-linecap="butt"/>
<text x="720.30" y="1534.07" font-size="26.5">1000</text>
<line x1="782.80" y1="1462.14" x2="797.90" y2="1462.14" stroke="#000" stroke-width="3.6" stroke-linecap="butt"/>
<text x="720.30" y="1471.39" font-size="26.5">2000</text>
<line x1="782.80" y1="1399.46" x2="797.90" y2="1399.46" stroke="#000" stroke-width="3.6" stroke-linecap="butt"/>
<text x="720.30" y="1408.71" font-size="26.5">3000</text>
<line x1="782.80" y1="1336.78" x2="797.90" y2="1336.78" stroke="#000" stroke-width="3.6" stroke-linecap="butt"/>
<text x="720.30" y="1346.03" font-size="26.5">4000</text>
<line x1="782.80" y1="1274.10" x2="797.90" y2="1274.10" stroke="#000" stroke-width="3.6" stroke-linecap="butt"/>
<text x="720.30" y="1283.35" font-size="26.5">5000</text>
<line x1="782.80" y1="1587.50" x2="1111.30" y2="1587.50" stroke="#000" stroke-width="3.6" stroke-linecap="butt"/>
<line x1="816.00" y1="1585.70" x2="816.00" y2="1601.30" stroke="#000" stroke-width="3.6" stroke-linecap="butt"/>
<line x1="846.20" y1="1585.70" x2="846.20" y2="1601.30" stroke="#000" stroke-width="3.6" stroke-linecap="butt"/>
<line x1="896.90" y1="1585.70" x2="896.90" y2="1601.30" stroke="#000" stroke-width="3.6" stroke-linecap="butt"/>
<line x1="927.00" y1="1585.70" x2="927.00" y2="1601.30" stroke="#000" stroke-width="3.6" stroke-linecap="butt"/>
<line x1="977.60" y1="1585.70" x2="977.60" y2="1601.30" stroke="#000" stroke-width="3.6" stroke-linecap="butt"/>
<line x1="1008.00" y1="1585.70" x2="1008.00" y2="1601.30" stroke="#000" stroke-width="3.6" stroke-linecap="butt"/>
<line x1="1058.70" y1="1585.70" x2="1058.70" y2="1601.30" stroke="#000" stroke-width="3.6" stroke-linecap="butt"/>
<line x1="1088.90" y1="1585.70" x2="1088.90" y2="1601.30" stroke="#000" stroke-width="3.6" stroke-linecap="butt"/>
<text transform="translate(823.10 1623.80) rotate(-45)" x="-36.34" y="0" font-size="26.0">+/+</text>
<text transform="translate(853.30 1623.80) rotate(-45)" x="-36.40" y="0" font-size="26.0">−/−</text>
<text transform="translate(904.00 1623.80) rotate(-45)" x="-36.34" y="0" font-size="26.0">+/+</text>
<text transform="translate(934.10 1623.80) rotate(-45)" x="-36.40" y="0" font-size="26.0">−/−</text>
<text transform="translate(984.70 1623.80) rotate(-45)" x="-36.34" y="0" font-size="26.0">+/+</text>
<text transform="translate(1015.10 1623.80) rotate(-45)" x="-36.40" y="0" font-size="26.0">−/−</text>
<text transform="translate(1065.80 1623.80) rotate(-45)" x="-36.34" y="0" font-size="26.0">+/+</text>
<text transform="translate(1096.00 1623.80) rotate(-45)" x="-36.40" y="0" font-size="26.0">−/−</text>
<text transform="translate(704.80 1430.50) rotate(-90)" x="-102.52" y="0" font-size="30.5" font-weight="bold">Hot plate AUC</text>
<text x="916.94" y="1692.90" font-size="30.5" font-weight="bold">MOR</text>
<polyline points="816.00,1189.20 816.00,1170.30 1058.70,1170.30 1058.70,1189.20" fill="none" stroke="#000" stroke-width="1.8" stroke-linejoin="miter" stroke-linecap="butt"/>
<text x="912.95" y="1167.03" font-size="30.5" letter-spacing="-0.07">****</text>
<polyline points="816.00,1221.80 816.00,1204.00 977.60,1204.00 977.60,1221.80" fill="none" stroke="#000" stroke-width="1.8" stroke-linejoin="miter" stroke-linecap="butt"/>
<text x="872.95" y="1200.63" font-size="30.5" letter-spacing="-0.07">****</text>
<polyline points="816.00,1258.10 816.00,1240.20 896.90,1240.20 896.90,1258.10" fill="none" stroke="#000" stroke-width="1.8" stroke-linejoin="miter" stroke-linecap="butt"/>
<text x="832.15" y="1237.13" font-size="30.5" letter-spacing="-0.07">****</text>
<polyline points="896.90,1310.60 896.90,1292.00 927.00,1292.00 927.00,1310.60" fill="none" stroke="#000" stroke-width="1.8" stroke-linejoin="miter" stroke-linecap="butt"/>
<text x="887.85" y="1288.93" font-size="30.5" letter-spacing="-0.07">****</text>
<polyline points="977.60,1310.60 977.60,1292.00 1008.00,1292.00 1008.00,1310.60" fill="none" stroke="#000" stroke-width="1.8" stroke-linejoin="miter" stroke-linecap="butt"/>
<text x="968.25" y="1288.93" font-size="30.5" letter-spacing="-0.07">****</text>
<polyline points="1058.70,1310.60 1058.70,1292.00 1088.90,1292.00 1088.90,1310.60" fill="none" stroke="#000" stroke-width="1.8" stroke-linejoin="miter" stroke-linecap="butt"/>
<text x="1049.45" y="1288.93" font-size="30.5" letter-spacing="-0.07">****</text>
<text x="1171.46" y="1189.80" font-size="53.5" font-weight="bold">G</text>
<rect x="1297.60" y="1584.51" width="20.40" height="2.99" fill="#A8A8AC" stroke="none" stroke-width="0"/>
<rect x="1327.80" y="1586.01" width="20.40" height="1.49" fill="url(#hG)" stroke="none" stroke-width="0"/>
<rect x="1379.00" y="1342.05" width="20.40" height="245.45" fill="#C25E04" stroke="none" stroke-width="0"/>
<rect x="1409.20" y="1574.06" width="20.40" height="13.44" fill="url(#hO)" stroke="none" stroke-width="0"/>
<rect x="1459.90" y="1382.06" width="20.40" height="205.44" fill="#0E9A68" stroke="none" stroke-width="0"/>
<rect x="1490.10" y="1560.63" width="20.40" height="26.87" fill="url(#hGr)" stroke="none" stroke-width="0"/>
<rect x="1540.90" y="1319.66" width="20.40" height="267.84" fill="#0B7D98" stroke="none" stroke-width="0"/>
<rect x="1571.10" y="1578.54" width="20.40" height="8.96" fill="url(#hT2)" stroke="none" stroke-width="0"/>
<line x1="1287.90" y1="1587.50" x2="1604.00" y2="1587.50" stroke="#000" stroke-width="3.6" stroke-linecap="butt"/>
<line x1="1307.80" y1="1588.99" x2="1307.80" y2="1580.04" stroke="#000" stroke-width="3.0" stroke-linecap="butt"/>
<line x1="1302.40" y1="1588.99" x2="1313.20" y2="1588.99" stroke="#000" stroke-width="3.0" stroke-linecap="butt"/>
<line x1="1302.40" y1="1580.04" x2="1313.20" y2="1580.04" stroke="#000" stroke-width="3.0" stroke-linecap="butt"/>
<line x1="1338.00" y1="1591.98" x2="1338.00" y2="1580.04" stroke="#000" stroke-width="3.0" stroke-linecap="butt"/>
<line x1="1332.60" y1="1591.98" x2="1343.40" y2="1591.98" stroke="#000" stroke-width="3.0" stroke-linecap="butt"/>
<line x1="1332.60" y1="1580.04" x2="1343.40" y2="1580.04" stroke="#000" stroke-width="3.0" stroke-linecap="butt"/>
<line x1="1389.20" y1="1353.10" x2="1389.20" y2="1331.90" stroke="#000" stroke-width="3.0" stroke-linecap="butt"/>
<line x1="1383.80" y1="1353.10" x2="1394.60" y2="1353.10" stroke="#000" stroke-width="3.0" stroke-linecap="butt"/>
<line x1="1383.80" y1="1331.90" x2="1394.60" y2="1331.90" stroke="#000" stroke-width="3.0" stroke-linecap="butt"/>
<line x1="1419.40" y1="1588.99" x2="1419.40" y2="1558.54" stroke="#000" stroke-width="3.0" stroke-linecap="butt"/>
<line x1="1414.00" y1="1588.99" x2="1424.80" y2="1588.99" stroke="#000" stroke-width="3.0" stroke-linecap="butt"/>
<line x1="1414.00" y1="1558.54" x2="1424.80" y2="1558.54" stroke="#000" stroke-width="3.0" stroke-linecap="butt"/>
<line x1="1470.10" y1="1403.86" x2="1470.10" y2="1361.76" stroke="#000" stroke-width="3.0" stroke-linecap="butt"/>
<line x1="1464.70" y1="1403.86" x2="1475.50" y2="1403.86" stroke="#000" stroke-width="3.0" stroke-linecap="butt"/>
<line x1="1464.70" y1="1361.76" x2="1475.50" y2="1361.76" stroke="#000" stroke-width="3.0" stroke-linecap="butt"/>
<line x1="1500.30" y1="1564.51" x2="1500.30" y2="1556.45" stroke="#000" stroke-width="3.0" stroke-linecap="butt"/>
<line x1="1494.90" y1="1564.51" x2="1505.70" y2="1564.51" stroke="#000" stroke-width="3.0" stroke-linecap="butt"/>
<line x1="1494.90" y1="1556.45" x2="1505.70" y2="1556.45" stroke="#000" stroke-width="3.0" stroke-linecap="butt"/>
<line x1="1551.10" y1="1335.78" x2="1551.10" y2="1303.83" stroke="#000" stroke-width="3.0" stroke-linecap="butt"/>
<line x1="1545.70" y1="1335.78" x2="1556.50" y2="1335.78" stroke="#000" stroke-width="3.0" stroke-linecap="butt"/>
<line x1="1545.70" y1="1303.83" x2="1556.50" y2="1303.83" stroke="#000" stroke-width="3.0" stroke-linecap="butt"/>
<line x1="1581.30" y1="1590.49" x2="1581.30" y2="1566.60" stroke="#000" stroke-width="3.0" stroke-linecap="butt"/>
<line x1="1575.90" y1="1590.49" x2="1586.70" y2="1590.49" stroke="#000" stroke-width="3.0" stroke-linecap="butt"/>
<line x1="1575.90" y1="1566.60" x2="1586.70" y2="1566.60" stroke="#000" stroke-width="3.0" stroke-linecap="butt"/>
<circle cx="1307.80" cy="1573.32" r="3.50" fill="#000" stroke="none" stroke-width="0"/>
<circle cx="1301.10" cy="1582.13" r="3.50" fill="#000" stroke="none" stroke-width="0"/>
<circle cx="1306.80" cy="1583.92" r="3.50" fill="#000" stroke="none" stroke-width="0"/>
<circle cx="1315.60" cy="1586.90" r="3.50" fill="#000" stroke="none" stroke-width="0"/>
<circle cx="1301.50" cy="1589.59" r="3.50" fill="#000" stroke="none" stroke-width="0"/>
<circle cx="1310.30" cy="1589.29" r="3.50" fill="#000" stroke="none" stroke-width="0"/>
<circle cx="1335.70" cy="1571.23" r="3.50" fill="#000" stroke="none" stroke-width="0"/>
<circle cx="1340.50" cy="1571.23" r="3.50" fill="#000" stroke="none" stroke-width="0"/>
<circle cx="1331.50" cy="1597.95" r="3.50" fill="#000" stroke="none" stroke-width="0"/>
<circle cx="1345.20" cy="1594.37" r="3.50" fill="#000" stroke="none" stroke-width="0"/>
<circle cx="1338.00" cy="1591.08" r="3.50" fill="#000" stroke="none" stroke-width="0"/>
<circle cx="1341.00" cy="1593.17" r="3.50" fill="#000" stroke="none" stroke-width="0"/>
<circle cx="1389.20" cy="1304.73" r="3.50" fill="#000" stroke="none" stroke-width="0"/>
<circle cx="1382.70" cy="1340.56" r="3.50" fill="#000" stroke="none" stroke-width="0"/>
<circle cx="1396.00" cy="1345.34" r="3.50" fill="#000" stroke="none" stroke-width="0"/>
<circle cx="1389.20" cy="1338.17" r="3.50" fill="#000" stroke="none" stroke-width="0"/>
<circle cx="1389.20" cy="1351.61" r="3.50" fill="#000" stroke="none" stroke-width="0"/>
<circle cx="1389.20" cy="1376.69" r="3.50" fill="#000" stroke="none" stroke-width="0"/>
<circle cx="1419.40" cy="1500.91" r="3.50" fill="#000" stroke="none" stroke-width="0"/>
<circle cx="1419.40" cy="1572.27" r="3.50" fill="#000" stroke="none" stroke-width="0"/>
<circle cx="1412.50" cy="1597.35" r="3.50" fill="#000" stroke="none" stroke-width="0"/>
<circle cx="1426.10" cy="1593.77" r="3.50" fill="#000" stroke="none" stroke-width="0"/>
<circle cx="1417.70" cy="1590.19" r="3.50" fill="#000" stroke="none" stroke-width="0"/>
<circle cx="1420.90" cy="1594.37" r="3.50" fill="#000" stroke="none" stroke-width="0"/>
<circle cx="1470.10" cy="1335.18" r="3.50" fill="#000" stroke="none" stroke-width="0"/>
<circle cx="1470.10" cy="1353.99" r="3.50" fill="#000" stroke="none" stroke-width="0"/>
<circle cx="1463.10" cy="1359.37" r="3.50" fill="#000" stroke="none" stroke-width="0"/>
<circle cx="1477.10" cy="1359.37" r="3.50" fill="#000" stroke="none" stroke-width="0"/>
<circle cx="1470.10" cy="1408.04" r="3.50" fill="#000" stroke="none" stroke-width="0"/>
<circle cx="1470.10" cy="1477.02" r="3.50" fill="#000" stroke="none" stroke-width="0"/>
<circle cx="1500.30" cy="1548.68" r="3.50" fill="#000" stroke="none" stroke-width="0"/>
<circle cx="1507.60" cy="1554.95" r="3.50" fill="#000" stroke="none" stroke-width="0"/>
<circle cx="1493.30" cy="1559.13" r="3.50" fill="#000" stroke="none" stroke-width="0"/>
<circle cx="1507.60" cy="1562.12" r="3.50" fill="#000" stroke="none" stroke-width="0"/>
<circle cx="1500.30" cy="1563.61" r="3.50" fill="#000" stroke="none" stroke-width="0"/>
<circle cx="1500.30" cy="1571.67" r="3.50" fill="#000" stroke="none" stroke-width="0"/>
<circle cx="1544.30" cy="1289.50" r="3.50" fill="#000" stroke="none" stroke-width="0"/>
<circle cx="1551.10" cy="1289.50" r="3.50" fill="#000" stroke="none" stroke-width="0"/>
<circle cx="1557.90" cy="1289.50" r="3.50" fill="#000" stroke="none" stroke-width="0"/>
<circle cx="1551.10" cy="1320.85" r="3.50" fill="#000" stroke="none" stroke-width="0"/>
<circle cx="1551.10" cy="1350.41" r="3.50" fill="#000" stroke="none" stroke-width="0"/>
<circle cx="1551.10" cy="1379.97" r="3.50" fill="#000" stroke="none" stroke-width="0"/>
<circle cx="1581.30" cy="1522.70" r="3.50" fill="#000" stroke="none" stroke-width="0"/>
<circle cx="1581.30" cy="1571.67" r="3.50" fill="#000" stroke="none" stroke-width="0"/>
<circle cx="1574.40" cy="1599.15" r="3.50" fill="#000" stroke="none" stroke-width="0"/>
<circle cx="1588.40" cy="1595.86" r="3.50" fill="#000" stroke="none" stroke-width="0"/>
<circle cx="1579.60" cy="1590.19" r="3.50" fill="#000" stroke="none" stroke-width="0"/>
<circle cx="1582.80" cy="1597.65" r="3.50" fill="#000" stroke="none" stroke-width="0"/>
<line x1="1287.90" y1="1604.50" x2="1287.90" y2="1287.10" stroke="#000" stroke-width="3.6" stroke-linecap="butt"/>
<line x1="1275.40" y1="1587.50" x2="1289.70" y2="1587.50" stroke="#000" stroke-width="3.6" stroke-linecap="butt"/>
<text x="1256.69" y="1596.75" font-size="26.5">0</text>
<line x1="1275.40" y1="1512.85" x2="1289.70" y2="1512.85" stroke="#000" stroke-width="3.6" stroke-linecap="butt"/>
<text x="1242.05" y="1522.10" font-size="26.5">25</text>
<line x1="1275.40" y1="1438.20" x2="1289.70" y2="1438.20" stroke="#000" stroke-width="3.6" stroke-linecap="butt"/>
<text x="1241.98" y="1447.45" font-size="26.5">50</text>
<line x1="1275.40" y1="1363.55" x2="1289.70" y2="1363.55" stroke="#000" stroke-width="3.6" stroke-linecap="butt"/>
<text x="1242.05" y="1372.80" font-size="26.5">75</text>
<line x1="1275.40" y1="1288.90" x2="1289.70" y2="1288.90" stroke="#000" stroke-width="3.6" stroke-linecap="butt"/>
<text x="1227.21" y="1298.15" font-size="26.5">100</text>
<line x1="1275.40" y1="1587.50" x2="1604.00" y2="1587.50" stroke="#000" stroke-width="3.6" stroke-linecap="butt"/>
<line x1="1307.80" y1="1585.70" x2="1307.80" y2="1601.30" stroke="#000" stroke-width="3.6" stroke-linecap="butt"/>
<line x1="1338.00" y1="1585.70" x2="1338.00" y2="1601.30" stroke="#000" stroke-width="3.6" stroke-linecap="butt"/>
<line x1="1389.20" y1="1585.70" x2="1389.20" y2="1601.30" stroke="#000" stroke-width="3.6" stroke-linecap="butt"/>
<line x1="1419.40" y1="1585.70" x2="1419.40" y2="1601.30" stroke="#000" stroke-width="3.6" stroke-linecap="butt"/>
<line x1="1470.10" y1="1585.70" x2="1470.10" y2="1601.30" stroke="#000" stroke-width="3.6" stroke-linecap="butt"/>
<line x1="1500.30" y1="1585.70" x2="1500.30" y2="1601.30" stroke="#000" stroke-width="3.6" stroke-linecap="butt"/>
<line x1="1551.10" y1="1585.70" x2="1551.10" y2="1601.30" stroke="#000" stroke-width="3.6" stroke-linecap="butt"/>
<line x1="1581.30" y1="1585.70" x2="1581.30" y2="1601.30" stroke="#000" stroke-width="3.6" stroke-linecap="butt"/>
<text transform="translate(1316.20 1624.50) rotate(-45)" x="-36.34" y="0" font-size="26.0">+/+</text>
<text transform="translate(1346.40 1624.50) rotate(-45)" x="-36.40" y="0" font-size="26.0">−/−</text>
<text transform="translate(1397.60 1624.50) rotate(-45)" x="-36.34" y="0" font-size="26.0">+/+</text>
<text transform="translate(1427.80 1624.50) rotate(-45)" x="-36.40" y="0" font-size="26.0">−/−</text>
<text transform="translate(1478.50 1624.50) rotate(-45)" x="-36.34" y="0" font-size="26.0">+/+</text>
<text transform="translate(1508.70 1624.50) rotate(-45)" x="-36.40" y="0" font-size="26.0">−/−</text>
<text transform="translate(1559.50 1624.50) rotate(-45)" x="-36.34" y="0" font-size="26.0">+/+</text>
<text transform="translate(1589.70 1624.50) rotate(-45)" x="-36.40" y="0" font-size="26.0">−/−</text>
<text transform="translate(1211.70 1444.50) rotate(-90)" x="-225.39" y="0" font-size="30.5" font-weight="bold">Tail withdrawal latency (%MPE)</text>
<text x="1409.34" y="1689.00" font-size="30.5" font-weight="bold">MOR</text>
<polyline points="1307.80,1151.40 1307.80,1133.70 1551.10,1133.70 1551.10,1151.40" fill="none" stroke="#000" stroke-width="1.8" stroke-linejoin="miter" stroke-linecap="butt"/>
<text x="1405.70" y="1129.97" font-size="30.0" letter-spacing="0.02">****</text>
<polyline points="1307.80,1188.10 1307.80,1169.00 1470.10,1169.00 1470.10,1188.10" fill="none" stroke="#000" stroke-width="1.8" stroke-linejoin="miter" stroke-linecap="butt"/>
<text x="1365.40" y="1166.17" font-size="30.0" letter-spacing="0.02">****</text>
<polyline points="1307.80,1222.10 1307.80,1204.40 1389.20,1204.40 1389.20,1222.10" fill="none" stroke="#000" stroke-width="1.8" stroke-linejoin="miter" stroke-linecap="butt"/>
<text x="1324.80" y="1200.97" font-size="30.0" letter-spacing="0.02">****</text>
<polyline points="1389.20,1273.30 1389.20,1255.00 1419.40,1255.00 1419.40,1273.30" fill="none" stroke="#000" stroke-width="1.8" stroke-linejoin="miter" stroke-linecap="butt"/>
<text x="1380.10" y="1251.88" font-size="30.0" letter-spacing="0.02">****</text>
<polyline points="1470.10,1273.30 1470.10,1255.00 1500.30,1255.00 1500.30,1273.30" fill="none" stroke="#000" stroke-width="1.8" stroke-linejoin="miter" stroke-linecap="butt"/>
<text x="1461.40" y="1251.88" font-size="30.0" letter-spacing="0.02">****</text>
<polyline points="1551.10,1273.30 1551.10,1255.00 1581.30,1255.00 1581.30,1273.30" fill="none" stroke="#000" stroke-width="1.8" stroke-linejoin="miter" stroke-linecap="butt"/>
<text x="1542.30" y="1251.88" font-size="30.0" letter-spacing="0.02">****</text>
<line x1="1637.50" y1="1192.40" x2="1689.80" y2="1192.40" stroke="#A8A8AC" stroke-width="5.2" stroke-linecap="butt"/>
<circle cx="1663.65" cy="1192.40" r="9.83" fill="#A8A8AC" stroke="none" stroke-width="0"/>
<text x="1718.92" y="1203.20" font-size="30.5" textLength="176.34" lengthAdjust="spacingAndGlyphs">Vehicle (+/+)</text>
<line x1="1637.50" y1="1247.80" x2="1689.80" y2="1247.80" stroke="#A8A8AC" stroke-width="5.2" stroke-linecap="butt"/>
<circle cx="1663.65" cy="1247.80" r="7.18" fill="#fff" stroke="#A8A8AC" stroke-width="5.3"/>
<text x="1718.92" y="1258.60" font-size="30.5" textLength="173.51" lengthAdjust="spacingAndGlyphs">Vehicle (−/−)</text>
<line x1="1637.50" y1="1303.20" x2="1689.80" y2="1303.20" stroke="#C25E04" stroke-width="5.2" stroke-linecap="butt"/>
<rect x="1653.30" y="1292.85" width="20.70" height="20.70" fill="#C25E04" stroke="none" stroke-width="0"/>
<text x="1718.20" y="1314.00" font-size="30.5" textLength="269.68" lengthAdjust="spacingAndGlyphs">Morphine (10) (+/+)</text>
<line x1="1637.50" y1="1358.60" x2="1689.80" y2="1358.60" stroke="#C25E04" stroke-width="5.2" stroke-linecap="butt"/>
<rect x="1655.95" y="1350.90" width="15.40" height="15.40" fill="#fff" stroke="#C25E04" stroke-width="5.3"/>
<text x="1718.22" y="1369.40" font-size="30.5" textLength="266.94" lengthAdjust="spacingAndGlyphs">Morphine (10) (−/−)</text>
<line x1="1637.50" y1="1414.00" x2="1689.80" y2="1414.00" stroke="#0E9A68" stroke-width="5.2" stroke-linecap="butt"/>
<polygon points="1652.99,1403.44 1674.31,1403.44 1663.65,1424.56" fill="#0E9A68" stroke="none" stroke-width="0" stroke-linejoin="miter" stroke-linecap="butt"/>
<text x="1717.79" y="1424.80" font-size="30.5" textLength="280.91" lengthAdjust="spacingAndGlyphs">Kurkinorin (10) (+/+)</text>
<line x1="1637.50" y1="1469.40" x2="1689.80" y2="1469.40" stroke="#0E9A68" stroke-width="5.2" stroke-linecap="butt"/>
<polygon points="1656.25,1462.63 1671.05,1462.63 1663.65,1477.33" fill="#fff" stroke="#0E9A68" stroke-width="5.3" stroke-linejoin="bevel" stroke-linecap="butt"/>
<text x="1717.82" y="1480.20" font-size="30.5" textLength="277.86" lengthAdjust="spacingAndGlyphs">Kurkinorin (10) (−/−)</text>
<line x1="1637.50" y1="1524.80" x2="1689.80" y2="1524.80" stroke="#065068" stroke-width="5.2" stroke-linecap="butt"/>
<polygon points="1652.99,1535.36 1674.31,1535.36 1663.65,1514.24" fill="#065068" stroke="none" stroke-width="0" stroke-linejoin="miter" stroke-linecap="butt"/>
<text x="1717.77" y="1535.60" font-size="30.5" textLength="237.13" lengthAdjust="spacingAndGlyphs">Kurkinol (5) (+/+)</text>
<line x1="1637.50" y1="1580.20" x2="1689.80" y2="1580.20" stroke="#065068" stroke-width="5.2" stroke-linecap="butt"/>
<polygon points="1656.25,1586.97 1671.05,1586.97 1663.65,1572.27" fill="#fff" stroke="#065068" stroke-width="5.3" stroke-linejoin="bevel" stroke-linecap="butt"/>
<text x="1717.80" y="1591.00" font-size="30.5" textLength="234.07" lengthAdjust="spacingAndGlyphs">Kurkinol (5) (−/−)</text>
<text x="19.50" y="1800.20" font-size="53.5" font-weight="bold" textLength="40.03" lengthAdjust="spacingAndGlyphs">H</text>
<text x="377.52" y="1784.80" font-size="27.5" font-weight="bold" textLength="82.20" lengthAdjust="spacingAndGlyphs">βArr2</text>
<line x1="182.90" y1="1809.70" x2="216.30" y2="1809.70" stroke="#FF8000" stroke-width="3.6" stroke-linecap="butt"/>
<rect x="191.25" y="1801.35" width="16.70" height="16.70" fill="#FF8000" stroke="none" stroke-width="0"/>
<text x="234.81" y="1820.30" font-size="30.4" textLength="155.85" lengthAdjust="spacingAndGlyphs">Day 1 (+/+)</text>
<line x1="402.70" y1="1809.70" x2="410.20" y2="1809.70" stroke="#FF8000" stroke-width="3.6" stroke-linecap="butt"/>
<line x1="433.20" y1="1809.70" x2="436.70" y2="1809.70" stroke="#FF8000" stroke-width="3.6" stroke-linecap="butt"/>
<rect x="411.35" y="1801.35" width="16.70" height="16.70" fill="#FF8000" stroke="none" stroke-width="0"/>
<text x="454.61" y="1820.30" font-size="30.4" textLength="155.85" lengthAdjust="spacingAndGlyphs">Day 9 (+/+)</text>
<line x1="182.90" y1="1852.40" x2="216.30" y2="1852.40" stroke="#FF8000" stroke-width="3.6" stroke-linecap="butt"/>
<rect x="193.15" y="1845.95" width="12.90" height="12.90" fill="#fff" stroke="#FF8000" stroke-width="3.8"/>
<text x="234.81" y="1863.00" font-size="30.4" textLength="155.85" lengthAdjust="spacingAndGlyphs">Day 1 (−/−)</text>
<line x1="402.70" y1="1852.40" x2="410.20" y2="1852.40" stroke="#FF8000" stroke-width="3.6" stroke-linecap="butt"/>
<line x1="433.20" y1="1852.40" x2="436.70" y2="1852.40" stroke="#FF8000" stroke-width="3.6" stroke-linecap="butt"/>
<rect x="413.25" y="1845.95" width="12.90" height="12.90" fill="#fff" stroke="#FF8000" stroke-width="3.8"/>
<text x="454.61" y="1863.00" font-size="30.4" textLength="155.85" lengthAdjust="spacingAndGlyphs">Day 9 (−/−)</text>
<line x1="128.30" y1="2271.00" x2="128.30" y2="1893.20" stroke="#000" stroke-width="3.6" stroke-linecap="butt"/>
<line x1="119.00" y1="2271.00" x2="130.10" y2="2271.00" stroke="#000" stroke-width="3.6" stroke-linecap="butt"/>
<text x="100.29" y="2280.25" font-size="26.5">0</text>
<line x1="119.00" y1="2177.00" x2="130.10" y2="2177.00" stroke="#000" stroke-width="3.6" stroke-linecap="butt"/>
<text x="85.65" y="2186.25" font-size="26.5">25</text>
<line x1="119.00" y1="2083.00" x2="130.10" y2="2083.00" stroke="#000" stroke-width="3.6" stroke-linecap="butt"/>
<text x="85.58" y="2092.25" font-size="26.5">50</text>
<line x1="119.00" y1="1989.00" x2="130.10" y2="1989.00" stroke="#000" stroke-width="3.6" stroke-linecap="butt"/>
<text x="85.65" y="1998.25" font-size="26.5">75</text>
<line x1="119.00" y1="1895.00" x2="130.10" y2="1895.00" stroke="#000" stroke-width="3.6" stroke-linecap="butt"/>
<text x="70.81" y="1904.25" font-size="26.5">100</text>
<line x1="119.00" y1="2271.00" x2="473.00" y2="2271.00" stroke="#000" stroke-width="3.6" stroke-linecap="butt"/>
<line x1="196.80" y1="2271.00" x2="196.80" y2="2281.50" stroke="#000" stroke-width="3.6" stroke-linecap="butt"/>
<text x="189.08" y="2310.60" font-size="26.5">1</text>
<line x1="368.00" y1="2271.00" x2="368.00" y2="2281.50" stroke="#000" stroke-width="3.6" stroke-linecap="butt"/>
<text x="352.80" y="2310.60" font-size="26.5">10</text>
<line x1="145.26" y1="2271.00" x2="145.26" y2="2277.30" stroke="#000" stroke-width="3.6" stroke-linecap="butt"/>
<line x1="158.82" y1="2271.00" x2="158.82" y2="2277.30" stroke="#000" stroke-width="3.6" stroke-linecap="butt"/>
<line x1="170.28" y1="2271.00" x2="170.28" y2="2277.30" stroke="#000" stroke-width="3.6" stroke-linecap="butt"/>
<line x1="180.21" y1="2271.00" x2="180.21" y2="2277.30" stroke="#000" stroke-width="3.6" stroke-linecap="butt"/>
<line x1="188.97" y1="2271.00" x2="188.97" y2="2277.30" stroke="#000" stroke-width="3.6" stroke-linecap="butt"/>
<line x1="248.34" y1="2271.00" x2="248.34" y2="2277.30" stroke="#000" stroke-width="3.6" stroke-linecap="butt"/>
<line x1="278.48" y1="2271.00" x2="278.48" y2="2277.30" stroke="#000" stroke-width="3.6" stroke-linecap="butt"/>
<line x1="299.87" y1="2271.00" x2="299.87" y2="2277.30" stroke="#000" stroke-width="3.6" stroke-linecap="butt"/>
<line x1="316.46" y1="2271.00" x2="316.46" y2="2277.30" stroke="#000" stroke-width="3.6" stroke-linecap="butt"/>
<line x1="330.02" y1="2271.00" x2="330.02" y2="2277.30" stroke="#000" stroke-width="3.6" stroke-linecap="butt"/>
<line x1="341.48" y1="2271.00" x2="341.48" y2="2277.30" stroke="#000" stroke-width="3.6" stroke-linecap="butt"/>
<line x1="351.41" y1="2271.00" x2="351.41" y2="2277.30" stroke="#000" stroke-width="3.6" stroke-linecap="butt"/>
<line x1="360.17" y1="2271.00" x2="360.17" y2="2277.30" stroke="#000" stroke-width="3.6" stroke-linecap="butt"/>
<line x1="419.54" y1="2271.00" x2="419.54" y2="2277.30" stroke="#000" stroke-width="3.6" stroke-linecap="butt"/>
<line x1="449.68" y1="2271.00" x2="449.68" y2="2277.30" stroke="#000" stroke-width="3.6" stroke-linecap="butt"/>
<line x1="471.07" y1="2271.00" x2="471.07" y2="2277.30" stroke="#000" stroke-width="3.6" stroke-linecap="butt"/>
<text transform="translate(55.00 2081.10) rotate(-90)" x="-225.39" y="0" font-size="30.5" font-weight="bold">Tail withdrawal latency (%MPE)</text>
<text x="170.60" y="2353.30" font-size="30.5" font-weight="bold" textLength="258.60" lengthAdjust="spacingAndGlyphs">Morphine (mg/kg)</text>
<line x1="196.80" y1="2257.84" x2="196.80" y2="2244.68" stroke="#FF8000" stroke-width="1.8" stroke-linecap="butt"/>
<line x1="190.30" y1="2257.84" x2="203.30" y2="2257.84" stroke="#FF8000" stroke-width="1.8" stroke-linecap="butt"/>
<line x1="190.30" y1="2244.68" x2="203.30" y2="2244.68" stroke="#FF8000" stroke-width="1.8" stroke-linecap="butt"/>
<line x1="316.46" y1="2254.08" x2="316.46" y2="2233.02" stroke="#FF8000" stroke-width="1.8" stroke-linecap="butt"/>
<line x1="309.96" y1="2254.08" x2="322.96" y2="2254.08" stroke="#FF8000" stroke-width="1.8" stroke-linecap="butt"/>
<line x1="309.96" y1="2233.02" x2="322.96" y2="2233.02" stroke="#FF8000" stroke-width="1.8" stroke-linecap="butt"/>
<line x1="368.00" y1="2179.26" x2="368.00" y2="2122.48" stroke="#FF8000" stroke-width="1.8" stroke-linecap="butt"/>
<line x1="361.50" y1="2179.26" x2="374.50" y2="2179.26" stroke="#FF8000" stroke-width="1.8" stroke-linecap="butt"/>
<line x1="361.50" y1="2122.48" x2="374.50" y2="2122.48" stroke="#FF8000" stroke-width="1.8" stroke-linecap="butt"/>
<line x1="398.15" y1="2086.76" x2="398.15" y2="2052.54" stroke="#FF8000" stroke-width="1.8" stroke-linecap="butt"/>
<line x1="391.65" y1="2086.76" x2="404.65" y2="2086.76" stroke="#FF8000" stroke-width="1.8" stroke-linecap="butt"/>
<line x1="391.65" y1="2052.54" x2="404.65" y2="2052.54" stroke="#FF8000" stroke-width="1.8" stroke-linecap="butt"/>
<line x1="419.54" y1="1998.40" x2="419.54" y2="1964.56" stroke="#FF8000" stroke-width="1.8" stroke-linecap="butt"/>
<line x1="413.04" y1="1998.40" x2="426.04" y2="1998.40" stroke="#FF8000" stroke-width="1.8" stroke-linecap="butt"/>
<line x1="413.04" y1="1964.56" x2="426.04" y2="1964.56" stroke="#FF8000" stroke-width="1.8" stroke-linecap="butt"/>
<line x1="316.46" y1="2174.37" x2="316.46" y2="2126.24" stroke="#FF8000" stroke-width="1.8" stroke-linecap="butt"/>
<line x1="309.96" y1="2174.37" x2="322.96" y2="2174.37" stroke="#FF8000" stroke-width="1.8" stroke-linecap="butt"/>
<line x1="309.96" y1="2126.24" x2="322.96" y2="2126.24" stroke="#FF8000" stroke-width="1.8" stroke-linecap="butt"/>
<line x1="368.00" y1="2066.08" x2="368.00" y2="2011.56" stroke="#FF8000" stroke-width="1.8" stroke-linecap="butt"/>
<line x1="361.50" y1="2066.08" x2="374.50" y2="2066.08" stroke="#FF8000" stroke-width="1.8" stroke-linecap="butt"/>
<line x1="361.50" y1="2011.56" x2="374.50" y2="2011.56" stroke="#FF8000" stroke-width="1.8" stroke-linecap="butt"/>
<line x1="398.15" y1="2034.12" x2="398.15" y2="1945.76" stroke="#FF8000" stroke-width="1.8" stroke-linecap="butt"/>
<line x1="391.65" y1="2034.12" x2="404.65" y2="2034.12" stroke="#FF8000" stroke-width="1.8" stroke-linecap="butt"/>
<line x1="391.65" y1="1945.76" x2="404.65" y2="1945.76" stroke="#FF8000" stroke-width="1.8" stroke-linecap="butt"/>
<line x1="316.46" y1="2182.64" x2="316.46" y2="2165.72" stroke="#FF8000" stroke-width="1.8" stroke-linecap="butt"/>
<line x1="309.96" y1="2182.64" x2="322.96" y2="2182.64" stroke="#FF8000" stroke-width="1.8" stroke-linecap="butt"/>
<line x1="309.96" y1="2165.72" x2="322.96" y2="2165.72" stroke="#FF8000" stroke-width="1.8" stroke-linecap="butt"/>
<line x1="368.00" y1="2087.51" x2="368.00" y2="2049.54" stroke="#FF8000" stroke-width="1.8" stroke-linecap="butt"/>
<line x1="361.50" y1="2087.51" x2="374.50" y2="2087.51" stroke="#FF8000" stroke-width="1.8" stroke-linecap="butt"/>
<line x1="361.50" y1="2049.54" x2="374.50" y2="2049.54" stroke="#FF8000" stroke-width="1.8" stroke-linecap="butt"/>
<line x1="398.15" y1="2000.28" x2="398.15" y2="1947.64" stroke="#FF8000" stroke-width="1.8" stroke-linecap="butt"/>
<line x1="391.65" y1="2000.28" x2="404.65" y2="2000.28" stroke="#FF8000" stroke-width="1.8" stroke-linecap="butt"/>
<line x1="391.65" y1="1947.64" x2="404.65" y2="1947.64" stroke="#FF8000" stroke-width="1.8" stroke-linecap="butt"/>
<line x1="419.54" y1="1925.08" x2="419.54" y2="1900.64" stroke="#FF8000" stroke-width="1.8" stroke-linecap="butt"/>
<line x1="413.04" y1="1925.08" x2="426.04" y2="1925.08" stroke="#FF8000" stroke-width="1.8" stroke-linecap="butt"/>
<line x1="413.04" y1="1900.64" x2="426.04" y2="1900.64" stroke="#FF8000" stroke-width="1.8" stroke-linecap="butt"/>
<line x1="449.68" y1="1923.20" x2="449.68" y2="1898.76" stroke="#FF8000" stroke-width="1.8" stroke-linecap="butt"/>
<line x1="443.18" y1="1923.20" x2="456.18" y2="1923.20" stroke="#FF8000" stroke-width="1.8" stroke-linecap="butt"/>
<line x1="443.18" y1="1898.76" x2="456.18" y2="1898.76" stroke="#FF8000" stroke-width="1.8" stroke-linecap="butt"/>
<line x1="196.80" y1="2231.14" x2="196.80" y2="2209.34" stroke="#FF8000" stroke-width="1.8" stroke-linecap="butt"/>
<line x1="190.30" y1="2231.14" x2="203.30" y2="2231.14" stroke="#FF8000" stroke-width="1.8" stroke-linecap="butt"/>
<line x1="190.30" y1="2209.34" x2="203.30" y2="2209.34" stroke="#FF8000" stroke-width="1.8" stroke-linecap="butt"/>
<line x1="316.46" y1="2110.07" x2="316.46" y2="2048.03" stroke="#FF8000" stroke-width="1.8" stroke-linecap="butt"/>
<line x1="309.96" y1="2110.07" x2="322.96" y2="2110.07" stroke="#FF8000" stroke-width="1.8" stroke-linecap="butt"/>
<line x1="309.96" y1="2048.03" x2="322.96" y2="2048.03" stroke="#FF8000" stroke-width="1.8" stroke-linecap="butt"/>
<line x1="368.00" y1="1996.52" x2="368.00" y2="1936.36" stroke="#FF8000" stroke-width="1.8" stroke-linecap="butt"/>
<line x1="361.50" y1="1996.52" x2="374.50" y2="1996.52" stroke="#FF8000" stroke-width="1.8" stroke-linecap="butt"/>
<line x1="361.50" y1="1936.36" x2="374.50" y2="1936.36" stroke="#FF8000" stroke-width="1.8" stroke-linecap="butt"/>
<line x1="398.15" y1="1947.64" x2="398.15" y2="1910.04" stroke="#FF8000" stroke-width="1.8" stroke-linecap="butt"/>
<line x1="391.65" y1="1947.64" x2="404.65" y2="1947.64" stroke="#FF8000" stroke-width="1.8" stroke-linecap="butt"/>
<line x1="391.65" y1="1910.04" x2="404.65" y2="1910.04" stroke="#FF8000" stroke-width="1.8" stroke-linecap="butt"/>
<line x1="419.54" y1="1919.44" x2="419.54" y2="1900.64" stroke="#FF8000" stroke-width="1.8" stroke-linecap="butt"/>
<line x1="413.04" y1="1919.44" x2="426.04" y2="1919.44" stroke="#FF8000" stroke-width="1.8" stroke-linecap="butt"/>
<line x1="413.04" y1="1900.64" x2="426.04" y2="1900.64" stroke="#FF8000" stroke-width="1.8" stroke-linecap="butt"/>
<polyline points="196.80,2241.49 199.27,2239.97 201.75,2238.37 204.22,2236.69 206.70,2234.94 209.17,2233.11 211.65,2231.20 214.12,2229.20 216.60,2227.12 219.07,2224.94 221.55,2222.68 224.02,2220.31 226.50,2217.86 228.97,2215.30 231.45,2212.64 233.92,2209.89 236.40,2207.02 238.87,2204.05 241.35,2200.98 243.82,2197.79 246.30,2194.50 248.77,2191.10 251.25,2187.59 253.72,2183.97 256.20,2180.24 258.67,2176.41 261.15,2172.47 263.62,2168.42 266.10,2164.28 268.57,2160.03 271.05,2155.68 273.52,2151.25 276.00,2146.72 278.47,2142.11 280.94,2137.42 283.42,2132.65 285.89,2127.82 288.37,2122.92 290.84,2117.96 293.32,2112.95 295.79,2107.90 298.27,2102.81 300.74,2097.69 303.22,2092.55 305.69,2087.39 308.17,2082.23 310.64,2077.07 313.12,2071.92 315.59,2066.78 318.07,2061.67 320.54,2056.59 323.02,2051.55 325.49,2046.56 327.97,2041.62 330.44,2036.74 332.92,2031.92 335.39,2027.17 337.87,2022.51 340.34,2017.92 342.82,2013.42 345.29,2009.01 347.77,2004.70 350.24,2000.48 352.72,1996.36 355.19,1992.35 357.67,1988.44 360.14,1984.63 362.61,1980.94 365.09,1977.35 367.56,1973.87 370.04,1970.51 372.51,1967.25 374.99,1964.09 377.46,1961.05 379.94,1958.11 382.41,1955.28 384.89,1952.55 387.36,1949.93 389.84,1947.40 392.31,1944.97 394.79,1942.64 397.26,1940.40 399.74,1938.25 402.21,1936.20 404.69,1934.22 407.16,1932.34 409.64,1930.53 412.11,1928.80 414.59,1927.15 417.06,1925.57 419.54,1924.06" fill="none" stroke="#FF8000" stroke-width="3.4" stroke-linejoin="round" stroke-linecap="butt"/>
<polyline points="196.80,2263.07 199.27,2262.57 201.75,2262.04 204.22,2261.47 206.70,2260.87 209.17,2260.24 211.65,2259.57 214.12,2258.85 216.60,2258.09 219.07,2257.29 221.55,2256.44 224.02,2255.54 226.50,2254.58 228.97,2253.57 231.45,2252.50 233.92,2251.37 236.40,2250.17 238.87,2248.90 241.35,2247.57 243.82,2246.15 246.30,2244.66 248.77,2243.09 251.25,2241.43 253.72,2239.68 256.20,2237.83 258.67,2235.89 261.15,2233.85 263.62,2231.70 266.10,2229.44 268.57,2227.07 271.05,2224.58 273.52,2221.98 276.00,2219.25 278.47,2216.39 280.94,2213.40 283.42,2210.28 285.89,2207.03 288.37,2203.64 290.84,2200.11 293.32,2196.44 295.79,2192.63 298.27,2188.68 300.74,2184.58 303.22,2180.35 305.69,2175.97 308.17,2171.46 310.64,2166.81 313.12,2162.03 315.59,2157.13 318.07,2152.10 320.54,2146.96 323.02,2141.70 325.49,2136.34 327.97,2130.89 330.44,2125.34 332.92,2119.72 335.39,2114.03 337.87,2108.28 340.34,2102.48 342.82,2096.65 345.29,2090.78 347.77,2084.90 350.24,2079.02 352.72,2073.15 355.19,2067.29 357.67,2061.47 360.14,2055.69 362.61,2049.96 365.09,2044.29 367.56,2038.70 370.04,2033.18 372.51,2027.76 374.99,2022.44 377.46,2017.22 379.94,2012.11 382.41,2007.13 384.89,2002.27 387.36,1997.53 389.84,1992.93 392.31,1988.47 394.79,1984.15 397.26,1979.96 399.74,1975.92 402.21,1972.01 404.69,1968.25 407.16,1964.63 409.64,1961.15 412.11,1957.81 414.59,1954.60 417.06,1951.53 419.54,1948.59" fill="none" stroke="#FF8000" stroke-width="3.4" stroke-linejoin="round" stroke-linecap="butt"/>
<polyline points="196.80,2267.43 199.61,2267.13 202.42,2266.80 205.23,2266.44 208.04,2266.05 210.85,2265.64 213.66,2265.18 216.47,2264.69 219.28,2264.16 222.09,2263.58 224.90,2262.96 227.71,2262.28 230.52,2261.56 233.33,2260.77 236.14,2259.91 238.95,2258.99 241.76,2258.00 244.57,2256.92 247.38,2255.76 250.19,2254.51 253.00,2253.16 255.81,2251.71 258.62,2250.14 261.43,2248.46 264.24,2246.65 267.05,2244.70 269.86,2242.62 272.66,2240.38 275.47,2237.98 278.28,2235.41 281.09,2232.67 283.90,2229.74 286.71,2226.61 289.52,2223.28 292.33,2219.75 295.14,2215.99 297.95,2212.01 300.76,2207.79 303.57,2203.34 306.38,2198.65 309.19,2193.71 312.00,2188.53 314.81,2183.10 317.62,2177.43 320.43,2171.53 323.24,2165.38 326.05,2159.01 328.86,2152.43 331.67,2145.64 334.48,2138.67 337.29,2131.52 340.10,2124.22 342.91,2116.78 345.72,2109.24 348.53,2101.60 351.34,2093.91 354.15,2086.18 356.96,2078.43 359.77,2070.70 362.58,2063.02 365.39,2055.40 368.20,2047.87 371.01,2040.46 373.82,2033.18 376.63,2026.07 379.44,2019.12 382.25,2012.37 385.06,2005.82 387.87,1999.50 390.68,1993.39 393.49,1987.53 396.30,1981.90 399.11,1976.52 401.92,1971.38 404.73,1966.49 407.54,1961.84 410.35,1957.43 413.16,1953.26 415.97,1949.32 418.78,1945.60 421.59,1942.10 424.39,1938.81 427.20,1935.72 430.01,1932.82 432.82,1930.11 435.63,1927.58 438.44,1925.21 441.25,1923.00 444.06,1920.94 446.87,1919.02 449.68,1917.23" fill="none" stroke="#FF8000" stroke-width="3.4" stroke-linejoin="round" stroke-linecap="butt" stroke-dasharray="8.5 4.5"/>
<polyline points="196.80,2270.91 199.61,2270.90 202.42,2270.88 205.23,2270.87 208.04,2270.85 210.85,2270.83 213.66,2270.81 216.47,2270.78 219.28,2270.76 222.09,2270.72 224.90,2270.69 227.71,2270.65 230.52,2270.60 233.33,2270.55 236.14,2270.50 238.95,2270.43 241.76,2270.36 244.57,2270.27 247.38,2270.18 250.19,2270.08 253.00,2269.96 255.81,2269.83 258.62,2269.67 261.43,2269.50 264.24,2269.31 267.05,2269.10 269.86,2268.85 272.66,2268.58 275.47,2268.27 278.28,2267.92 281.09,2267.53 283.90,2267.09 286.71,2266.59 289.52,2266.04 292.33,2265.41 295.14,2264.70 297.95,2263.91 300.76,2263.01 303.57,2262.01 306.38,2260.89 309.19,2259.63 312.00,2258.21 314.81,2256.63 317.62,2254.87 320.43,2252.89 323.24,2250.69 326.05,2248.24 328.86,2245.51 331.67,2242.48 334.48,2239.12 337.29,2235.42 340.10,2231.32 342.91,2226.82 345.72,2221.89 348.53,2216.49 351.34,2210.60 354.15,2204.22 356.96,2197.32 359.77,2189.89 362.58,2181.93 365.39,2173.45 368.20,2164.47 371.01,2155.00 373.82,2145.08 376.63,2134.76 379.44,2124.09 382.25,2113.13 385.06,2101.96 387.87,2090.65 390.68,2079.29 393.49,2067.96 396.30,2056.73 399.11,2045.69 401.92,2034.91 404.73,2024.46 407.54,2014.40 410.35,2004.77 413.16,1995.61 415.97,1986.95 418.78,1978.82 421.59,1971.20 424.39,1964.12 427.20,1957.56 430.01,1951.50 432.82,1945.94 435.63,1940.84 438.44,1936.19 441.25,1931.96 444.06,1928.12 446.87,1924.65 449.68,1921.51" fill="none" stroke="#FF8000" stroke-width="3.4" stroke-linejoin="round" stroke-linecap="butt" stroke-dasharray="8.5 4.5"/>
<rect x="189.00" y="2251.17" width="15.60" height="15.60" fill="#FF8000" stroke="none" stroke-width="0"/>
<rect x="189.00" y="2242.90" width="15.60" height="15.60" fill="#FF8000" stroke="none" stroke-width="0"/>
<rect x="308.66" y="2236.13" width="15.60" height="15.60" fill="#FF8000" stroke="none" stroke-width="0"/>
<rect x="360.20" y="2142.88" width="15.60" height="15.60" fill="#FF8000" stroke="none" stroke-width="0"/>
<rect x="390.35" y="2060.91" width="15.60" height="15.60" fill="#FF8000" stroke="none" stroke-width="0"/>
<rect x="411.74" y="1973.68" width="15.60" height="15.60" fill="#FF8000" stroke="none" stroke-width="0"/>
<rect x="308.66" y="2141.75" width="15.60" height="15.60" fill="#FF8000" stroke="none" stroke-width="0"/>
<rect x="360.20" y="2031.58" width="15.60" height="15.60" fill="#FF8000" stroke="none" stroke-width="0"/>
<rect x="390.35" y="1992.48" width="15.60" height="15.60" fill="#FF8000" stroke="none" stroke-width="0"/>
<rect x="310.56" y="2168.47" width="11.80" height="11.80" fill="#fff" stroke="#FF8000" stroke-width="3.8"/>
<rect x="362.10" y="2062.81" width="11.80" height="11.80" fill="#fff" stroke="#FF8000" stroke-width="3.8"/>
<rect x="392.25" y="1968.06" width="11.80" height="11.80" fill="#fff" stroke="#FF8000" stroke-width="3.8"/>
<rect x="413.64" y="1904.14" width="11.80" height="11.80" fill="#fff" stroke="#FF8000" stroke-width="3.8"/>
<rect x="443.78" y="1904.14" width="11.80" height="11.80" fill="#fff" stroke="#FF8000" stroke-width="3.8"/>
<rect x="190.90" y="2214.34" width="11.80" height="11.80" fill="#fff" stroke="#FF8000" stroke-width="3.8"/>
<rect x="310.56" y="2072.96" width="11.80" height="11.80" fill="#fff" stroke="#FF8000" stroke-width="3.8"/>
<rect x="362.10" y="1960.54" width="11.80" height="11.80" fill="#fff" stroke="#FF8000" stroke-width="3.8"/>
<rect x="392.25" y="1922.94" width="11.80" height="11.80" fill="#fff" stroke="#FF8000" stroke-width="3.8"/>
<rect x="413.64" y="1904.14" width="11.80" height="11.80" fill="#fff" stroke="#FF8000" stroke-width="3.8"/>
<line x1="519.30" y1="2271.00" x2="519.30" y2="1890.80" stroke="#000" stroke-width="3.6" stroke-linecap="butt"/>
<line x1="505.50" y1="2271.00" x2="521.10" y2="2271.00" stroke="#000" stroke-width="3.6" stroke-linecap="butt"/>
<text x="488.29" y="2280.25" font-size="26.5">0</text>
<line x1="512.00" y1="2144.87" x2="521.10" y2="2144.87" stroke="#000" stroke-width="3.6" stroke-linecap="butt"/>
<line x1="512.00" y1="2018.73" x2="521.10" y2="2018.73" stroke="#000" stroke-width="3.6" stroke-linecap="butt"/>
<line x1="505.50" y1="1892.60" x2="521.10" y2="1892.60" stroke="#000" stroke-width="3.6" stroke-linecap="butt"/>
<text x="473.64" y="1901.85" font-size="26.5">15</text>
<line x1="505.50" y1="2271.00" x2="645.40" y2="2271.00" stroke="#000" stroke-width="3.6" stroke-linecap="butt"/>
<line x1="554.10" y1="2271.00" x2="554.10" y2="2284.20" stroke="#000" stroke-width="3.6" stroke-linecap="butt"/>
<line x1="608.20" y1="2271.00" x2="608.20" y2="2284.20" stroke="#000" stroke-width="3.6" stroke-linecap="butt"/>
<text transform="translate(560.80 2315.00) rotate(-45)" x="-76.63" y="0" font-size="29.0" font-weight="bold">Day 1</text>
<text transform="translate(614.90 2315.00) rotate(-45)" x="-76.34" y="0" font-size="29.0" font-weight="bold">Day 9</text>
<text transform="translate(491.40 2239.8) rotate(-90)" x="0" y="0" font-size="30.5" font-weight="bold" textLength="320.5" lengthAdjust="spacingAndGlyphs">ED<tspan font-size="24.5" dy="7.5">50</tspan><tspan dy="-7.5"> ± 95% CI (mg/kg)</tspan></text>
<line x1="554.10" y1="2117.37" x2="554.10" y2="2042.45" stroke="#FF8000" stroke-width="1.8" stroke-linecap="butt"/>
<line x1="546.80" y1="2117.37" x2="561.40" y2="2117.37" stroke="#FF8000" stroke-width="1.8" stroke-linecap="butt"/>
<line x1="546.80" y1="2042.45" x2="561.40" y2="2042.45" stroke="#FF8000" stroke-width="1.8" stroke-linecap="butt"/>
<line x1="608.20" y1="1960.46" x2="608.20" y2="1905.47" stroke="#FF8000" stroke-width="1.8" stroke-linecap="butt"/>
<line x1="600.90" y1="1960.46" x2="615.50" y2="1960.46" stroke="#FF8000" stroke-width="1.8" stroke-linecap="butt"/>
<line x1="600.90" y1="1905.47" x2="615.50" y2="1905.47" stroke="#FF8000" stroke-width="1.8" stroke-linecap="butt"/>
<line x1="554.10" y1="2187.50" x2="554.10" y2="2132.25" stroke="#FF8000" stroke-width="1.8" stroke-linecap="butt"/>
<line x1="546.80" y1="2187.50" x2="561.40" y2="2187.50" stroke="#FF8000" stroke-width="1.8" stroke-linecap="butt"/>
<line x1="546.80" y1="2132.25" x2="561.40" y2="2132.25" stroke="#FF8000" stroke-width="1.8" stroke-linecap="butt"/>
<line x1="608.20" y1="2081.04" x2="608.20" y2="2034.12" stroke="#FF8000" stroke-width="1.8" stroke-linecap="butt"/>
<line x1="600.90" y1="2081.04" x2="615.50" y2="2081.04" stroke="#FF8000" stroke-width="1.8" stroke-linecap="butt"/>
<line x1="600.90" y1="2034.12" x2="615.50" y2="2034.12" stroke="#FF8000" stroke-width="1.8" stroke-linecap="butt"/>
<line x1="554.10" y1="2080.29" x2="608.20" y2="1932.96" stroke="#FF8000" stroke-width="3.3" stroke-linecap="butt"/>
<line x1="554.10" y1="2160.25" x2="608.20" y2="2057.58" stroke="#FF8000" stroke-width="3.3" stroke-linecap="butt"/>
<rect x="548.20" y="2154.35" width="11.80" height="11.80" fill="#fff" stroke="#FF8000" stroke-width="3.8"/>
<rect x="602.30" y="2051.68" width="11.80" height="11.80" fill="#fff" stroke="#FF8000" stroke-width="3.8"/>
<rect x="546.30" y="2072.49" width="15.60" height="15.60" fill="#FF8000" stroke="none" stroke-width="0"/>
<rect x="600.40" y="1925.16" width="15.60" height="15.60" fill="#FF8000" stroke="none" stroke-width="0"/>
<polyline points="554.10,1900.20 554.10,1892.40 607.70,1892.40 607.70,1900.20" fill="none" stroke="#000" stroke-width="1.5" stroke-linejoin="miter" stroke-linecap="butt"/>
<text x="575.84" y="1880.60" font-size="17.5">#</text>
<polyline points="624.70,1931.80 633.00,1931.80 633.00,2056.60 624.70,2056.60" fill="none" stroke="#000" stroke-width="1.5" stroke-linejoin="miter" stroke-linecap="butt"/>
<text x="641.74" y="2000.50" font-size="17.5">#</text>
<polyline points="534.40,2081.40 525.40,2081.40 525.40,2161.20 534.40,2161.20" fill="none" stroke="#000" stroke-width="1.5" stroke-linejoin="miter" stroke-linecap="butt"/>
<text x="534.64" y="2127.60" font-size="17.5">#</text>
<polyline points="554.10,2202.60 554.10,2211.10 608.20,2211.10 608.20,2202.60" fill="none" stroke="#000" stroke-width="1.5" stroke-linejoin="miter" stroke-linecap="butt"/>
<text x="575.84" y="2199.30" font-size="17.5">#</text>
<text x="696.96" y="1800.20" font-size="53.5" font-weight="bold" textLength="17.71" lengthAdjust="spacingAndGlyphs">I</text>
<text x="1040.65" y="1784.80" font-size="27.5" font-weight="bold" textLength="81.16" lengthAdjust="spacingAndGlyphs">βArr2</text>
<line x1="850.50" y1="1809.70" x2="884.80" y2="1809.70" stroke="#04BD79" stroke-width="3.6" stroke-linecap="butt"/>
<polygon points="859.26,1801.39 876.04,1801.39 867.65,1818.01" fill="#04BD79" stroke="none" stroke-width="0" stroke-linejoin="miter" stroke-linecap="butt"/>
<text x="901.81" y="1820.30" font-size="30.4" textLength="155.85" lengthAdjust="spacingAndGlyphs">Day 1 (+/+)</text>
<line x1="1071.00" y1="1809.70" x2="1078.50" y2="1809.70" stroke="#04BD79" stroke-width="3.6" stroke-linecap="butt"/>
<line x1="1102.10" y1="1809.70" x2="1105.60" y2="1809.70" stroke="#04BD79" stroke-width="3.6" stroke-linecap="butt"/>
<polygon points="1079.91,1801.39 1096.69,1801.39 1088.30,1818.01" fill="#04BD79" stroke="none" stroke-width="0" stroke-linejoin="miter" stroke-linecap="butt"/>
<text x="1122.41" y="1820.30" font-size="30.4" textLength="155.85" lengthAdjust="spacingAndGlyphs">Day 9 (+/+)</text>
<line x1="850.50" y1="1852.40" x2="884.80" y2="1852.40" stroke="#04BD79" stroke-width="3.6" stroke-linecap="butt"/>
<polygon points="861.65,1846.90 873.65,1846.90 867.65,1858.81" fill="#fff" stroke="#04BD79" stroke-width="3.9" stroke-linejoin="bevel" stroke-linecap="butt"/>
<text x="901.81" y="1863.00" font-size="30.4" textLength="155.85" lengthAdjust="spacingAndGlyphs">Day 1 (−/−)</text>
<line x1="1071.00" y1="1852.40" x2="1078.50" y2="1852.40" stroke="#04BD79" stroke-width="3.6" stroke-linecap="butt"/>
<line x1="1102.10" y1="1852.40" x2="1105.60" y2="1852.40" stroke="#04BD79" stroke-width="3.6" stroke-linecap="butt"/>
<polygon points="1082.30,1846.90 1094.30,1846.90 1088.30,1858.81" fill="#fff" stroke="#04BD79" stroke-width="3.9" stroke-linejoin="bevel" stroke-linecap="butt"/>
<text x="1122.41" y="1863.00" font-size="30.4" textLength="155.85" lengthAdjust="spacingAndGlyphs">Day 9 (−/−)</text>
<line x1="796.40" y1="2271.00" x2="796.40" y2="1893.20" stroke="#000" stroke-width="3.6" stroke-linecap="butt"/>
<line x1="787.10" y1="2271.00" x2="798.20" y2="2271.00" stroke="#000" stroke-width="3.6" stroke-linecap="butt"/>
<text x="768.39" y="2280.25" font-size="26.5">0</text>
<line x1="787.10" y1="2177.00" x2="798.20" y2="2177.00" stroke="#000" stroke-width="3.6" stroke-linecap="butt"/>
<text x="753.75" y="2186.25" font-size="26.5">25</text>
<line x1="787.10" y1="2083.00" x2="798.20" y2="2083.00" stroke="#000" stroke-width="3.6" stroke-linecap="butt"/>
<text x="753.68" y="2092.25" font-size="26.5">50</text>
<line x1="787.10" y1="1989.00" x2="798.20" y2="1989.00" stroke="#000" stroke-width="3.6" stroke-linecap="butt"/>
<text x="753.75" y="1998.25" font-size="26.5">75</text>
<line x1="787.10" y1="1895.00" x2="798.20" y2="1895.00" stroke="#000" stroke-width="3.6" stroke-linecap="butt"/>
<text x="738.90" y="1904.25" font-size="26.5">100</text>
<line x1="787.10" y1="2271.00" x2="1143.20" y2="2271.00" stroke="#000" stroke-width="3.6" stroke-linecap="butt"/>
<line x1="864.30" y1="2271.00" x2="864.30" y2="2281.50" stroke="#000" stroke-width="3.6" stroke-linecap="butt"/>
<text x="856.58" y="2310.60" font-size="26.5">1</text>
<line x1="1035.50" y1="2271.00" x2="1035.50" y2="2281.50" stroke="#000" stroke-width="3.6" stroke-linecap="butt"/>
<text x="1020.30" y="2310.60" font-size="26.5">10</text>
<line x1="812.76" y1="2271.00" x2="812.76" y2="2277.30" stroke="#000" stroke-width="3.6" stroke-linecap="butt"/>
<line x1="826.32" y1="2271.00" x2="826.32" y2="2277.30" stroke="#000" stroke-width="3.6" stroke-linecap="butt"/>
<line x1="837.78" y1="2271.00" x2="837.78" y2="2277.30" stroke="#000" stroke-width="3.6" stroke-linecap="butt"/>
<line x1="847.71" y1="2271.00" x2="847.71" y2="2277.30" stroke="#000" stroke-width="3.6" stroke-linecap="butt"/>
<line x1="856.47" y1="2271.00" x2="856.47" y2="2277.30" stroke="#000" stroke-width="3.6" stroke-linecap="butt"/>
<line x1="915.84" y1="2271.00" x2="915.84" y2="2277.30" stroke="#000" stroke-width="3.6" stroke-linecap="butt"/>
<line x1="945.98" y1="2271.00" x2="945.98" y2="2277.30" stroke="#000" stroke-width="3.6" stroke-linecap="butt"/>
<line x1="967.37" y1="2271.00" x2="967.37" y2="2277.30" stroke="#000" stroke-width="3.6" stroke-linecap="butt"/>
<line x1="983.96" y1="2271.00" x2="983.96" y2="2277.30" stroke="#000" stroke-width="3.6" stroke-linecap="butt"/>
<line x1="997.52" y1="2271.00" x2="997.52" y2="2277.30" stroke="#000" stroke-width="3.6" stroke-linecap="butt"/>
<line x1="1008.98" y1="2271.00" x2="1008.98" y2="2277.30" stroke="#000" stroke-width="3.6" stroke-linecap="butt"/>
<line x1="1018.91" y1="2271.00" x2="1018.91" y2="2277.30" stroke="#000" stroke-width="3.6" stroke-linecap="butt"/>
<line x1="1027.67" y1="2271.00" x2="1027.67" y2="2277.30" stroke="#000" stroke-width="3.6" stroke-linecap="butt"/>
<line x1="1087.04" y1="2271.00" x2="1087.04" y2="2277.30" stroke="#000" stroke-width="3.6" stroke-linecap="butt"/>
<line x1="1117.18" y1="2271.00" x2="1117.18" y2="2277.30" stroke="#000" stroke-width="3.6" stroke-linecap="butt"/>
<line x1="1138.57" y1="2271.00" x2="1138.57" y2="2277.30" stroke="#000" stroke-width="3.6" stroke-linecap="butt"/>
<text transform="translate(723.00 2081.10) rotate(-90)" x="-225.39" y="0" font-size="30.5" font-weight="bold">Tail withdrawal latency (%MPE)</text>
<text x="830.60" y="2353.30" font-size="30.5" font-weight="bold" textLength="275.55" lengthAdjust="spacingAndGlyphs">Kurkinorin (mg/kg)</text>
<line x1="1035.50" y1="2000.28" x2="1035.50" y2="1970.20" stroke="#04BD79" stroke-width="1.8" stroke-linecap="butt"/>
<line x1="1029.00" y1="2000.28" x2="1042.00" y2="2000.28" stroke="#04BD79" stroke-width="1.8" stroke-linecap="butt"/>
<line x1="1029.00" y1="1970.20" x2="1042.00" y2="1970.20" stroke="#04BD79" stroke-width="1.8" stroke-linecap="butt"/>
<line x1="864.30" y1="2261.98" x2="864.30" y2="2240.54" stroke="#04BD79" stroke-width="1.8" stroke-linecap="butt"/>
<line x1="857.80" y1="2261.98" x2="870.80" y2="2261.98" stroke="#04BD79" stroke-width="1.8" stroke-linecap="butt"/>
<line x1="857.80" y1="2240.54" x2="870.80" y2="2240.54" stroke="#04BD79" stroke-width="1.8" stroke-linecap="butt"/>
<line x1="983.96" y1="2202.57" x2="983.96" y2="2186.78" stroke="#04BD79" stroke-width="1.8" stroke-linecap="butt"/>
<line x1="977.46" y1="2202.57" x2="990.46" y2="2202.57" stroke="#04BD79" stroke-width="1.8" stroke-linecap="butt"/>
<line x1="977.46" y1="2186.78" x2="990.46" y2="2186.78" stroke="#04BD79" stroke-width="1.8" stroke-linecap="butt"/>
<line x1="1035.50" y1="2109.32" x2="1035.50" y2="2089.77" stroke="#04BD79" stroke-width="1.8" stroke-linecap="butt"/>
<line x1="1029.00" y1="2109.32" x2="1042.00" y2="2109.32" stroke="#04BD79" stroke-width="1.8" stroke-linecap="butt"/>
<line x1="1029.00" y1="2089.77" x2="1042.00" y2="2089.77" stroke="#04BD79" stroke-width="1.8" stroke-linecap="butt"/>
<line x1="1087.04" y1="2002.16" x2="1087.04" y2="1973.96" stroke="#04BD79" stroke-width="1.8" stroke-linecap="butt"/>
<line x1="1080.54" y1="2002.16" x2="1093.54" y2="2002.16" stroke="#04BD79" stroke-width="1.8" stroke-linecap="butt"/>
<line x1="1080.54" y1="1973.96" x2="1093.54" y2="1973.96" stroke="#04BD79" stroke-width="1.8" stroke-linecap="butt"/>
<line x1="1117.18" y1="1932.60" x2="1117.18" y2="1904.40" stroke="#04BD79" stroke-width="1.8" stroke-linecap="butt"/>
<line x1="1110.68" y1="1932.60" x2="1123.68" y2="1932.60" stroke="#04BD79" stroke-width="1.8" stroke-linecap="butt"/>
<line x1="1110.68" y1="1904.40" x2="1123.68" y2="1904.40" stroke="#04BD79" stroke-width="1.8" stroke-linecap="butt"/>
<line x1="864.30" y1="2211.59" x2="864.30" y2="2183.39" stroke="#04BD79" stroke-width="1.8" stroke-linecap="butt"/>
<line x1="857.80" y1="2211.59" x2="870.80" y2="2211.59" stroke="#04BD79" stroke-width="1.8" stroke-linecap="butt"/>
<line x1="857.80" y1="2183.39" x2="870.80" y2="2183.39" stroke="#04BD79" stroke-width="1.8" stroke-linecap="butt"/>
<line x1="983.96" y1="2129.25" x2="983.96" y2="2078.49" stroke="#04BD79" stroke-width="1.8" stroke-linecap="butt"/>
<line x1="977.46" y1="2129.25" x2="990.46" y2="2129.25" stroke="#04BD79" stroke-width="1.8" stroke-linecap="butt"/>
<line x1="977.46" y1="2078.49" x2="990.46" y2="2078.49" stroke="#04BD79" stroke-width="1.8" stroke-linecap="butt"/>
<line x1="983.96" y1="2154.82" x2="983.96" y2="2078.49" stroke="#04BD79" stroke-width="1.8" stroke-linecap="butt"/>
<line x1="977.46" y1="2154.82" x2="990.46" y2="2154.82" stroke="#04BD79" stroke-width="1.8" stroke-linecap="butt"/>
<line x1="977.46" y1="2078.49" x2="990.46" y2="2078.49" stroke="#04BD79" stroke-width="1.8" stroke-linecap="butt"/>
<line x1="1035.50" y1="2005.92" x2="1035.50" y2="1968.32" stroke="#04BD79" stroke-width="1.8" stroke-linecap="butt"/>
<line x1="1029.00" y1="2005.92" x2="1042.00" y2="2005.92" stroke="#04BD79" stroke-width="1.8" stroke-linecap="butt"/>
<line x1="1029.00" y1="1968.32" x2="1042.00" y2="1968.32" stroke="#04BD79" stroke-width="1.8" stroke-linecap="butt"/>
<line x1="1087.04" y1="1962.68" x2="1087.04" y2="1921.32" stroke="#04BD79" stroke-width="1.8" stroke-linecap="butt"/>
<line x1="1080.54" y1="1962.68" x2="1093.54" y2="1962.68" stroke="#04BD79" stroke-width="1.8" stroke-linecap="butt"/>
<line x1="1080.54" y1="1921.32" x2="1093.54" y2="1921.32" stroke="#04BD79" stroke-width="1.8" stroke-linecap="butt"/>
<line x1="864.30" y1="2234.15" x2="864.30" y2="2212.34" stroke="#04BD79" stroke-width="1.8" stroke-linecap="butt"/>
<line x1="857.80" y1="2234.15" x2="870.80" y2="2234.15" stroke="#04BD79" stroke-width="1.8" stroke-linecap="butt"/>
<line x1="857.80" y1="2212.34" x2="870.80" y2="2212.34" stroke="#04BD79" stroke-width="1.8" stroke-linecap="butt"/>
<line x1="1087.04" y1="1940.12" x2="1087.04" y2="1913.80" stroke="#04BD79" stroke-width="1.8" stroke-linecap="butt"/>
<line x1="1080.54" y1="1940.12" x2="1093.54" y2="1940.12" stroke="#04BD79" stroke-width="1.8" stroke-linecap="butt"/>
<line x1="1080.54" y1="1913.80" x2="1093.54" y2="1913.80" stroke="#04BD79" stroke-width="1.8" stroke-linecap="butt"/>
<line x1="812.76" y1="2234.90" x2="812.76" y2="2215.35" stroke="#04BD79" stroke-width="1.8" stroke-linecap="butt"/>
<line x1="806.26" y1="2234.90" x2="819.26" y2="2234.90" stroke="#04BD79" stroke-width="1.8" stroke-linecap="butt"/>
<line x1="806.26" y1="2215.35" x2="819.26" y2="2215.35" stroke="#04BD79" stroke-width="1.8" stroke-linecap="butt"/>
<line x1="864.30" y1="2177.75" x2="864.30" y2="2152.56" stroke="#04BD79" stroke-width="1.8" stroke-linecap="butt"/>
<line x1="857.80" y1="2177.75" x2="870.80" y2="2177.75" stroke="#04BD79" stroke-width="1.8" stroke-linecap="butt"/>
<line x1="857.80" y1="2152.56" x2="870.80" y2="2152.56" stroke="#04BD79" stroke-width="1.8" stroke-linecap="butt"/>
<line x1="983.96" y1="2078.49" x2="983.96" y2="2057.43" stroke="#04BD79" stroke-width="1.8" stroke-linecap="butt"/>
<line x1="977.46" y1="2078.49" x2="990.46" y2="2078.49" stroke="#04BD79" stroke-width="1.8" stroke-linecap="butt"/>
<line x1="977.46" y1="2057.43" x2="990.46" y2="2057.43" stroke="#04BD79" stroke-width="1.8" stroke-linecap="butt"/>
<line x1="1035.50" y1="1968.32" x2="1035.50" y2="1947.64" stroke="#04BD79" stroke-width="1.8" stroke-linecap="butt"/>
<line x1="1029.00" y1="1968.32" x2="1042.00" y2="1968.32" stroke="#04BD79" stroke-width="1.8" stroke-linecap="butt"/>
<line x1="1029.00" y1="1947.64" x2="1042.00" y2="1947.64" stroke="#04BD79" stroke-width="1.8" stroke-linecap="butt"/>
<line x1="1087.04" y1="1932.60" x2="1087.04" y2="1905.53" stroke="#04BD79" stroke-width="1.8" stroke-linecap="butt"/>
<line x1="1080.54" y1="1932.60" x2="1093.54" y2="1932.60" stroke="#04BD79" stroke-width="1.8" stroke-linecap="butt"/>
<line x1="1080.54" y1="1905.53" x2="1093.54" y2="1905.53" stroke="#04BD79" stroke-width="1.8" stroke-linecap="butt"/>
<polyline points="812.76,2223.49 816.15,2221.38 819.53,2219.18 822.91,2216.91 826.29,2214.55 829.68,2212.10 833.06,2209.57 836.44,2206.96 839.82,2204.26 843.21,2201.46 846.59,2198.58 849.97,2195.61 853.35,2192.55 856.74,2189.40 860.12,2186.16 863.50,2182.82 866.88,2179.40 870.27,2175.89 873.65,2172.29 877.03,2168.60 880.41,2164.83 883.79,2160.98 887.18,2157.05 890.56,2153.03 893.94,2148.94 897.32,2144.78 900.71,2140.55 904.09,2136.26 907.47,2131.90 910.85,2127.49 914.24,2123.02 917.62,2118.51 921.00,2113.95 924.38,2109.36 927.77,2104.73 931.15,2100.08 934.53,2095.40 937.91,2090.71 941.30,2086.01 944.68,2081.31 948.06,2076.61 951.44,2071.91 954.83,2067.23 958.21,2062.57 961.59,2057.94 964.97,2053.33 968.36,2048.77 971.74,2044.24 975.12,2039.76 978.50,2035.33 981.89,2030.96 985.27,2026.65 988.65,2022.40 992.03,2018.22 995.42,2014.11 998.80,2010.07 1002.18,2006.12 1005.56,2002.24 1008.95,1998.45 1012.33,1994.74 1015.71,1991.11 1019.09,1987.58 1022.47,1984.13 1025.86,1980.77 1029.24,1977.50 1032.62,1974.32 1036.00,1971.24 1039.39,1968.24 1042.77,1965.34 1046.15,1962.52 1049.53,1959.79 1052.92,1957.15 1056.30,1954.60 1059.68,1952.13 1063.06,1949.75 1066.45,1947.45 1069.83,1945.23 1073.21,1943.09 1076.59,1941.03 1079.98,1939.05 1083.36,1937.14 1086.74,1935.30 1090.12,1933.54 1093.51,1931.84 1096.89,1930.21 1100.27,1928.65 1103.65,1927.14 1107.04,1925.70 1110.42,1924.32 1113.80,1923.00 1117.18,1921.73" fill="none" stroke="#04BD79" stroke-width="3.4" stroke-linejoin="round" stroke-linecap="butt"/>
<polyline points="812.76,2250.33 816.15,2249.19 819.53,2247.98 822.91,2246.71 826.29,2245.37 829.68,2243.97 833.06,2242.49 836.44,2240.95 839.82,2239.32 843.21,2237.62 846.59,2235.84 849.97,2233.96 853.35,2232.01 856.74,2229.96 860.12,2227.81 863.50,2225.57 866.88,2223.23 870.27,2220.79 873.65,2218.25 877.03,2215.59 880.41,2212.83 883.79,2209.96 887.18,2206.97 890.56,2203.86 893.94,2200.64 897.32,2197.31 900.71,2193.85 904.09,2190.28 907.47,2186.58 910.85,2182.77 914.24,2178.84 917.62,2174.80 921.00,2170.64 924.38,2166.36 927.77,2161.98 931.15,2157.49 934.53,2152.90 937.91,2148.21 941.30,2143.42 944.68,2138.54 948.06,2133.59 951.44,2128.55 954.83,2123.44 958.21,2118.27 961.59,2113.05 964.97,2107.78 968.36,2102.46 971.74,2097.12 975.12,2091.75 978.50,2086.37 981.89,2080.98 985.27,2075.60 988.65,2070.22 992.03,2064.87 995.42,2059.55 998.80,2054.27 1002.18,2049.03 1005.56,2043.85 1008.95,2038.72 1012.33,2033.67 1015.71,2028.69 1019.09,2023.79 1022.47,2018.98 1025.86,2014.27 1029.24,2009.65 1032.62,2005.13 1036.00,2000.72 1039.39,1996.42 1042.77,1992.23 1046.15,1988.16 1049.53,1984.20 1052.92,1980.36 1056.30,1976.64 1059.68,1973.03 1063.06,1969.55 1066.45,1966.18 1069.83,1962.93 1073.21,1959.80 1076.59,1956.78 1079.98,1953.88 1083.36,1951.09 1086.74,1948.41 1090.12,1945.84 1093.51,1943.37 1096.89,1941.00 1100.27,1938.74 1103.65,1936.57 1107.04,1934.50 1110.42,1932.52 1113.80,1930.63 1117.18,1928.82" fill="none" stroke="#04BD79" stroke-width="3.4" stroke-linejoin="round" stroke-linecap="butt"/>
<polyline points="812.76,2262.82 816.15,2262.21 819.53,2261.56 822.91,2260.85 826.29,2260.10 829.68,2259.29 833.06,2258.43 836.44,2257.50 839.82,2256.51 843.21,2255.44 846.59,2254.31 849.97,2253.09 853.35,2251.79 856.74,2250.40 860.12,2248.92 863.50,2247.34 866.88,2245.65 870.27,2243.85 873.65,2241.93 877.03,2239.90 880.41,2237.73 883.79,2235.42 887.18,2232.98 890.56,2230.38 893.94,2227.63 897.32,2224.73 900.71,2221.65 904.09,2218.41 907.47,2214.98 910.85,2211.38 914.24,2207.59 917.62,2203.61 921.00,2199.43 924.38,2195.06 927.77,2190.50 931.15,2185.74 934.53,2180.78 937.91,2175.63 941.30,2170.29 944.68,2164.77 948.06,2159.06 951.44,2153.18 954.83,2147.14 958.21,2140.94 961.59,2134.60 964.97,2128.14 968.36,2121.55 971.74,2114.87 975.12,2108.10 978.50,2101.27 981.89,2094.38 985.27,2087.47 988.65,2080.54 992.03,2073.62 995.42,2066.73 998.80,2059.88 1002.18,2053.09 1005.56,2046.38 1008.95,2039.76 1012.33,2033.26 1015.71,2026.88 1019.09,2020.64 1022.47,2014.55 1025.86,2008.63 1029.24,2002.87 1032.62,1997.29 1036.00,1991.90 1039.39,1986.69 1042.77,1981.68 1046.15,1976.86 1049.53,1972.24 1052.92,1967.81 1056.30,1963.58 1059.68,1959.55 1063.06,1955.70 1066.45,1952.04 1069.83,1948.57 1073.21,1945.27 1076.59,1942.15 1079.98,1939.19 1083.36,1936.40 1086.74,1933.76 1090.12,1931.27 1093.51,1928.93 1096.89,1926.72 1100.27,1924.64 1103.65,1922.69 1107.04,1920.86 1110.42,1919.14 1113.80,1917.53 1117.18,1916.02" fill="none" stroke="#04BD79" stroke-width="3.4" stroke-linejoin="round" stroke-linecap="butt" stroke-dasharray="8.5 4.5"/>
<polyline points="812.76,2270.19 816.15,2270.11 819.53,2270.02 822.91,2269.93 826.29,2269.82 829.68,2269.71 833.06,2269.59 836.44,2269.45 839.82,2269.30 843.21,2269.14 846.59,2268.96 849.97,2268.77 853.35,2268.56 856.74,2268.32 860.12,2268.07 863.50,2267.79 866.88,2267.48 870.27,2267.15 873.65,2266.78 877.03,2266.38 880.41,2265.94 883.79,2265.46 887.18,2264.94 890.56,2264.36 893.94,2263.74 897.32,2263.05 900.71,2262.30 904.09,2261.49 907.47,2260.60 910.85,2259.63 914.24,2258.57 917.62,2257.41 921.00,2256.16 924.38,2254.79 927.77,2253.31 931.15,2251.69 934.53,2249.93 937.91,2248.03 941.30,2245.97 944.68,2243.73 948.06,2241.32 951.44,2238.70 954.83,2235.89 958.21,2232.85 961.59,2229.58 964.97,2226.07 968.36,2222.31 971.74,2218.28 975.12,2213.97 978.50,2209.38 981.89,2204.50 985.27,2199.32 988.65,2193.84 992.03,2188.05 995.42,2181.96 998.80,2175.56 1002.18,2168.87 1005.56,2161.89 1008.95,2154.64 1012.33,2147.13 1015.71,2139.38 1019.09,2131.42 1022.47,2123.26 1025.86,2114.94 1029.24,2106.49 1032.62,2097.95 1036.00,2089.34 1039.39,2080.70 1042.77,2072.08 1046.15,2063.50 1049.53,2055.00 1052.92,2046.61 1056.30,2038.38 1059.68,2030.32 1063.06,2022.47 1066.45,2014.84 1069.83,2007.47 1073.21,2000.36 1076.59,1993.53 1079.98,1987.00 1083.36,1980.77 1086.74,1974.83 1090.12,1969.21 1093.51,1963.89 1096.89,1958.87 1100.27,1954.14 1103.65,1949.70 1107.04,1945.55 1110.42,1941.66 1113.80,1938.03 1117.18,1934.65" fill="none" stroke="#04BD79" stroke-width="3.4" stroke-linejoin="round" stroke-linecap="butt" stroke-dasharray="8.5 4.5"/>
<polygon points="1029.66,1972.37 1041.34,1972.37 1035.50,1983.97" fill="#fff" stroke="#04BD79" stroke-width="3.9" stroke-linejoin="bevel" stroke-linecap="butt"/>
<polygon points="804.52,2255.70 821.00,2255.70 812.76,2272.02" fill="#04BD79" stroke="none" stroke-width="0" stroke-linejoin="miter" stroke-linecap="butt"/>
<polygon points="804.52,2248.93 821.00,2248.93 812.76,2265.25" fill="#04BD79" stroke="none" stroke-width="0" stroke-linejoin="miter" stroke-linecap="butt"/>
<polygon points="856.06,2242.16 872.54,2242.16 864.30,2258.48" fill="#04BD79" stroke="none" stroke-width="0" stroke-linejoin="miter" stroke-linecap="butt"/>
<polygon points="975.72,2185.38 992.20,2185.38 983.96,2201.70" fill="#04BD79" stroke="none" stroke-width="0" stroke-linejoin="miter" stroke-linecap="butt"/>
<polygon points="1027.26,2089.13 1043.74,2089.13 1035.50,2105.45" fill="#04BD79" stroke="none" stroke-width="0" stroke-linejoin="miter" stroke-linecap="butt"/>
<polygon points="1078.80,1978.58 1095.28,1978.58 1087.04,1994.90" fill="#04BD79" stroke="none" stroke-width="0" stroke-linejoin="miter" stroke-linecap="butt"/>
<polygon points="1108.94,1909.40 1125.42,1909.40 1117.18,1925.72" fill="#04BD79" stroke="none" stroke-width="0" stroke-linejoin="miter" stroke-linecap="butt"/>
<polygon points="856.06,2188.77 872.54,2188.77 864.30,2205.09" fill="#04BD79" stroke="none" stroke-width="0" stroke-linejoin="miter" stroke-linecap="butt"/>
<polygon points="975.72,2095.90 992.20,2095.90 983.96,2112.22" fill="#04BD79" stroke="none" stroke-width="0" stroke-linejoin="miter" stroke-linecap="butt"/>
<polygon points="975.72,2103.04 992.20,2103.04 983.96,2119.36" fill="#04BD79" stroke="none" stroke-width="0" stroke-linejoin="miter" stroke-linecap="butt"/>
<polygon points="1027.26,1977.08 1043.74,1977.08 1035.50,1993.40" fill="#04BD79" stroke="none" stroke-width="0" stroke-linejoin="miter" stroke-linecap="butt"/>
<polygon points="1078.80,1933.09 1095.28,1933.09 1087.04,1949.41" fill="#04BD79" stroke="none" stroke-width="0" stroke-linejoin="miter" stroke-linecap="butt"/>
<polygon points="1108.94,1909.02 1125.42,1909.02 1117.18,1925.34" fill="#04BD79" stroke="none" stroke-width="0" stroke-linejoin="miter" stroke-linecap="butt"/>
<polygon points="858.46,2216.39 870.14,2216.39 864.30,2227.99" fill="#fff" stroke="#04BD79" stroke-width="3.9" stroke-linejoin="bevel" stroke-linecap="butt"/>
<polygon points="1081.19,1921.61 1092.88,1921.61 1087.04,1933.21" fill="#fff" stroke="#04BD79" stroke-width="3.9" stroke-linejoin="bevel" stroke-linecap="butt"/>
<polygon points="1111.34,1900.93 1123.02,1900.93 1117.18,1912.53" fill="#fff" stroke="#04BD79" stroke-width="3.9" stroke-linejoin="bevel" stroke-linecap="butt"/>
<polygon points="806.92,2219.78 818.61,2219.78 812.76,2231.38" fill="#fff" stroke="#04BD79" stroke-width="3.9" stroke-linejoin="bevel" stroke-linecap="butt"/>
<polygon points="858.46,2159.62 870.14,2159.62 864.30,2171.22" fill="#fff" stroke="#04BD79" stroke-width="3.9" stroke-linejoin="bevel" stroke-linecap="butt"/>
<polygon points="978.12,2061.10 989.81,2061.10 983.96,2072.70" fill="#fff" stroke="#04BD79" stroke-width="3.9" stroke-linejoin="bevel" stroke-linecap="butt"/>
<polygon points="1029.66,1948.68 1041.34,1948.68 1035.50,1960.28" fill="#fff" stroke="#04BD79" stroke-width="3.9" stroke-linejoin="bevel" stroke-linecap="butt"/>
<polygon points="1081.19,1913.34 1092.88,1913.34 1087.04,1924.94" fill="#fff" stroke="#04BD79" stroke-width="3.9" stroke-linejoin="bevel" stroke-linecap="butt"/>
<polygon points="1111.34,1893.41 1123.02,1893.41 1117.18,1905.01" fill="#fff" stroke="#04BD79" stroke-width="3.9" stroke-linejoin="bevel" stroke-linecap="butt"/>
<line x1="1185.70" y1="2271.00" x2="1185.70" y2="1890.80" stroke="#000" stroke-width="3.6" stroke-linecap="butt"/>
<line x1="1171.90" y1="2271.00" x2="1187.50" y2="2271.00" stroke="#000" stroke-width="3.6" stroke-linecap="butt"/>
<text x="1154.69" y="2280.25" font-size="26.5">0</text>
<line x1="1178.40" y1="2144.87" x2="1187.50" y2="2144.87" stroke="#000" stroke-width="3.6" stroke-linecap="butt"/>
<line x1="1178.40" y1="2018.73" x2="1187.50" y2="2018.73" stroke="#000" stroke-width="3.6" stroke-linecap="butt"/>
<line x1="1171.90" y1="1892.60" x2="1187.50" y2="1892.60" stroke="#000" stroke-width="3.6" stroke-linecap="butt"/>
<text x="1140.05" y="1901.85" font-size="26.5">15</text>
<line x1="1171.90" y1="2271.00" x2="1311.70" y2="2271.00" stroke="#000" stroke-width="3.6" stroke-linecap="butt"/>
<line x1="1220.50" y1="2271.00" x2="1220.50" y2="2284.20" stroke="#000" stroke-width="3.6" stroke-linecap="butt"/>
<line x1="1273.30" y1="2271.00" x2="1273.30" y2="2284.20" stroke="#000" stroke-width="3.6" stroke-linecap="butt"/>
<text transform="translate(1227.20 2315.00) rotate(-45)" x="-76.63" y="0" font-size="29.0" font-weight="bold">Day 1</text>
<text transform="translate(1280.00 2315.00) rotate(-45)" x="-76.34" y="0" font-size="29.0" font-weight="bold">Day 9</text>
<text transform="translate(1158.40 2239.8) rotate(-90)" x="0" y="0" font-size="30.5" font-weight="bold" textLength="320.5" lengthAdjust="spacingAndGlyphs">ED<tspan font-size="24.5" dy="7.5">50</tspan><tspan dy="-7.5"> ± 95% CI (mg/kg)</tspan></text>
<line x1="1220.50" y1="2176.90" x2="1220.50" y2="2125.44" stroke="#04BD79" stroke-width="1.8" stroke-linecap="butt"/>
<line x1="1213.20" y1="2176.90" x2="1227.80" y2="2176.90" stroke="#04BD79" stroke-width="1.8" stroke-linecap="butt"/>
<line x1="1213.20" y1="2125.44" x2="1227.80" y2="2125.44" stroke="#04BD79" stroke-width="1.8" stroke-linecap="butt"/>
<line x1="1273.30" y1="2032.10" x2="1273.30" y2="1985.94" stroke="#04BD79" stroke-width="1.8" stroke-linecap="butt"/>
<line x1="1266.00" y1="2032.10" x2="1280.60" y2="2032.10" stroke="#04BD79" stroke-width="1.8" stroke-linecap="butt"/>
<line x1="1266.00" y1="1985.94" x2="1280.60" y2="1985.94" stroke="#04BD79" stroke-width="1.8" stroke-linecap="butt"/>
<line x1="1220.50" y1="2210.96" x2="1220.50" y2="2184.22" stroke="#04BD79" stroke-width="1.8" stroke-linecap="butt"/>
<line x1="1213.20" y1="2210.96" x2="1227.80" y2="2210.96" stroke="#04BD79" stroke-width="1.8" stroke-linecap="butt"/>
<line x1="1213.20" y1="2184.22" x2="1227.80" y2="2184.22" stroke="#04BD79" stroke-width="1.8" stroke-linecap="butt"/>
<line x1="1273.30" y1="2170.09" x2="1273.30" y2="2108.29" stroke="#04BD79" stroke-width="1.8" stroke-linecap="butt"/>
<line x1="1266.00" y1="2170.09" x2="1280.60" y2="2170.09" stroke="#04BD79" stroke-width="1.8" stroke-linecap="butt"/>
<line x1="1266.00" y1="2108.29" x2="1280.60" y2="2108.29" stroke="#04BD79" stroke-width="1.8" stroke-linecap="butt"/>
<line x1="1220.50" y1="2150.42" x2="1273.30" y2="2008.39" stroke="#04BD79" stroke-width="3.3" stroke-linecap="butt"/>
<line x1="1220.50" y1="2197.84" x2="1273.30" y2="2138.81" stroke="#04BD79" stroke-width="3.3" stroke-linecap="butt"/>
<polygon points="1214.50,2192.35 1226.50,2192.35 1220.50,2204.25" fill="#fff" stroke="#04BD79" stroke-width="3.9" stroke-linejoin="bevel" stroke-linecap="butt"/>
<polygon points="1267.30,2133.32 1279.30,2133.32 1273.30,2145.22" fill="#fff" stroke="#04BD79" stroke-width="3.9" stroke-linejoin="bevel" stroke-linecap="butt"/>
<polygon points="1212.11,2142.10 1228.89,2142.10 1220.50,2158.73" fill="#04BD79" stroke="none" stroke-width="0" stroke-linejoin="miter" stroke-linecap="butt"/>
<polygon points="1264.91,2000.08 1281.69,2000.08 1273.30,2016.70" fill="#04BD79" stroke="none" stroke-width="0" stroke-linejoin="miter" stroke-linecap="butt"/>
<polyline points="1219.80,1974.40 1219.80,1964.10 1273.30,1964.10 1273.30,1974.40" fill="none" stroke="#000" stroke-width="1.5" stroke-linejoin="miter" stroke-linecap="butt"/>
<text x="1242.14" y="1951.20" font-size="17.5">#</text>
<polyline points="1289.80,2007.20 1298.80,2007.20 1298.80,2133.00 1289.80,2133.00" fill="none" stroke="#000" stroke-width="1.5" stroke-linejoin="miter" stroke-linecap="butt"/>
<text x="1308.14" y="2076.50" font-size="17.5">#</text>
<polyline points="1203.50,2145.90 1194.70,2145.90 1194.70,2189.70 1203.50,2189.70" fill="none" stroke="#000" stroke-width="1.5" stroke-linejoin="miter" stroke-linecap="butt"/>
<text x="1203.94" y="2174.50" font-size="17.5">#</text>
<polyline points="1221.00,2224.50 1221.00,2233.00 1275.20,2233.00 1275.20,2224.50" fill="none" stroke="#000" stroke-width="1.5" stroke-linejoin="miter" stroke-linecap="butt"/>
<text x="1244.14" y="2221.70" font-size="17.5">#</text>
<text x="1373.18" y="1800.20" font-size="53.5" font-weight="bold" textLength="30.56" lengthAdjust="spacingAndGlyphs">J</text>
<text x="1716.33" y="1784.80" font-size="27.5" font-weight="bold" textLength="81.78" lengthAdjust="spacingAndGlyphs">βArr2</text>
<line x1="1535.00" y1="1809.70" x2="1569.00" y2="1809.70" stroke="#0C8398" stroke-width="3.6" stroke-linecap="butt"/>
<polygon points="1543.61,1818.01 1560.39,1818.01 1552.00,1801.39" fill="#0C8398" stroke="none" stroke-width="0" stroke-linejoin="miter" stroke-linecap="butt"/>
<text x="1586.41" y="1820.30" font-size="30.4" textLength="155.85" lengthAdjust="spacingAndGlyphs">Day 1 (+/+)</text>
<line x1="1755.20" y1="1809.70" x2="1762.70" y2="1809.70" stroke="#0C8398" stroke-width="3.6" stroke-linecap="butt"/>
<line x1="1786.30" y1="1809.70" x2="1789.80" y2="1809.70" stroke="#0C8398" stroke-width="3.6" stroke-linecap="butt"/>
<polygon points="1764.11,1818.01 1780.89,1818.01 1772.50,1801.39" fill="#0C8398" stroke="none" stroke-width="0" stroke-linejoin="miter" stroke-linecap="butt"/>
<text x="1807.21" y="1820.30" font-size="30.4" textLength="155.85" lengthAdjust="spacingAndGlyphs">Day 9 (+/+)</text>
<line x1="1535.00" y1="1852.40" x2="1569.00" y2="1852.40" stroke="#0C8398" stroke-width="3.6" stroke-linecap="butt"/>
<polygon points="1546.00,1857.90 1558.00,1857.90 1552.00,1845.99" fill="#fff" stroke="#0C8398" stroke-width="3.9" stroke-linejoin="bevel" stroke-linecap="butt"/>
<text x="1586.41" y="1863.00" font-size="30.4" textLength="155.85" lengthAdjust="spacingAndGlyphs">Day 1 (−/−)</text>
<line x1="1755.20" y1="1852.40" x2="1762.70" y2="1852.40" stroke="#0C8398" stroke-width="3.6" stroke-linecap="butt"/>
<line x1="1786.30" y1="1852.40" x2="1789.80" y2="1852.40" stroke="#0C8398" stroke-width="3.6" stroke-linecap="butt"/>
<polygon points="1766.50,1857.90 1778.50,1857.90 1772.50,1845.99" fill="#fff" stroke="#0C8398" stroke-width="3.9" stroke-linejoin="bevel" stroke-linecap="butt"/>
<text x="1807.21" y="1863.00" font-size="30.4" textLength="155.85" lengthAdjust="spacingAndGlyphs">Day 9 (−/−)</text>
<line x1="1472.50" y1="2271.00" x2="1472.50" y2="1893.20" stroke="#000" stroke-width="3.6" stroke-linecap="butt"/>
<line x1="1463.20" y1="2271.00" x2="1474.30" y2="2271.00" stroke="#000" stroke-width="3.6" stroke-linecap="butt"/>
<text x="1444.49" y="2280.25" font-size="26.5">0</text>
<line x1="1463.20" y1="2177.00" x2="1474.30" y2="2177.00" stroke="#000" stroke-width="3.6" stroke-linecap="butt"/>
<text x="1429.85" y="2186.25" font-size="26.5">25</text>
<line x1="1463.20" y1="2083.00" x2="1474.30" y2="2083.00" stroke="#000" stroke-width="3.6" stroke-linecap="butt"/>
<text x="1429.78" y="2092.25" font-size="26.5">50</text>
<line x1="1463.20" y1="1989.00" x2="1474.30" y2="1989.00" stroke="#000" stroke-width="3.6" stroke-linecap="butt"/>
<text x="1429.85" y="1998.25" font-size="26.5">75</text>
<line x1="1463.20" y1="1895.00" x2="1474.30" y2="1895.00" stroke="#000" stroke-width="3.6" stroke-linecap="butt"/>
<text x="1415.01" y="1904.25" font-size="26.5">100</text>
<line x1="1463.20" y1="2271.00" x2="1818.20" y2="2271.00" stroke="#000" stroke-width="3.6" stroke-linecap="butt"/>
<line x1="1540.90" y1="2271.00" x2="1540.90" y2="2281.50" stroke="#000" stroke-width="3.6" stroke-linecap="butt"/>
<text x="1533.18" y="2310.60" font-size="26.5">1</text>
<line x1="1712.10" y1="2271.00" x2="1712.10" y2="2281.50" stroke="#000" stroke-width="3.6" stroke-linecap="butt"/>
<text x="1696.90" y="2310.60" font-size="26.5">10</text>
<line x1="1489.36" y1="2271.00" x2="1489.36" y2="2277.30" stroke="#000" stroke-width="3.6" stroke-linecap="butt"/>
<line x1="1502.92" y1="2271.00" x2="1502.92" y2="2277.30" stroke="#000" stroke-width="3.6" stroke-linecap="butt"/>
<line x1="1514.38" y1="2271.00" x2="1514.38" y2="2277.30" stroke="#000" stroke-width="3.6" stroke-linecap="butt"/>
<line x1="1524.31" y1="2271.00" x2="1524.31" y2="2277.30" stroke="#000" stroke-width="3.6" stroke-linecap="butt"/>
<line x1="1533.07" y1="2271.00" x2="1533.07" y2="2277.30" stroke="#000" stroke-width="3.6" stroke-linecap="butt"/>
<line x1="1592.44" y1="2271.00" x2="1592.44" y2="2277.30" stroke="#000" stroke-width="3.6" stroke-linecap="butt"/>
<line x1="1622.58" y1="2271.00" x2="1622.58" y2="2277.30" stroke="#000" stroke-width="3.6" stroke-linecap="butt"/>
<line x1="1643.97" y1="2271.00" x2="1643.97" y2="2277.30" stroke="#000" stroke-width="3.6" stroke-linecap="butt"/>
<line x1="1660.56" y1="2271.00" x2="1660.56" y2="2277.30" stroke="#000" stroke-width="3.6" stroke-linecap="butt"/>
<line x1="1674.12" y1="2271.00" x2="1674.12" y2="2277.30" stroke="#000" stroke-width="3.6" stroke-linecap="butt"/>
<line x1="1685.58" y1="2271.00" x2="1685.58" y2="2277.30" stroke="#000" stroke-width="3.6" stroke-linecap="butt"/>
<line x1="1695.51" y1="2271.00" x2="1695.51" y2="2277.30" stroke="#000" stroke-width="3.6" stroke-linecap="butt"/>
<line x1="1704.27" y1="2271.00" x2="1704.27" y2="2277.30" stroke="#000" stroke-width="3.6" stroke-linecap="butt"/>
<line x1="1763.64" y1="2271.00" x2="1763.64" y2="2277.30" stroke="#000" stroke-width="3.6" stroke-linecap="butt"/>
<line x1="1793.78" y1="2271.00" x2="1793.78" y2="2277.30" stroke="#000" stroke-width="3.6" stroke-linecap="butt"/>
<line x1="1815.17" y1="2271.00" x2="1815.17" y2="2277.30" stroke="#000" stroke-width="3.6" stroke-linecap="butt"/>
<text transform="translate(1399.10 2081.10) rotate(-90)" x="-225.39" y="0" font-size="30.5" font-weight="bold">Tail withdrawal latency (%MPE)</text>
<text x="1521.89" y="2353.30" font-size="30.5" font-weight="bold" textLength="246.07" lengthAdjust="spacingAndGlyphs">Kurkinol (mg/kg)</text>
<line x1="1540.90" y1="2252.20" x2="1540.90" y2="2222.12" stroke="#0C8398" stroke-width="1.8" stroke-linecap="butt"/>
<line x1="1534.40" y1="2252.20" x2="1547.40" y2="2252.20" stroke="#0C8398" stroke-width="1.8" stroke-linecap="butt"/>
<line x1="1534.40" y1="2222.12" x2="1547.40" y2="2222.12" stroke="#0C8398" stroke-width="1.8" stroke-linecap="butt"/>
<line x1="1622.58" y1="2177.00" x2="1622.58" y2="2150.68" stroke="#0C8398" stroke-width="1.8" stroke-linecap="butt"/>
<line x1="1616.08" y1="2177.00" x2="1629.08" y2="2177.00" stroke="#0C8398" stroke-width="1.8" stroke-linecap="butt"/>
<line x1="1616.08" y1="2150.68" x2="1629.08" y2="2150.68" stroke="#0C8398" stroke-width="1.8" stroke-linecap="butt"/>
<line x1="1660.56" y1="2131.88" x2="1660.56" y2="2081.12" stroke="#0C8398" stroke-width="1.8" stroke-linecap="butt"/>
<line x1="1654.06" y1="2131.88" x2="1667.06" y2="2131.88" stroke="#0C8398" stroke-width="1.8" stroke-linecap="butt"/>
<line x1="1654.06" y1="2081.12" x2="1667.06" y2="2081.12" stroke="#0C8398" stroke-width="1.8" stroke-linecap="butt"/>
<line x1="1685.58" y1="2009.30" x2="1685.58" y2="1958.17" stroke="#0C8398" stroke-width="1.8" stroke-linecap="butt"/>
<line x1="1679.08" y1="2009.30" x2="1692.08" y2="2009.30" stroke="#0C8398" stroke-width="1.8" stroke-linecap="butt"/>
<line x1="1679.08" y1="1958.17" x2="1692.08" y2="1958.17" stroke="#0C8398" stroke-width="1.8" stroke-linecap="butt"/>
<line x1="1540.90" y1="2255.96" x2="1540.90" y2="2229.64" stroke="#0C8398" stroke-width="1.8" stroke-linecap="butt"/>
<line x1="1534.40" y1="2255.96" x2="1547.40" y2="2255.96" stroke="#0C8398" stroke-width="1.8" stroke-linecap="butt"/>
<line x1="1534.40" y1="2229.64" x2="1547.40" y2="2229.64" stroke="#0C8398" stroke-width="1.8" stroke-linecap="butt"/>
<line x1="1622.58" y1="2192.04" x2="1622.58" y2="2173.24" stroke="#0C8398" stroke-width="1.8" stroke-linecap="butt"/>
<line x1="1616.08" y1="2192.04" x2="1629.08" y2="2192.04" stroke="#0C8398" stroke-width="1.8" stroke-linecap="butt"/>
<line x1="1616.08" y1="2173.24" x2="1629.08" y2="2173.24" stroke="#0C8398" stroke-width="1.8" stroke-linecap="butt"/>
<line x1="1660.56" y1="2084.88" x2="1660.56" y2="2056.68" stroke="#0C8398" stroke-width="1.8" stroke-linecap="butt"/>
<line x1="1654.06" y1="2084.88" x2="1667.06" y2="2084.88" stroke="#0C8398" stroke-width="1.8" stroke-linecap="butt"/>
<line x1="1654.06" y1="2056.68" x2="1667.06" y2="2056.68" stroke="#0C8398" stroke-width="1.8" stroke-linecap="butt"/>
<line x1="1685.58" y1="1989.00" x2="1685.58" y2="1955.16" stroke="#0C8398" stroke-width="1.8" stroke-linecap="butt"/>
<line x1="1679.08" y1="1989.00" x2="1692.08" y2="1989.00" stroke="#0C8398" stroke-width="1.8" stroke-linecap="butt"/>
<line x1="1679.08" y1="1955.16" x2="1692.08" y2="1955.16" stroke="#0C8398" stroke-width="1.8" stroke-linecap="butt"/>
<line x1="1685.58" y1="1970.20" x2="1685.58" y2="1943.88" stroke="#0C8398" stroke-width="1.8" stroke-linecap="butt"/>
<line x1="1679.08" y1="1970.20" x2="1692.08" y2="1970.20" stroke="#0C8398" stroke-width="1.8" stroke-linecap="butt"/>
<line x1="1679.08" y1="1943.88" x2="1692.08" y2="1943.88" stroke="#0C8398" stroke-width="1.8" stroke-linecap="butt"/>
<line x1="1540.90" y1="2237.54" x2="1540.90" y2="2210.84" stroke="#0C8398" stroke-width="1.8" stroke-linecap="butt"/>
<line x1="1534.40" y1="2237.54" x2="1547.40" y2="2237.54" stroke="#0C8398" stroke-width="1.8" stroke-linecap="butt"/>
<line x1="1534.40" y1="2210.84" x2="1547.40" y2="2210.84" stroke="#0C8398" stroke-width="1.8" stroke-linecap="butt"/>
<line x1="1622.58" y1="2169.48" x2="1622.58" y2="2118.72" stroke="#0C8398" stroke-width="1.8" stroke-linecap="butt"/>
<line x1="1616.08" y1="2169.48" x2="1629.08" y2="2169.48" stroke="#0C8398" stroke-width="1.8" stroke-linecap="butt"/>
<line x1="1616.08" y1="2118.72" x2="1629.08" y2="2118.72" stroke="#0C8398" stroke-width="1.8" stroke-linecap="butt"/>
<line x1="1660.56" y1="2020.58" x2="1660.56" y2="1959.67" stroke="#0C8398" stroke-width="1.8" stroke-linecap="butt"/>
<line x1="1654.06" y1="2020.58" x2="1667.06" y2="2020.58" stroke="#0C8398" stroke-width="1.8" stroke-linecap="butt"/>
<line x1="1654.06" y1="1959.67" x2="1667.06" y2="1959.67" stroke="#0C8398" stroke-width="1.8" stroke-linecap="butt"/>
<line x1="1685.58" y1="1925.83" x2="1685.58" y2="1902.14" stroke="#0C8398" stroke-width="1.8" stroke-linecap="butt"/>
<line x1="1679.08" y1="1925.83" x2="1692.08" y2="1925.83" stroke="#0C8398" stroke-width="1.8" stroke-linecap="butt"/>
<line x1="1679.08" y1="1902.14" x2="1692.08" y2="1902.14" stroke="#0C8398" stroke-width="1.8" stroke-linecap="butt"/>
<polyline points="1489.36,2270.49 1491.92,2270.43 1494.47,2270.36 1497.02,2270.28 1499.58,2270.19 1502.13,2270.10 1504.69,2269.99 1507.24,2269.87 1509.79,2269.73 1512.35,2269.58 1514.90,2269.41 1517.45,2269.22 1520.01,2269.01 1522.56,2268.77 1525.11,2268.51 1527.67,2268.21 1530.22,2267.88 1532.77,2267.51 1535.33,2267.09 1537.88,2266.63 1540.44,2266.11 1542.99,2265.53 1545.54,2264.89 1548.10,2264.16 1550.65,2263.36 1553.20,2262.47 1555.76,2261.47 1558.31,2260.36 1560.86,2259.12 1563.42,2257.74 1565.97,2256.21 1568.52,2254.52 1571.08,2252.64 1573.63,2250.55 1576.19,2248.25 1578.74,2245.70 1581.29,2242.89 1583.85,2239.80 1586.40,2236.40 1588.95,2232.67 1591.51,2228.59 1594.06,2224.13 1596.61,2219.28 1599.17,2214.01 1601.72,2208.31 1604.28,2202.17 1606.83,2195.57 1609.38,2188.50 1611.94,2180.97 1614.49,2172.98 1617.04,2164.55 1619.60,2155.69 1622.15,2146.44 1624.70,2136.82 1627.26,2126.89 1629.81,2116.69 1632.36,2106.29 1634.92,2095.73 1637.47,2085.10 1640.03,2074.45 1642.58,2063.86 1645.13,2053.39 1647.69,2043.10 1650.24,2033.06 1652.79,2023.31 1655.35,2013.91 1657.90,2004.89 1660.45,1996.29 1663.01,1988.13 1665.56,1980.41 1668.11,1973.16 1670.67,1966.38 1673.22,1960.05 1675.78,1954.18 1678.33,1948.75 1680.88,1943.73 1683.44,1939.12 1685.99,1934.90 1688.54,1931.03 1691.10,1927.51 1693.65,1924.29 1696.20,1921.38 1698.76,1918.73 1701.31,1916.33 1703.86,1914.16 1706.42,1912.20 1708.97,1910.43 1711.53,1908.84 1714.08,1907.41 1716.63,1906.12 1719.19,1904.96" fill="none" stroke="#0C8398" stroke-width="3.4" stroke-linejoin="round" stroke-linecap="butt"/>
<polyline points="1489.36,2270.27 1491.92,2270.19 1494.47,2270.11 1497.02,2270.01 1499.58,2269.91 1502.13,2269.80 1504.69,2269.67 1507.24,2269.53 1509.79,2269.38 1512.35,2269.21 1514.90,2269.03 1517.45,2268.82 1520.01,2268.59 1522.56,2268.34 1525.11,2268.07 1527.67,2267.76 1530.22,2267.43 1532.77,2267.06 1535.33,2266.65 1537.88,2266.20 1540.44,2265.70 1542.99,2265.16 1545.54,2264.55 1548.10,2263.89 1550.65,2263.16 1553.20,2262.36 1555.76,2261.48 1558.31,2260.51 1560.86,2259.45 1563.42,2258.28 1565.97,2256.99 1568.52,2255.59 1571.08,2254.05 1573.63,2252.36 1576.19,2250.51 1578.74,2248.49 1581.29,2246.29 1583.85,2243.89 1586.40,2241.28 1588.95,2238.43 1591.51,2235.35 1594.06,2232.00 1596.61,2228.38 1599.17,2224.47 1601.72,2220.25 1604.28,2215.72 1606.83,2210.85 1609.38,2205.65 1611.94,2200.10 1614.49,2194.19 1617.04,2187.92 1619.60,2181.30 1622.15,2174.32 1624.70,2166.99 1627.26,2159.33 1629.81,2151.36 1632.36,2143.09 1634.92,2134.56 1637.47,2125.79 1640.03,2116.82 1642.58,2107.68 1645.13,2098.43 1647.69,2089.10 1650.24,2079.74 1652.79,2070.39 1655.35,2061.11 1657.90,2051.94 1660.45,2042.91 1663.01,2034.08 1665.56,2025.47 1668.11,2017.12 1670.67,2009.05 1673.22,2001.30 1675.78,1993.87 1678.33,1986.78 1680.88,1980.05 1683.44,1973.67 1685.99,1967.66 1688.54,1962.00 1691.10,1956.69 1693.65,1951.72 1696.20,1947.09 1698.76,1942.78 1701.31,1938.78 1703.86,1935.07 1706.42,1931.64 1708.97,1928.48 1711.53,1925.56 1714.08,1922.88 1716.63,1920.41 1719.19,1918.15" fill="none" stroke="#0C8398" stroke-width="3.4" stroke-linejoin="round" stroke-linecap="butt"/>
<polyline points="1489.36,2268.97 1491.92,2268.80 1494.47,2268.63 1497.02,2268.43 1499.58,2268.22 1502.13,2268.00 1504.69,2267.75 1507.24,2267.49 1509.79,2267.20 1512.35,2266.89 1514.90,2266.56 1517.45,2266.20 1520.01,2265.81 1522.56,2265.39 1525.11,2264.93 1527.67,2264.44 1530.22,2263.91 1532.77,2263.34 1535.33,2262.73 1537.88,2262.06 1540.44,2261.35 1542.99,2260.58 1545.54,2259.75 1548.10,2258.85 1550.65,2257.89 1553.20,2256.85 1555.76,2255.73 1558.31,2254.53 1560.86,2253.25 1563.42,2251.86 1565.97,2250.37 1568.52,2248.78 1571.08,2247.07 1573.63,2245.24 1576.19,2243.27 1578.74,2241.18 1581.29,2238.93 1583.85,2236.54 1586.40,2233.99 1588.95,2231.26 1591.51,2228.37 1594.06,2225.29 1596.61,2222.02 1599.17,2218.56 1601.72,2214.89 1604.28,2211.01 1606.83,2206.92 1609.38,2202.62 1611.94,2198.08 1614.49,2193.33 1617.04,2188.35 1619.60,2183.14 1622.15,2177.71 1624.70,2172.06 1627.26,2166.20 1629.81,2160.12 1632.36,2153.85 1634.92,2147.38 1637.47,2140.74 1640.03,2133.94 1642.58,2126.99 1645.13,2119.91 1647.69,2112.72 1650.24,2105.43 1652.79,2098.08 1655.35,2090.69 1657.90,2083.27 1660.45,2075.84 1663.01,2068.44 1665.56,2061.09 1668.11,2053.80 1670.67,2046.60 1673.22,2039.51 1675.78,2032.55 1678.33,2025.74 1680.88,2019.09 1683.44,2012.61 1685.99,2006.32 1688.54,2000.23 1691.10,1994.35 1693.65,1988.69 1696.20,1983.24 1698.76,1978.02 1701.31,1973.02 1703.86,1968.25 1706.42,1963.70 1708.97,1959.38 1711.53,1955.27 1714.08,1951.38 1716.63,1947.70 1719.19,1944.22" fill="none" stroke="#0C8398" stroke-width="3.4" stroke-linejoin="round" stroke-linecap="butt" stroke-dasharray="8.5 4.5"/>
<polyline points="1489.36,2270.41 1491.92,2270.35 1494.47,2270.27 1497.02,2270.20 1499.58,2270.11 1502.13,2270.01 1504.69,2269.91 1507.24,2269.79 1509.79,2269.66 1512.35,2269.51 1514.90,2269.35 1517.45,2269.17 1520.01,2268.98 1522.56,2268.76 1525.11,2268.52 1527.67,2268.25 1530.22,2267.95 1532.77,2267.62 1535.33,2267.26 1537.88,2266.86 1540.44,2266.42 1542.99,2265.92 1545.54,2265.38 1548.10,2264.78 1550.65,2264.12 1553.20,2263.39 1555.76,2262.58 1558.31,2261.69 1560.86,2260.71 1563.42,2259.62 1565.97,2258.43 1568.52,2257.12 1571.08,2255.67 1573.63,2254.08 1576.19,2252.34 1578.74,2250.42 1581.29,2248.32 1583.85,2246.03 1586.40,2243.51 1588.95,2240.77 1591.51,2237.78 1594.06,2234.52 1596.61,2230.99 1599.17,2227.15 1601.72,2223.00 1604.28,2218.52 1606.83,2213.69 1609.38,2208.50 1611.94,2202.95 1614.49,2197.01 1617.04,2190.70 1619.60,2184.00 1622.15,2176.92 1624.70,2169.47 1627.26,2161.65 1629.81,2153.49 1632.36,2145.01 1634.92,2136.24 1637.47,2127.21 1640.03,2117.95 1642.58,2108.52 1645.13,2098.96 1647.69,2089.31 1650.24,2079.63 1652.79,2069.96 1655.35,2060.36 1657.90,2050.89 1660.45,2041.57 1663.01,2032.47 1665.56,2023.62 1668.11,2015.04 1670.67,2006.79 1673.22,1998.86 1675.78,1991.30 1678.33,1984.11 1680.88,1977.29 1683.44,1970.86 1685.99,1964.81 1688.54,1959.14 1691.10,1953.85 1693.65,1948.91 1696.20,1944.33 1698.76,1940.08 1701.31,1936.14 1703.86,1932.52 1706.42,1929.18 1708.97,1926.11 1711.53,1923.29 1714.08,1920.71 1716.63,1918.35 1719.19,1916.19" fill="none" stroke="#0C8398" stroke-width="3.4" stroke-linejoin="round" stroke-linecap="butt" stroke-dasharray="8.5 4.5"/>
<polygon points="1483.52,2272.59 1495.21,2272.59 1489.36,2260.99" fill="#fff" stroke="#0C8398" stroke-width="3.9" stroke-linejoin="bevel" stroke-linecap="butt"/>
<polygon points="1535.06,2240.63 1546.74,2240.63 1540.90,2229.03" fill="#fff" stroke="#0C8398" stroke-width="3.9" stroke-linejoin="bevel" stroke-linecap="butt"/>
<polygon points="1616.74,2168.82 1628.42,2168.82 1622.58,2157.22" fill="#fff" stroke="#0C8398" stroke-width="3.9" stroke-linejoin="bevel" stroke-linecap="butt"/>
<polygon points="1654.72,2107.15 1666.41,2107.15 1660.56,2095.55" fill="#fff" stroke="#0C8398" stroke-width="3.9" stroke-linejoin="bevel" stroke-linecap="butt"/>
<polygon points="1679.74,1989.09 1691.42,1989.09 1685.58,1977.49" fill="#fff" stroke="#0C8398" stroke-width="3.9" stroke-linejoin="bevel" stroke-linecap="butt"/>
<polygon points="1481.12,2270.89 1497.60,2270.89 1489.36,2254.57" fill="#0C8398" stroke="none" stroke-width="0" stroke-linejoin="miter" stroke-linecap="butt"/>
<polygon points="1532.66,2251.34 1549.14,2251.34 1540.90,2235.02" fill="#0C8398" stroke="none" stroke-width="0" stroke-linejoin="miter" stroke-linecap="butt"/>
<polygon points="1614.34,2191.55 1630.82,2191.55 1622.58,2175.23" fill="#0C8398" stroke="none" stroke-width="0" stroke-linejoin="miter" stroke-linecap="butt"/>
<polygon points="1652.32,2077.62 1668.80,2077.62 1660.56,2061.30" fill="#0C8398" stroke="none" stroke-width="0" stroke-linejoin="miter" stroke-linecap="butt"/>
<polygon points="1677.34,1980.62 1693.82,1980.62 1685.58,1964.30" fill="#0C8398" stroke="none" stroke-width="0" stroke-linejoin="miter" stroke-linecap="butt"/>
<polygon points="1677.34,1966.33 1693.82,1966.33 1685.58,1950.01" fill="#0C8398" stroke="none" stroke-width="0" stroke-linejoin="miter" stroke-linecap="butt"/>
<polygon points="1710.95,1919.70 1727.43,1919.70 1719.19,1903.38" fill="#0C8398" stroke="none" stroke-width="0" stroke-linejoin="miter" stroke-linecap="butt"/>
<polygon points="1483.52,2255.67 1495.21,2255.67 1489.36,2244.07" fill="#fff" stroke="#0C8398" stroke-width="3.9" stroke-linejoin="bevel" stroke-linecap="butt"/>
<polygon points="1535.06,2229.35 1546.74,2229.35 1540.90,2217.75" fill="#fff" stroke="#0C8398" stroke-width="3.9" stroke-linejoin="bevel" stroke-linecap="butt"/>
<polygon points="1616.74,2149.64 1628.42,2149.64 1622.58,2138.04" fill="#fff" stroke="#0C8398" stroke-width="3.9" stroke-linejoin="bevel" stroke-linecap="butt"/>
<polygon points="1654.72,1996.23 1666.41,1996.23 1660.56,1984.63" fill="#fff" stroke="#0C8398" stroke-width="3.9" stroke-linejoin="bevel" stroke-linecap="butt"/>
<polygon points="1679.74,1918.78 1691.42,1918.78 1685.58,1907.18" fill="#fff" stroke="#0C8398" stroke-width="3.9" stroke-linejoin="bevel" stroke-linecap="butt"/>
<polygon points="1713.34,1904.49 1725.03,1904.49 1719.19,1892.89" fill="#fff" stroke="#0C8398" stroke-width="3.9" stroke-linejoin="bevel" stroke-linecap="butt"/>
<line x1="1858.50" y1="2271.00" x2="1858.50" y2="1890.80" stroke="#000" stroke-width="3.6" stroke-linecap="butt"/>
<line x1="1844.70" y1="2271.00" x2="1860.30" y2="2271.00" stroke="#000" stroke-width="3.6" stroke-linecap="butt"/>
<text x="1827.49" y="2280.25" font-size="26.5">0</text>
<line x1="1851.20" y1="2144.87" x2="1860.30" y2="2144.87" stroke="#000" stroke-width="3.6" stroke-linecap="butt"/>
<line x1="1851.20" y1="2018.73" x2="1860.30" y2="2018.73" stroke="#000" stroke-width="3.6" stroke-linecap="butt"/>
<line x1="1844.70" y1="1892.60" x2="1860.30" y2="1892.60" stroke="#000" stroke-width="3.6" stroke-linecap="butt"/>
<text x="1812.85" y="1901.85" font-size="26.5">15</text>
<line x1="1844.70" y1="2271.00" x2="1985.80" y2="2271.00" stroke="#000" stroke-width="3.6" stroke-linecap="butt"/>
<line x1="1893.80" y1="2271.00" x2="1893.80" y2="2284.20" stroke="#000" stroke-width="3.6" stroke-linecap="butt"/>
<line x1="1947.60" y1="2271.00" x2="1947.60" y2="2284.20" stroke="#000" stroke-width="3.6" stroke-linecap="butt"/>
<text transform="translate(1900.50 2315.00) rotate(-45)" x="-76.63" y="0" font-size="29.0" font-weight="bold">Day 1</text>
<text transform="translate(1954.30 2315.00) rotate(-45)" x="-76.34" y="0" font-size="29.0" font-weight="bold">Day 9</text>
<text transform="translate(1831.70 2239.8) rotate(-90)" x="0" y="0" font-size="30.5" font-weight="bold" textLength="320.5" lengthAdjust="spacingAndGlyphs">ED<tspan font-size="24.5" dy="7.5">50</tspan><tspan dy="-7.5"> ± 95% CI (mg/kg)</tspan></text>
<line x1="1947.60" y1="2155.21" x2="1947.60" y2="2139.06" stroke="#0C8398" stroke-width="1.8" stroke-linecap="butt"/>
<line x1="1940.30" y1="2155.21" x2="1954.90" y2="2155.21" stroke="#0C8398" stroke-width="1.8" stroke-linecap="butt"/>
<line x1="1940.30" y1="2139.06" x2="1954.90" y2="2139.06" stroke="#0C8398" stroke-width="1.8" stroke-linecap="butt"/>
<line x1="1947.60" y1="2177.16" x2="1947.60" y2="2152.43" stroke="#0C8398" stroke-width="1.8" stroke-linecap="butt"/>
<line x1="1940.30" y1="2177.16" x2="1954.90" y2="2177.16" stroke="#0C8398" stroke-width="1.8" stroke-linecap="butt"/>
<line x1="1940.30" y1="2152.43" x2="1954.90" y2="2152.43" stroke="#0C8398" stroke-width="1.8" stroke-linecap="butt"/>
<line x1="1893.80" y1="2162.53" x2="1947.60" y2="2149.16" stroke="#0C8398" stroke-width="3.3" stroke-linecap="butt"/>
<line x1="1893.80" y1="2177.91" x2="1947.60" y2="2162.53" stroke="#0C8398" stroke-width="3.3" stroke-linecap="butt"/>
<polygon points="1887.80,2183.41 1899.80,2183.41 1893.80,2171.50" fill="#fff" stroke="#0C8398" stroke-width="3.9" stroke-linejoin="bevel" stroke-linecap="butt"/>
<polygon points="1941.60,2168.02 1953.60,2168.02 1947.60,2156.12" fill="#fff" stroke="#0C8398" stroke-width="3.9" stroke-linejoin="bevel" stroke-linecap="butt"/>
<polygon points="1885.41,2170.84 1902.19,2170.84 1893.80,2154.21" fill="#0C8398" stroke="none" stroke-width="0" stroke-linejoin="miter" stroke-linecap="butt"/>
<polygon points="1939.21,2157.47 1955.99,2157.47 1947.60,2140.84" fill="#0C8398" stroke="none" stroke-width="0" stroke-linejoin="miter" stroke-linecap="butt"/>
</svg>
</body></html>
